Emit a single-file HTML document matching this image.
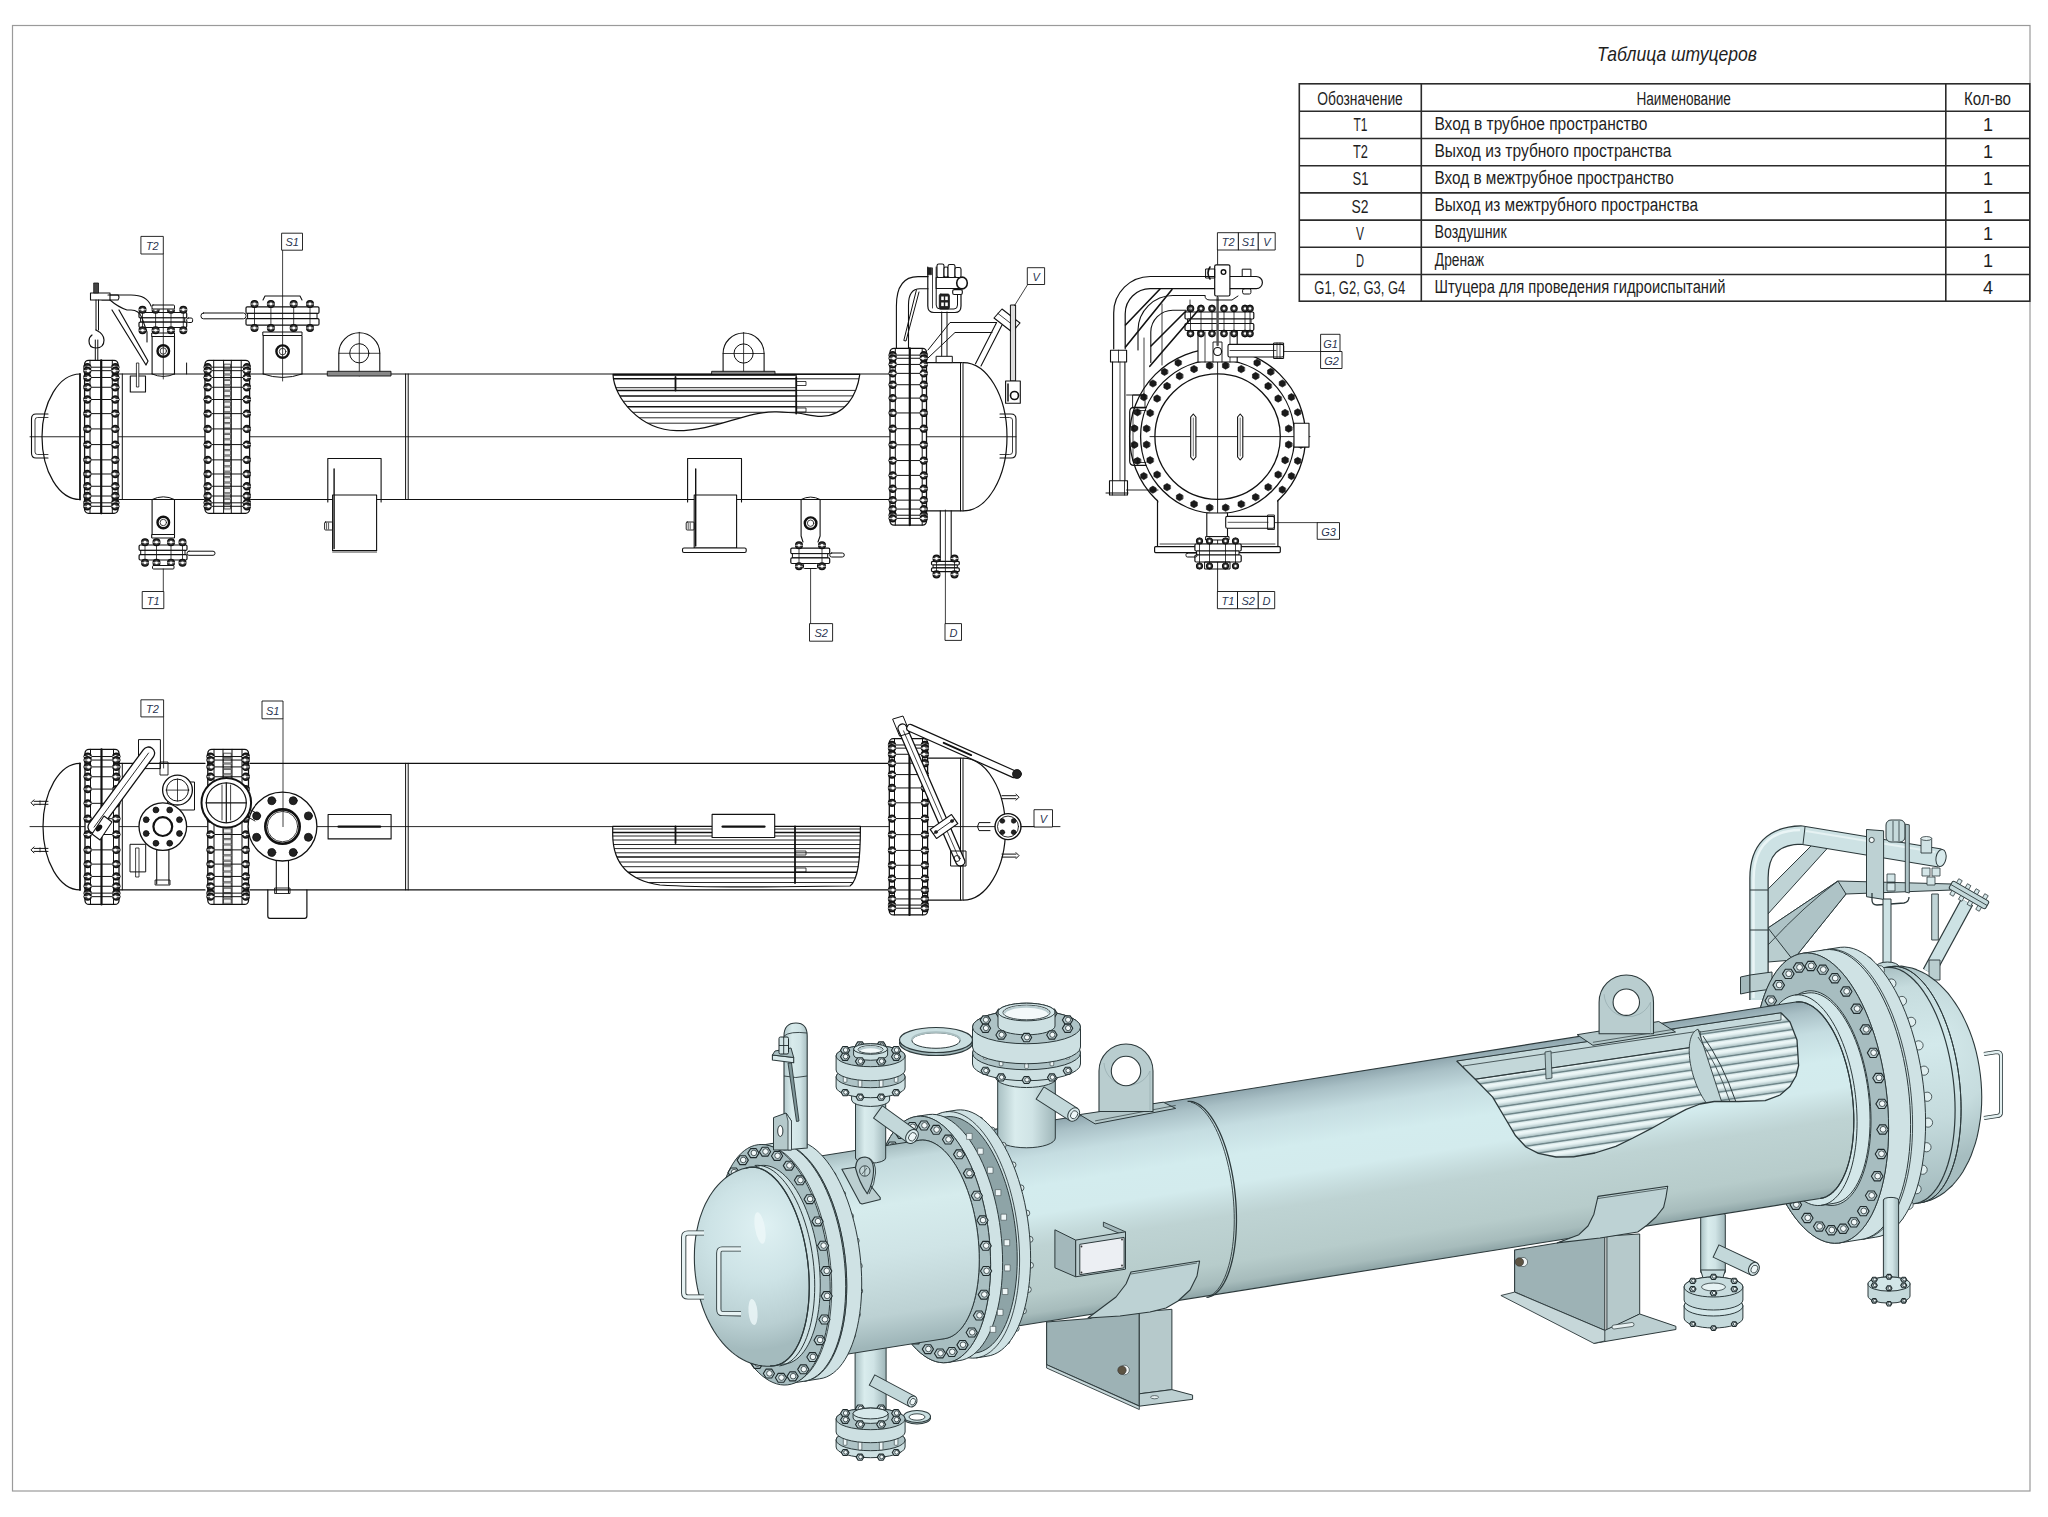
<!DOCTYPE html>
<html><head><meta charset="utf-8"><title>Heat exchanger</title>
<style>
html,body{margin:0;padding:0;background:#fff;width:2048px;height:1517px;overflow:hidden}
svg{display:block}
text{font-family:"Liberation Sans",sans-serif}
.tb text{font-size:18px;fill:#1e1e1e}
.ln{fill:none;stroke:#2a2a2a;stroke-width:1.3}
.th{fill:none;stroke:#2a2a2a;stroke-width:0.9}
.lt{font-size:11px;font-style:italic;fill:#2a3550;stroke:none;font-family:"Liberation Sans",sans-serif}
</style></head>
<body>
<svg width="2048" height="1517" viewBox="0 0 2048 1517">
<rect x="0" y="0" width="2048" height="1517" fill="#fff"/>
<!-- frame -->
<rect x="12.5" y="25.5" width="2017.5" height="1465.5" fill="none" stroke="#9a9a9a" stroke-width="1.2"/>

<!-- TABLE -->
<g id="table">
<text x="1677" y="61" font-size="21" font-style="italic" text-anchor="middle" fill="#1e1e1e" textLength="160" lengthAdjust="spacingAndGlyphs">Таблица штуцеров</text>
<g stroke="#2b2b2b" stroke-width="1.6" fill="none">
<rect x="1299.3" y="83.8" width="730.5" height="217.4"/>
<line x1="1421.3" y1="83.8" x2="1421.3" y2="301.2"/>
<line x1="1945.8" y1="83.8" x2="1945.8" y2="301.2"/>
<line x1="1299.3" y1="111.2" x2="2029.8" y2="111.2"/>
<line x1="1299.3" y1="138.5" x2="2029.8" y2="138.5"/>
<line x1="1299.3" y1="165.7" x2="2029.8" y2="165.7"/>
<line x1="1299.3" y1="192.9" x2="2029.8" y2="192.9"/>
<line x1="1299.3" y1="220.1" x2="2029.8" y2="220.1"/>
<line x1="1299.3" y1="247.3" x2="2029.8" y2="247.3"/>
<line x1="1299.3" y1="274.5" x2="2029.8" y2="274.5"/>
</g>
<g class="tb">
<text x="1317.3" y="104.5" textLength="85.5" lengthAdjust="spacingAndGlyphs">Обозначение</text>
<text x="1636.4" y="104.5" textLength="94.5" lengthAdjust="spacingAndGlyphs">Наименование</text>
<text x="1964" y="104.5" textLength="47" lengthAdjust="spacingAndGlyphs">Кол-во</text>

<text x="1360.5" y="131" text-anchor="middle" textLength="14" lengthAdjust="spacingAndGlyphs">T1</text>
<text x="1360.5" y="158" text-anchor="middle" textLength="15" lengthAdjust="spacingAndGlyphs">T2</text>
<text x="1360.5" y="185" text-anchor="middle" textLength="16" lengthAdjust="spacingAndGlyphs">S1</text>
<text x="1360" y="212.5" text-anchor="middle" textLength="17" lengthAdjust="spacingAndGlyphs">S2</text>
<text x="1360" y="239.5" text-anchor="middle" textLength="8" lengthAdjust="spacingAndGlyphs">V</text>
<text x="1360" y="267" text-anchor="middle" textLength="8" lengthAdjust="spacingAndGlyphs">D</text>
<text x="1314.3" y="294" textLength="91" lengthAdjust="spacingAndGlyphs">G1, G2, G3, G4</text>

<text x="1434.4" y="130" textLength="213" lengthAdjust="spacingAndGlyphs">Вход в трубное пространство</text>
<text x="1434.4" y="157" textLength="237" lengthAdjust="spacingAndGlyphs">Выход из трубного пространства</text>
<text x="1434.4" y="184" textLength="239.5" lengthAdjust="spacingAndGlyphs">Вход в межтрубное пространство</text>
<text x="1434.4" y="211" textLength="263.7" lengthAdjust="spacingAndGlyphs">Выход из межтрубного пространства</text>
<text x="1434.4" y="238.3" textLength="72.3" lengthAdjust="spacingAndGlyphs">Воздушник</text>
<text x="1434.8" y="265.5" textLength="49.2" lengthAdjust="spacingAndGlyphs">Дренаж</text>
<text x="1434.4" y="292.5" textLength="291" lengthAdjust="spacingAndGlyphs">Штуцера для проведения гидроиспытаний</text>

<text x="1988" y="131" text-anchor="middle">1</text>
<text x="1988" y="158" text-anchor="middle">1</text>
<text x="1988" y="185" text-anchor="middle">1</text>
<text x="1988" y="212.5" text-anchor="middle">1</text>
<text x="1988" y="239.5" text-anchor="middle">1</text>
<text x="1988" y="267" text-anchor="middle">1</text>
<text x="1988" y="294" text-anchor="middle">4</text>
</g>
</g>

<g id="viewA" fill="none" stroke="#111" stroke-width="1.25" stroke-linecap="round" stroke-linejoin="round">
<line x1="30" y1="436.75" x2="1016" y2="436.75" stroke-width="0.9"/>
<path d="M80,374 A38,62.75 0 0 0 80,499.5" stroke-width="1.2"/>
<line x1="80" y1="374" x2="80" y2="499.5" stroke-width="1.8"/>
<path d="M48,414 L36,414 Q31.5,414 31.5,419 L31.5,453 Q31.5,458 36,458 L48,458" stroke-width="1.1"/>
<path d="M48,417.5 L37.5,417.5 Q35,417.5 35,420 L35,452 Q35,454.5 37.5,454.5 L48,454.5" stroke-width="0.8"/>
<line x1="119" y1="374" x2="204" y2="374" stroke-width="1.2"/>
<line x1="119" y1="499.5" x2="204" y2="499.5" stroke-width="1.2"/>
<line x1="122.3" y1="374" x2="122.3" y2="499.5" stroke-width="1"/>
<line x1="250.6" y1="374" x2="889" y2="374" stroke-width="1.2"/>
<line x1="250.6" y1="499.5" x2="889" y2="499.5" stroke-width="1.2"/>
<line x1="405.6" y1="374" x2="405.6" y2="499.5" stroke-width="1"/>
<line x1="408.2" y1="374" x2="408.2" y2="499.5" stroke-width="1"/>
<rect x="84.6" y="360.3" width="33.4" height="153" rx="4" fill="#fff" stroke-width="1.3"/>
<line x1="90" y1="360.3" x2="90" y2="513.3" stroke-width="1"/>
<line x1="112.3" y1="360.3" x2="112.3" y2="513.3" stroke-width="1"/>
<line x1="101.2" y1="360.3" x2="101.2" y2="513.3" stroke-width="2.2"/>
<line x1="83.6" y1="367.19" x2="119" y2="367.19" stroke-width="1"/>
<circle cx="87.3" cy="367.19" r="3.4" fill="#3a3a3a" stroke-width="1.5"/>
<circle cx="88.2" cy="367.19" r="1.5" fill="#fff" stroke-width="0"/>
<line x1="83.9" y1="367.19" x2="90.7" y2="367.19" stroke-width="0.8" stroke="#fff"/>
<circle cx="115.3" cy="367.19" r="3.4" fill="#3a3a3a" stroke-width="1.5"/>
<circle cx="114.4" cy="367.19" r="1.5" fill="#fff" stroke-width="0"/>
<line x1="111.9" y1="367.19" x2="118.7" y2="367.19" stroke-width="0.8" stroke="#fff"/>
<line x1="83.6" y1="370.68" x2="119" y2="370.68" stroke-width="1"/>
<circle cx="87.3" cy="370.68" r="3.4" fill="#3a3a3a" stroke-width="1.5"/>
<circle cx="88.2" cy="370.68" r="1.5" fill="#fff" stroke-width="0"/>
<line x1="83.9" y1="370.68" x2="90.7" y2="370.68" stroke-width="0.8" stroke="#fff"/>
<circle cx="115.3" cy="370.68" r="3.4" fill="#3a3a3a" stroke-width="1.5"/>
<circle cx="114.4" cy="370.68" r="1.5" fill="#fff" stroke-width="0"/>
<line x1="111.9" y1="370.68" x2="118.7" y2="370.68" stroke-width="0.8" stroke="#fff"/>
<line x1="83.6" y1="377.48" x2="119" y2="377.48" stroke-width="1"/>
<circle cx="87.3" cy="377.48" r="3.4" fill="#3a3a3a" stroke-width="1.5"/>
<circle cx="88.2" cy="377.48" r="1.5" fill="#fff" stroke-width="0"/>
<line x1="83.9" y1="377.48" x2="90.7" y2="377.48" stroke-width="0.8" stroke="#fff"/>
<circle cx="115.3" cy="377.48" r="3.4" fill="#3a3a3a" stroke-width="1.5"/>
<circle cx="114.4" cy="377.48" r="1.5" fill="#fff" stroke-width="0"/>
<line x1="111.9" y1="377.48" x2="118.7" y2="377.48" stroke-width="0.8" stroke="#fff"/>
<line x1="83.6" y1="387.25" x2="119" y2="387.25" stroke-width="1"/>
<circle cx="87.3" cy="387.25" r="3.4" fill="#3a3a3a" stroke-width="1.5"/>
<circle cx="88.2" cy="387.25" r="1.5" fill="#fff" stroke-width="0"/>
<line x1="83.9" y1="387.25" x2="90.7" y2="387.25" stroke-width="0.8" stroke="#fff"/>
<circle cx="115.3" cy="387.25" r="3.4" fill="#3a3a3a" stroke-width="1.5"/>
<circle cx="114.4" cy="387.25" r="1.5" fill="#fff" stroke-width="0"/>
<line x1="111.9" y1="387.25" x2="118.7" y2="387.25" stroke-width="0.8" stroke="#fff"/>
<line x1="83.6" y1="399.51" x2="119" y2="399.51" stroke-width="1"/>
<circle cx="87.3" cy="399.51" r="3.4" fill="#3a3a3a" stroke-width="1.5"/>
<circle cx="88.2" cy="399.51" r="1.5" fill="#fff" stroke-width="0"/>
<line x1="83.9" y1="399.51" x2="90.7" y2="399.51" stroke-width="0.8" stroke="#fff"/>
<circle cx="115.3" cy="399.51" r="3.4" fill="#3a3a3a" stroke-width="1.5"/>
<circle cx="114.4" cy="399.51" r="1.5" fill="#fff" stroke-width="0"/>
<line x1="111.9" y1="399.51" x2="118.7" y2="399.51" stroke-width="0.8" stroke="#fff"/>
<line x1="83.6" y1="413.63" x2="119" y2="413.63" stroke-width="1"/>
<circle cx="87.3" cy="413.63" r="3.4" fill="#3a3a3a" stroke-width="1.5"/>
<circle cx="88.2" cy="413.63" r="1.5" fill="#fff" stroke-width="0"/>
<line x1="83.9" y1="413.63" x2="90.7" y2="413.63" stroke-width="0.8" stroke="#fff"/>
<circle cx="115.3" cy="413.63" r="3.4" fill="#3a3a3a" stroke-width="1.5"/>
<circle cx="114.4" cy="413.63" r="1.5" fill="#fff" stroke-width="0"/>
<line x1="111.9" y1="413.63" x2="118.7" y2="413.63" stroke-width="0.8" stroke="#fff"/>
<line x1="83.6" y1="428.91" x2="119" y2="428.91" stroke-width="1"/>
<circle cx="87.3" cy="428.91" r="3.4" fill="#3a3a3a" stroke-width="1.5"/>
<circle cx="88.2" cy="428.91" r="1.5" fill="#fff" stroke-width="0"/>
<line x1="83.9" y1="428.91" x2="90.7" y2="428.91" stroke-width="0.8" stroke="#fff"/>
<circle cx="115.3" cy="428.91" r="3.4" fill="#3a3a3a" stroke-width="1.5"/>
<circle cx="114.4" cy="428.91" r="1.5" fill="#fff" stroke-width="0"/>
<line x1="111.9" y1="428.91" x2="118.7" y2="428.91" stroke-width="0.8" stroke="#fff"/>
<line x1="83.6" y1="444.59" x2="119" y2="444.59" stroke-width="1"/>
<circle cx="87.3" cy="444.59" r="3.4" fill="#3a3a3a" stroke-width="1.5"/>
<circle cx="88.2" cy="444.59" r="1.5" fill="#fff" stroke-width="0"/>
<line x1="83.9" y1="444.59" x2="90.7" y2="444.59" stroke-width="0.8" stroke="#fff"/>
<circle cx="115.3" cy="444.59" r="3.4" fill="#3a3a3a" stroke-width="1.5"/>
<circle cx="114.4" cy="444.59" r="1.5" fill="#fff" stroke-width="0"/>
<line x1="111.9" y1="444.59" x2="118.7" y2="444.59" stroke-width="0.8" stroke="#fff"/>
<line x1="83.6" y1="459.87" x2="119" y2="459.87" stroke-width="1"/>
<circle cx="87.3" cy="459.87" r="3.4" fill="#3a3a3a" stroke-width="1.5"/>
<circle cx="88.2" cy="459.87" r="1.5" fill="#fff" stroke-width="0"/>
<line x1="83.9" y1="459.87" x2="90.7" y2="459.87" stroke-width="0.8" stroke="#fff"/>
<circle cx="115.3" cy="459.87" r="3.4" fill="#3a3a3a" stroke-width="1.5"/>
<circle cx="114.4" cy="459.87" r="1.5" fill="#fff" stroke-width="0"/>
<line x1="111.9" y1="459.87" x2="118.7" y2="459.87" stroke-width="0.8" stroke="#fff"/>
<line x1="83.6" y1="473.99" x2="119" y2="473.99" stroke-width="1"/>
<circle cx="87.3" cy="473.99" r="3.4" fill="#3a3a3a" stroke-width="1.5"/>
<circle cx="88.2" cy="473.99" r="1.5" fill="#fff" stroke-width="0"/>
<line x1="83.9" y1="473.99" x2="90.7" y2="473.99" stroke-width="0.8" stroke="#fff"/>
<circle cx="115.3" cy="473.99" r="3.4" fill="#3a3a3a" stroke-width="1.5"/>
<circle cx="114.4" cy="473.99" r="1.5" fill="#fff" stroke-width="0"/>
<line x1="111.9" y1="473.99" x2="118.7" y2="473.99" stroke-width="0.8" stroke="#fff"/>
<line x1="83.6" y1="486.25" x2="119" y2="486.25" stroke-width="1"/>
<circle cx="87.3" cy="486.25" r="3.4" fill="#3a3a3a" stroke-width="1.5"/>
<circle cx="88.2" cy="486.25" r="1.5" fill="#fff" stroke-width="0"/>
<line x1="83.9" y1="486.25" x2="90.7" y2="486.25" stroke-width="0.8" stroke="#fff"/>
<circle cx="115.3" cy="486.25" r="3.4" fill="#3a3a3a" stroke-width="1.5"/>
<circle cx="114.4" cy="486.25" r="1.5" fill="#fff" stroke-width="0"/>
<line x1="111.9" y1="486.25" x2="118.7" y2="486.25" stroke-width="0.8" stroke="#fff"/>
<line x1="83.6" y1="496.02" x2="119" y2="496.02" stroke-width="1"/>
<circle cx="87.3" cy="496.02" r="3.4" fill="#3a3a3a" stroke-width="1.5"/>
<circle cx="88.2" cy="496.02" r="1.5" fill="#fff" stroke-width="0"/>
<line x1="83.9" y1="496.02" x2="90.7" y2="496.02" stroke-width="0.8" stroke="#fff"/>
<circle cx="115.3" cy="496.02" r="3.4" fill="#3a3a3a" stroke-width="1.5"/>
<circle cx="114.4" cy="496.02" r="1.5" fill="#fff" stroke-width="0"/>
<line x1="111.9" y1="496.02" x2="118.7" y2="496.02" stroke-width="0.8" stroke="#fff"/>
<line x1="83.6" y1="502.82" x2="119" y2="502.82" stroke-width="1"/>
<circle cx="87.3" cy="502.82" r="3.4" fill="#3a3a3a" stroke-width="1.5"/>
<circle cx="88.2" cy="502.82" r="1.5" fill="#fff" stroke-width="0"/>
<line x1="83.9" y1="502.82" x2="90.7" y2="502.82" stroke-width="0.8" stroke="#fff"/>
<circle cx="115.3" cy="502.82" r="3.4" fill="#3a3a3a" stroke-width="1.5"/>
<circle cx="114.4" cy="502.82" r="1.5" fill="#fff" stroke-width="0"/>
<line x1="111.9" y1="502.82" x2="118.7" y2="502.82" stroke-width="0.8" stroke="#fff"/>
<line x1="83.6" y1="506.31" x2="119" y2="506.31" stroke-width="1"/>
<circle cx="87.3" cy="506.31" r="3.4" fill="#3a3a3a" stroke-width="1.5"/>
<circle cx="88.2" cy="506.31" r="1.5" fill="#fff" stroke-width="0"/>
<line x1="83.9" y1="506.31" x2="90.7" y2="506.31" stroke-width="0.8" stroke="#fff"/>
<circle cx="115.3" cy="506.31" r="3.4" fill="#3a3a3a" stroke-width="1.5"/>
<circle cx="114.4" cy="506.31" r="1.5" fill="#fff" stroke-width="0"/>
<line x1="111.9" y1="506.31" x2="118.7" y2="506.31" stroke-width="0.8" stroke="#fff"/>
<rect x="205" y="360.3" width="44.6" height="153" rx="4" fill="#fff" stroke-width="1.3"/>
<rect x="223.6" y="363.3" width="7.7" height="147" fill="#d9d9d9" stroke-width="0"/>
<rect x="224.4" y="364.3" width="6.1" height="4.2" fill="#f2f2f2" stroke-width="0.7" stroke="#333"/>
<rect x="224.4" y="369.7" width="6.1" height="4.2" fill="#f2f2f2" stroke-width="0.7" stroke="#333"/>
<rect x="224.4" y="375.1" width="6.1" height="4.2" fill="#f2f2f2" stroke-width="0.7" stroke="#333"/>
<rect x="224.4" y="380.5" width="6.1" height="4.2" fill="#f2f2f2" stroke-width="0.7" stroke="#333"/>
<rect x="224.4" y="385.9" width="6.1" height="4.2" fill="#f2f2f2" stroke-width="0.7" stroke="#333"/>
<rect x="224.4" y="391.3" width="6.1" height="4.2" fill="#f2f2f2" stroke-width="0.7" stroke="#333"/>
<rect x="224.4" y="396.7" width="6.1" height="4.2" fill="#f2f2f2" stroke-width="0.7" stroke="#333"/>
<rect x="224.4" y="402.1" width="6.1" height="4.2" fill="#f2f2f2" stroke-width="0.7" stroke="#333"/>
<rect x="224.4" y="407.5" width="6.1" height="4.2" fill="#f2f2f2" stroke-width="0.7" stroke="#333"/>
<rect x="224.4" y="412.9" width="6.1" height="4.2" fill="#f2f2f2" stroke-width="0.7" stroke="#333"/>
<rect x="224.4" y="418.3" width="6.1" height="4.2" fill="#f2f2f2" stroke-width="0.7" stroke="#333"/>
<rect x="224.4" y="423.7" width="6.1" height="4.2" fill="#f2f2f2" stroke-width="0.7" stroke="#333"/>
<rect x="224.4" y="429.1" width="6.1" height="4.2" fill="#f2f2f2" stroke-width="0.7" stroke="#333"/>
<rect x="224.4" y="434.5" width="6.1" height="4.2" fill="#f2f2f2" stroke-width="0.7" stroke="#333"/>
<rect x="224.4" y="439.9" width="6.1" height="4.2" fill="#f2f2f2" stroke-width="0.7" stroke="#333"/>
<rect x="224.4" y="445.3" width="6.1" height="4.2" fill="#f2f2f2" stroke-width="0.7" stroke="#333"/>
<rect x="224.4" y="450.7" width="6.1" height="4.2" fill="#f2f2f2" stroke-width="0.7" stroke="#333"/>
<rect x="224.4" y="456.1" width="6.1" height="4.2" fill="#f2f2f2" stroke-width="0.7" stroke="#333"/>
<rect x="224.4" y="461.5" width="6.1" height="4.2" fill="#f2f2f2" stroke-width="0.7" stroke="#333"/>
<rect x="224.4" y="466.9" width="6.1" height="4.2" fill="#f2f2f2" stroke-width="0.7" stroke="#333"/>
<rect x="224.4" y="472.3" width="6.1" height="4.2" fill="#f2f2f2" stroke-width="0.7" stroke="#333"/>
<rect x="224.4" y="477.7" width="6.1" height="4.2" fill="#f2f2f2" stroke-width="0.7" stroke="#333"/>
<rect x="224.4" y="483.1" width="6.1" height="4.2" fill="#f2f2f2" stroke-width="0.7" stroke="#333"/>
<rect x="224.4" y="488.5" width="6.1" height="4.2" fill="#f2f2f2" stroke-width="0.7" stroke="#333"/>
<rect x="224.4" y="493.9" width="6.1" height="4.2" fill="#f2f2f2" stroke-width="0.7" stroke="#333"/>
<rect x="224.4" y="499.3" width="6.1" height="4.2" fill="#f2f2f2" stroke-width="0.7" stroke="#333"/>
<rect x="224.4" y="504.7" width="6.1" height="4.2" fill="#f2f2f2" stroke-width="0.7" stroke="#333"/>
<line x1="213.7" y1="360.3" x2="213.7" y2="513.3" stroke-width="1"/>
<line x1="223.6" y1="360.3" x2="223.6" y2="513.3" stroke-width="1"/>
<line x1="231.3" y1="360.3" x2="231.3" y2="513.3" stroke-width="1"/>
<line x1="241.2" y1="360.3" x2="241.2" y2="513.3" stroke-width="1"/>
<line x1="204" y1="367.19" x2="250.6" y2="367.19" stroke-width="1"/>
<circle cx="207.7" cy="367.19" r="3.4" fill="#3a3a3a" stroke-width="1.5"/>
<circle cx="208.6" cy="367.19" r="1.5" fill="#fff" stroke-width="0"/>
<line x1="204.3" y1="367.19" x2="211.1" y2="367.19" stroke-width="0.8" stroke="#fff"/>
<circle cx="246.9" cy="367.19" r="3.4" fill="#3a3a3a" stroke-width="1.5"/>
<circle cx="246" cy="367.19" r="1.5" fill="#fff" stroke-width="0"/>
<line x1="243.5" y1="367.19" x2="250.3" y2="367.19" stroke-width="0.8" stroke="#fff"/>
<line x1="204" y1="370.68" x2="250.6" y2="370.68" stroke-width="1"/>
<circle cx="207.7" cy="370.68" r="3.4" fill="#3a3a3a" stroke-width="1.5"/>
<circle cx="208.6" cy="370.68" r="1.5" fill="#fff" stroke-width="0"/>
<line x1="204.3" y1="370.68" x2="211.1" y2="370.68" stroke-width="0.8" stroke="#fff"/>
<circle cx="246.9" cy="370.68" r="3.4" fill="#3a3a3a" stroke-width="1.5"/>
<circle cx="246" cy="370.68" r="1.5" fill="#fff" stroke-width="0"/>
<line x1="243.5" y1="370.68" x2="250.3" y2="370.68" stroke-width="0.8" stroke="#fff"/>
<line x1="204" y1="377.48" x2="250.6" y2="377.48" stroke-width="1"/>
<circle cx="207.7" cy="377.48" r="3.4" fill="#3a3a3a" stroke-width="1.5"/>
<circle cx="208.6" cy="377.48" r="1.5" fill="#fff" stroke-width="0"/>
<line x1="204.3" y1="377.48" x2="211.1" y2="377.48" stroke-width="0.8" stroke="#fff"/>
<circle cx="246.9" cy="377.48" r="3.4" fill="#3a3a3a" stroke-width="1.5"/>
<circle cx="246" cy="377.48" r="1.5" fill="#fff" stroke-width="0"/>
<line x1="243.5" y1="377.48" x2="250.3" y2="377.48" stroke-width="0.8" stroke="#fff"/>
<line x1="204" y1="387.25" x2="250.6" y2="387.25" stroke-width="1"/>
<circle cx="207.7" cy="387.25" r="3.4" fill="#3a3a3a" stroke-width="1.5"/>
<circle cx="208.6" cy="387.25" r="1.5" fill="#fff" stroke-width="0"/>
<line x1="204.3" y1="387.25" x2="211.1" y2="387.25" stroke-width="0.8" stroke="#fff"/>
<circle cx="246.9" cy="387.25" r="3.4" fill="#3a3a3a" stroke-width="1.5"/>
<circle cx="246" cy="387.25" r="1.5" fill="#fff" stroke-width="0"/>
<line x1="243.5" y1="387.25" x2="250.3" y2="387.25" stroke-width="0.8" stroke="#fff"/>
<line x1="204" y1="399.51" x2="250.6" y2="399.51" stroke-width="1"/>
<circle cx="207.7" cy="399.51" r="3.4" fill="#3a3a3a" stroke-width="1.5"/>
<circle cx="208.6" cy="399.51" r="1.5" fill="#fff" stroke-width="0"/>
<line x1="204.3" y1="399.51" x2="211.1" y2="399.51" stroke-width="0.8" stroke="#fff"/>
<circle cx="246.9" cy="399.51" r="3.4" fill="#3a3a3a" stroke-width="1.5"/>
<circle cx="246" cy="399.51" r="1.5" fill="#fff" stroke-width="0"/>
<line x1="243.5" y1="399.51" x2="250.3" y2="399.51" stroke-width="0.8" stroke="#fff"/>
<line x1="204" y1="413.63" x2="250.6" y2="413.63" stroke-width="1"/>
<circle cx="207.7" cy="413.63" r="3.4" fill="#3a3a3a" stroke-width="1.5"/>
<circle cx="208.6" cy="413.63" r="1.5" fill="#fff" stroke-width="0"/>
<line x1="204.3" y1="413.63" x2="211.1" y2="413.63" stroke-width="0.8" stroke="#fff"/>
<circle cx="246.9" cy="413.63" r="3.4" fill="#3a3a3a" stroke-width="1.5"/>
<circle cx="246" cy="413.63" r="1.5" fill="#fff" stroke-width="0"/>
<line x1="243.5" y1="413.63" x2="250.3" y2="413.63" stroke-width="0.8" stroke="#fff"/>
<line x1="204" y1="428.91" x2="250.6" y2="428.91" stroke-width="1"/>
<circle cx="207.7" cy="428.91" r="3.4" fill="#3a3a3a" stroke-width="1.5"/>
<circle cx="208.6" cy="428.91" r="1.5" fill="#fff" stroke-width="0"/>
<line x1="204.3" y1="428.91" x2="211.1" y2="428.91" stroke-width="0.8" stroke="#fff"/>
<circle cx="246.9" cy="428.91" r="3.4" fill="#3a3a3a" stroke-width="1.5"/>
<circle cx="246" cy="428.91" r="1.5" fill="#fff" stroke-width="0"/>
<line x1="243.5" y1="428.91" x2="250.3" y2="428.91" stroke-width="0.8" stroke="#fff"/>
<line x1="204" y1="444.59" x2="250.6" y2="444.59" stroke-width="1"/>
<circle cx="207.7" cy="444.59" r="3.4" fill="#3a3a3a" stroke-width="1.5"/>
<circle cx="208.6" cy="444.59" r="1.5" fill="#fff" stroke-width="0"/>
<line x1="204.3" y1="444.59" x2="211.1" y2="444.59" stroke-width="0.8" stroke="#fff"/>
<circle cx="246.9" cy="444.59" r="3.4" fill="#3a3a3a" stroke-width="1.5"/>
<circle cx="246" cy="444.59" r="1.5" fill="#fff" stroke-width="0"/>
<line x1="243.5" y1="444.59" x2="250.3" y2="444.59" stroke-width="0.8" stroke="#fff"/>
<line x1="204" y1="459.87" x2="250.6" y2="459.87" stroke-width="1"/>
<circle cx="207.7" cy="459.87" r="3.4" fill="#3a3a3a" stroke-width="1.5"/>
<circle cx="208.6" cy="459.87" r="1.5" fill="#fff" stroke-width="0"/>
<line x1="204.3" y1="459.87" x2="211.1" y2="459.87" stroke-width="0.8" stroke="#fff"/>
<circle cx="246.9" cy="459.87" r="3.4" fill="#3a3a3a" stroke-width="1.5"/>
<circle cx="246" cy="459.87" r="1.5" fill="#fff" stroke-width="0"/>
<line x1="243.5" y1="459.87" x2="250.3" y2="459.87" stroke-width="0.8" stroke="#fff"/>
<line x1="204" y1="473.99" x2="250.6" y2="473.99" stroke-width="1"/>
<circle cx="207.7" cy="473.99" r="3.4" fill="#3a3a3a" stroke-width="1.5"/>
<circle cx="208.6" cy="473.99" r="1.5" fill="#fff" stroke-width="0"/>
<line x1="204.3" y1="473.99" x2="211.1" y2="473.99" stroke-width="0.8" stroke="#fff"/>
<circle cx="246.9" cy="473.99" r="3.4" fill="#3a3a3a" stroke-width="1.5"/>
<circle cx="246" cy="473.99" r="1.5" fill="#fff" stroke-width="0"/>
<line x1="243.5" y1="473.99" x2="250.3" y2="473.99" stroke-width="0.8" stroke="#fff"/>
<line x1="204" y1="486.25" x2="250.6" y2="486.25" stroke-width="1"/>
<circle cx="207.7" cy="486.25" r="3.4" fill="#3a3a3a" stroke-width="1.5"/>
<circle cx="208.6" cy="486.25" r="1.5" fill="#fff" stroke-width="0"/>
<line x1="204.3" y1="486.25" x2="211.1" y2="486.25" stroke-width="0.8" stroke="#fff"/>
<circle cx="246.9" cy="486.25" r="3.4" fill="#3a3a3a" stroke-width="1.5"/>
<circle cx="246" cy="486.25" r="1.5" fill="#fff" stroke-width="0"/>
<line x1="243.5" y1="486.25" x2="250.3" y2="486.25" stroke-width="0.8" stroke="#fff"/>
<line x1="204" y1="496.02" x2="250.6" y2="496.02" stroke-width="1"/>
<circle cx="207.7" cy="496.02" r="3.4" fill="#3a3a3a" stroke-width="1.5"/>
<circle cx="208.6" cy="496.02" r="1.5" fill="#fff" stroke-width="0"/>
<line x1="204.3" y1="496.02" x2="211.1" y2="496.02" stroke-width="0.8" stroke="#fff"/>
<circle cx="246.9" cy="496.02" r="3.4" fill="#3a3a3a" stroke-width="1.5"/>
<circle cx="246" cy="496.02" r="1.5" fill="#fff" stroke-width="0"/>
<line x1="243.5" y1="496.02" x2="250.3" y2="496.02" stroke-width="0.8" stroke="#fff"/>
<line x1="204" y1="502.82" x2="250.6" y2="502.82" stroke-width="1"/>
<circle cx="207.7" cy="502.82" r="3.4" fill="#3a3a3a" stroke-width="1.5"/>
<circle cx="208.6" cy="502.82" r="1.5" fill="#fff" stroke-width="0"/>
<line x1="204.3" y1="502.82" x2="211.1" y2="502.82" stroke-width="0.8" stroke="#fff"/>
<circle cx="246.9" cy="502.82" r="3.4" fill="#3a3a3a" stroke-width="1.5"/>
<circle cx="246" cy="502.82" r="1.5" fill="#fff" stroke-width="0"/>
<line x1="243.5" y1="502.82" x2="250.3" y2="502.82" stroke-width="0.8" stroke="#fff"/>
<line x1="204" y1="506.31" x2="250.6" y2="506.31" stroke-width="1"/>
<circle cx="207.7" cy="506.31" r="3.4" fill="#3a3a3a" stroke-width="1.5"/>
<circle cx="208.6" cy="506.31" r="1.5" fill="#fff" stroke-width="0"/>
<line x1="204.3" y1="506.31" x2="211.1" y2="506.31" stroke-width="0.8" stroke="#fff"/>
<circle cx="246.9" cy="506.31" r="3.4" fill="#3a3a3a" stroke-width="1.5"/>
<circle cx="246" cy="506.31" r="1.5" fill="#fff" stroke-width="0"/>
<line x1="243.5" y1="506.31" x2="250.3" y2="506.31" stroke-width="0.8" stroke="#fff"/>
<rect x="890" y="348.4" width="36.5" height="176.7" rx="4" fill="#fff" stroke-width="1.3"/>
<line x1="895.3" y1="348.4" x2="895.3" y2="525.1" stroke-width="1"/>
<line x1="922.2" y1="348.4" x2="922.2" y2="525.1" stroke-width="1"/>
<line x1="909.8" y1="348.4" x2="909.8" y2="525.1" stroke-width="2.2"/>
<line x1="889" y1="355.14" x2="927.5" y2="355.14" stroke-width="1"/>
<circle cx="892.7" cy="355.14" r="3.4" fill="#3a3a3a" stroke-width="1.5"/>
<circle cx="893.6" cy="355.14" r="1.5" fill="#fff" stroke-width="0"/>
<line x1="889.3" y1="355.14" x2="896.1" y2="355.14" stroke-width="0.8" stroke="#fff"/>
<circle cx="923.8" cy="355.14" r="3.4" fill="#3a3a3a" stroke-width="1.5"/>
<circle cx="922.9" cy="355.14" r="1.5" fill="#fff" stroke-width="0"/>
<line x1="920.4" y1="355.14" x2="927.2" y2="355.14" stroke-width="0.8" stroke="#fff"/>
<line x1="889" y1="358.28" x2="927.5" y2="358.28" stroke-width="1"/>
<circle cx="892.7" cy="358.28" r="3.4" fill="#3a3a3a" stroke-width="1.5"/>
<circle cx="893.6" cy="358.28" r="1.5" fill="#fff" stroke-width="0"/>
<line x1="889.3" y1="358.28" x2="896.1" y2="358.28" stroke-width="0.8" stroke="#fff"/>
<circle cx="923.8" cy="358.28" r="3.4" fill="#3a3a3a" stroke-width="1.5"/>
<circle cx="922.9" cy="358.28" r="1.5" fill="#fff" stroke-width="0"/>
<line x1="920.4" y1="358.28" x2="927.2" y2="358.28" stroke-width="0.8" stroke="#fff"/>
<line x1="889" y1="364.43" x2="927.5" y2="364.43" stroke-width="1"/>
<circle cx="892.7" cy="364.43" r="3.4" fill="#3a3a3a" stroke-width="1.5"/>
<circle cx="893.6" cy="364.43" r="1.5" fill="#fff" stroke-width="0"/>
<line x1="889.3" y1="364.43" x2="896.1" y2="364.43" stroke-width="0.8" stroke="#fff"/>
<circle cx="923.8" cy="364.43" r="3.4" fill="#3a3a3a" stroke-width="1.5"/>
<circle cx="922.9" cy="364.43" r="1.5" fill="#fff" stroke-width="0"/>
<line x1="920.4" y1="364.43" x2="927.2" y2="364.43" stroke-width="0.8" stroke="#fff"/>
<line x1="889" y1="373.36" x2="927.5" y2="373.36" stroke-width="1"/>
<circle cx="892.7" cy="373.36" r="3.4" fill="#3a3a3a" stroke-width="1.5"/>
<circle cx="893.6" cy="373.36" r="1.5" fill="#fff" stroke-width="0"/>
<line x1="889.3" y1="373.36" x2="896.1" y2="373.36" stroke-width="0.8" stroke="#fff"/>
<circle cx="923.8" cy="373.36" r="3.4" fill="#3a3a3a" stroke-width="1.5"/>
<circle cx="922.9" cy="373.36" r="1.5" fill="#fff" stroke-width="0"/>
<line x1="920.4" y1="373.36" x2="927.2" y2="373.36" stroke-width="0.8" stroke="#fff"/>
<line x1="889" y1="384.73" x2="927.5" y2="384.73" stroke-width="1"/>
<circle cx="892.7" cy="384.73" r="3.4" fill="#3a3a3a" stroke-width="1.5"/>
<circle cx="893.6" cy="384.73" r="1.5" fill="#fff" stroke-width="0"/>
<line x1="889.3" y1="384.73" x2="896.1" y2="384.73" stroke-width="0.8" stroke="#fff"/>
<circle cx="923.8" cy="384.73" r="3.4" fill="#3a3a3a" stroke-width="1.5"/>
<circle cx="922.9" cy="384.73" r="1.5" fill="#fff" stroke-width="0"/>
<line x1="920.4" y1="384.73" x2="927.2" y2="384.73" stroke-width="0.8" stroke="#fff"/>
<line x1="889" y1="398.1" x2="927.5" y2="398.1" stroke-width="1"/>
<circle cx="892.7" cy="398.1" r="3.4" fill="#3a3a3a" stroke-width="1.5"/>
<circle cx="893.6" cy="398.1" r="1.5" fill="#fff" stroke-width="0"/>
<line x1="889.3" y1="398.1" x2="896.1" y2="398.1" stroke-width="0.8" stroke="#fff"/>
<circle cx="923.8" cy="398.1" r="3.4" fill="#3a3a3a" stroke-width="1.5"/>
<circle cx="922.9" cy="398.1" r="1.5" fill="#fff" stroke-width="0"/>
<line x1="920.4" y1="398.1" x2="927.2" y2="398.1" stroke-width="0.8" stroke="#fff"/>
<line x1="889" y1="412.95" x2="927.5" y2="412.95" stroke-width="1"/>
<circle cx="892.7" cy="412.95" r="3.4" fill="#3a3a3a" stroke-width="1.5"/>
<circle cx="893.6" cy="412.95" r="1.5" fill="#fff" stroke-width="0"/>
<line x1="889.3" y1="412.95" x2="896.1" y2="412.95" stroke-width="0.8" stroke="#fff"/>
<circle cx="923.8" cy="412.95" r="3.4" fill="#3a3a3a" stroke-width="1.5"/>
<circle cx="922.9" cy="412.95" r="1.5" fill="#fff" stroke-width="0"/>
<line x1="920.4" y1="412.95" x2="927.2" y2="412.95" stroke-width="0.8" stroke="#fff"/>
<line x1="889" y1="428.71" x2="927.5" y2="428.71" stroke-width="1"/>
<circle cx="892.7" cy="428.71" r="3.4" fill="#3a3a3a" stroke-width="1.5"/>
<circle cx="893.6" cy="428.71" r="1.5" fill="#fff" stroke-width="0"/>
<line x1="889.3" y1="428.71" x2="896.1" y2="428.71" stroke-width="0.8" stroke="#fff"/>
<circle cx="923.8" cy="428.71" r="3.4" fill="#3a3a3a" stroke-width="1.5"/>
<circle cx="922.9" cy="428.71" r="1.5" fill="#fff" stroke-width="0"/>
<line x1="920.4" y1="428.71" x2="927.2" y2="428.71" stroke-width="0.8" stroke="#fff"/>
<line x1="889" y1="444.79" x2="927.5" y2="444.79" stroke-width="1"/>
<circle cx="892.7" cy="444.79" r="3.4" fill="#3a3a3a" stroke-width="1.5"/>
<circle cx="893.6" cy="444.79" r="1.5" fill="#fff" stroke-width="0"/>
<line x1="889.3" y1="444.79" x2="896.1" y2="444.79" stroke-width="0.8" stroke="#fff"/>
<circle cx="923.8" cy="444.79" r="3.4" fill="#3a3a3a" stroke-width="1.5"/>
<circle cx="922.9" cy="444.79" r="1.5" fill="#fff" stroke-width="0"/>
<line x1="920.4" y1="444.79" x2="927.2" y2="444.79" stroke-width="0.8" stroke="#fff"/>
<line x1="889" y1="460.55" x2="927.5" y2="460.55" stroke-width="1"/>
<circle cx="892.7" cy="460.55" r="3.4" fill="#3a3a3a" stroke-width="1.5"/>
<circle cx="893.6" cy="460.55" r="1.5" fill="#fff" stroke-width="0"/>
<line x1="889.3" y1="460.55" x2="896.1" y2="460.55" stroke-width="0.8" stroke="#fff"/>
<circle cx="923.8" cy="460.55" r="3.4" fill="#3a3a3a" stroke-width="1.5"/>
<circle cx="922.9" cy="460.55" r="1.5" fill="#fff" stroke-width="0"/>
<line x1="920.4" y1="460.55" x2="927.2" y2="460.55" stroke-width="0.8" stroke="#fff"/>
<line x1="889" y1="475.4" x2="927.5" y2="475.4" stroke-width="1"/>
<circle cx="892.7" cy="475.4" r="3.4" fill="#3a3a3a" stroke-width="1.5"/>
<circle cx="893.6" cy="475.4" r="1.5" fill="#fff" stroke-width="0"/>
<line x1="889.3" y1="475.4" x2="896.1" y2="475.4" stroke-width="0.8" stroke="#fff"/>
<circle cx="923.8" cy="475.4" r="3.4" fill="#3a3a3a" stroke-width="1.5"/>
<circle cx="922.9" cy="475.4" r="1.5" fill="#fff" stroke-width="0"/>
<line x1="920.4" y1="475.4" x2="927.2" y2="475.4" stroke-width="0.8" stroke="#fff"/>
<line x1="889" y1="488.77" x2="927.5" y2="488.77" stroke-width="1"/>
<circle cx="892.7" cy="488.77" r="3.4" fill="#3a3a3a" stroke-width="1.5"/>
<circle cx="893.6" cy="488.77" r="1.5" fill="#fff" stroke-width="0"/>
<line x1="889.3" y1="488.77" x2="896.1" y2="488.77" stroke-width="0.8" stroke="#fff"/>
<circle cx="923.8" cy="488.77" r="3.4" fill="#3a3a3a" stroke-width="1.5"/>
<circle cx="922.9" cy="488.77" r="1.5" fill="#fff" stroke-width="0"/>
<line x1="920.4" y1="488.77" x2="927.2" y2="488.77" stroke-width="0.8" stroke="#fff"/>
<line x1="889" y1="500.14" x2="927.5" y2="500.14" stroke-width="1"/>
<circle cx="892.7" cy="500.14" r="3.4" fill="#3a3a3a" stroke-width="1.5"/>
<circle cx="893.6" cy="500.14" r="1.5" fill="#fff" stroke-width="0"/>
<line x1="889.3" y1="500.14" x2="896.1" y2="500.14" stroke-width="0.8" stroke="#fff"/>
<circle cx="923.8" cy="500.14" r="3.4" fill="#3a3a3a" stroke-width="1.5"/>
<circle cx="922.9" cy="500.14" r="1.5" fill="#fff" stroke-width="0"/>
<line x1="920.4" y1="500.14" x2="927.2" y2="500.14" stroke-width="0.8" stroke="#fff"/>
<line x1="889" y1="509.07" x2="927.5" y2="509.07" stroke-width="1"/>
<circle cx="892.7" cy="509.07" r="3.4" fill="#3a3a3a" stroke-width="1.5"/>
<circle cx="893.6" cy="509.07" r="1.5" fill="#fff" stroke-width="0"/>
<line x1="889.3" y1="509.07" x2="896.1" y2="509.07" stroke-width="0.8" stroke="#fff"/>
<circle cx="923.8" cy="509.07" r="3.4" fill="#3a3a3a" stroke-width="1.5"/>
<circle cx="922.9" cy="509.07" r="1.5" fill="#fff" stroke-width="0"/>
<line x1="920.4" y1="509.07" x2="927.2" y2="509.07" stroke-width="0.8" stroke="#fff"/>
<line x1="889" y1="515.22" x2="927.5" y2="515.22" stroke-width="1"/>
<circle cx="892.7" cy="515.22" r="3.4" fill="#3a3a3a" stroke-width="1.5"/>
<circle cx="893.6" cy="515.22" r="1.5" fill="#fff" stroke-width="0"/>
<line x1="889.3" y1="515.22" x2="896.1" y2="515.22" stroke-width="0.8" stroke="#fff"/>
<circle cx="923.8" cy="515.22" r="3.4" fill="#3a3a3a" stroke-width="1.5"/>
<circle cx="922.9" cy="515.22" r="1.5" fill="#fff" stroke-width="0"/>
<line x1="920.4" y1="515.22" x2="927.2" y2="515.22" stroke-width="0.8" stroke="#fff"/>
<line x1="889" y1="518.36" x2="927.5" y2="518.36" stroke-width="1"/>
<circle cx="892.7" cy="518.36" r="3.4" fill="#3a3a3a" stroke-width="1.5"/>
<circle cx="893.6" cy="518.36" r="1.5" fill="#fff" stroke-width="0"/>
<line x1="889.3" y1="518.36" x2="896.1" y2="518.36" stroke-width="0.8" stroke="#fff"/>
<circle cx="923.8" cy="518.36" r="3.4" fill="#3a3a3a" stroke-width="1.5"/>
<circle cx="922.9" cy="518.36" r="1.5" fill="#fff" stroke-width="0"/>
<line x1="920.4" y1="518.36" x2="927.2" y2="518.36" stroke-width="0.8" stroke="#fff"/>
<line x1="927.5" y1="362.6" x2="962" y2="362.6" stroke-width="1.2"/>
<line x1="927.5" y1="510.9" x2="962" y2="510.9" stroke-width="1.2"/>
<line x1="960.5" y1="362.6" x2="960.5" y2="510.9" stroke-width="1"/>
<line x1="963" y1="362.6" x2="963" y2="510.9" stroke-width="1"/>
<path d="M963,362.6 A44,74.15 0 0 1 963,510.9" stroke-width="1.2"/>
<path d="M1000,414 L1011,414 Q1016,414 1016,419 L1016,453 Q1016,458 1011,458 L1000,458" stroke-width="1.1"/>
<path d="M1000,417.5 L1009.5,417.5 Q1012.5,417.5 1012.5,420 L1012.5,452 Q1012.5,454.5 1009.5,454.5 L1000,454.5" stroke-width="0.8"/>
<path d="M152.1,374 L152.1,336 M174.5,374 L174.5,336" stroke-width="1.1"/>
<path d="M152.1,374 Q163.3,379 174.5,374" stroke-width="1"/>
<rect x="152.1" y="333" width="22.4" height="3.5" fill="#fff" stroke-width="1"/>
<circle cx="163.3" cy="351" r="5.8" fill="#fff" stroke-width="2.4"/>
<circle cx="163.3" cy="351" r="3.2" stroke-width="0.8"/>
<rect x="139" y="312.5" width="47.7" height="5.4" rx="1.2" fill="#fff" stroke-width="1.2"/>
<rect x="141" y="317.9" width="43.7" height="4.2" fill="#fff" stroke-width="1"/>
<rect x="139" y="322.1" width="47.7" height="5.4" rx="1.2" fill="#fff" stroke-width="1.2"/>
<line x1="142.5" y1="307.5" x2="142.5" y2="332.5" stroke-width="0.8"/>
<circle cx="142.5" cy="309.7" r="3.4" fill="#3a3a3a" stroke-width="1.3"/>
<circle cx="142.5" cy="309.7" r="1.4" fill="#fff" stroke-width="0"/>
<line x1="139.1" y1="309.7" x2="145.9" y2="309.7" stroke-width="0.7" stroke="#fff"/>
<circle cx="142.5" cy="330.3" r="3.4" fill="#3a3a3a" stroke-width="1.3"/>
<circle cx="142.5" cy="330.3" r="1.4" fill="#fff" stroke-width="0"/>
<line x1="139.1" y1="330.3" x2="145.9" y2="330.3" stroke-width="0.7" stroke="#fff"/>
<line x1="155.6" y1="307.5" x2="155.6" y2="332.5" stroke-width="0.8"/>
<circle cx="155.6" cy="309.7" r="3.4" fill="#3a3a3a" stroke-width="1.3"/>
<circle cx="155.6" cy="309.7" r="1.4" fill="#fff" stroke-width="0"/>
<line x1="152.2" y1="309.7" x2="159" y2="309.7" stroke-width="0.7" stroke="#fff"/>
<circle cx="155.6" cy="330.3" r="3.4" fill="#3a3a3a" stroke-width="1.3"/>
<circle cx="155.6" cy="330.3" r="1.4" fill="#fff" stroke-width="0"/>
<line x1="152.2" y1="330.3" x2="159" y2="330.3" stroke-width="0.7" stroke="#fff"/>
<line x1="171" y1="307.5" x2="171" y2="332.5" stroke-width="0.8"/>
<circle cx="171" cy="309.7" r="3.4" fill="#3a3a3a" stroke-width="1.3"/>
<circle cx="171" cy="309.7" r="1.4" fill="#fff" stroke-width="0"/>
<line x1="167.6" y1="309.7" x2="174.4" y2="309.7" stroke-width="0.7" stroke="#fff"/>
<circle cx="171" cy="330.3" r="3.4" fill="#3a3a3a" stroke-width="1.3"/>
<circle cx="171" cy="330.3" r="1.4" fill="#fff" stroke-width="0"/>
<line x1="167.6" y1="330.3" x2="174.4" y2="330.3" stroke-width="0.7" stroke="#fff"/>
<line x1="183.3" y1="307.5" x2="183.3" y2="332.5" stroke-width="0.8"/>
<circle cx="183.3" cy="309.7" r="3.4" fill="#3a3a3a" stroke-width="1.3"/>
<circle cx="183.3" cy="309.7" r="1.4" fill="#fff" stroke-width="0"/>
<line x1="179.9" y1="309.7" x2="186.7" y2="309.7" stroke-width="0.7" stroke="#fff"/>
<circle cx="183.3" cy="330.3" r="3.4" fill="#3a3a3a" stroke-width="1.3"/>
<circle cx="183.3" cy="330.3" r="1.4" fill="#fff" stroke-width="0"/>
<line x1="179.9" y1="330.3" x2="186.7" y2="330.3" stroke-width="0.7" stroke="#fff"/>
<rect x="152" y="305" width="22.5" height="4" rx="1" fill="#fff" stroke-width="1"/>
<rect x="186.7" y="318" width="5.9" height="4.5" rx="1.5" fill="#fff" stroke-width="1"/>
<path d="M263.2,374 L263.2,336 M302,374 L302,336" stroke-width="1.1"/>
<path d="M263.2,374 Q282.6,381 302,374" stroke-width="1"/>
<rect x="263.2" y="332" width="38.8" height="3.5" fill="#fff" stroke-width="1"/>
<circle cx="282.6" cy="351.6" r="6.2" fill="#fff" stroke-width="2.4"/>
<circle cx="282.6" cy="351.6" r="3.3" stroke-width="0.8"/>
<rect x="246" y="306.8" width="73" height="6.62" rx="1.2" fill="#fff" stroke-width="1.2"/>
<rect x="248" y="313.42" width="69" height="5.15" fill="#fff" stroke-width="1"/>
<rect x="246" y="318.58" width="73" height="6.62" rx="1.2" fill="#fff" stroke-width="1.2"/>
<line x1="254.5" y1="301.8" x2="254.5" y2="330.2" stroke-width="0.8"/>
<circle cx="254.5" cy="304" r="3.4" fill="#3a3a3a" stroke-width="1.3"/>
<circle cx="254.5" cy="304" r="1.4" fill="#fff" stroke-width="0"/>
<line x1="251.1" y1="304" x2="257.9" y2="304" stroke-width="0.7" stroke="#fff"/>
<circle cx="254.5" cy="328" r="3.4" fill="#3a3a3a" stroke-width="1.3"/>
<circle cx="254.5" cy="328" r="1.4" fill="#fff" stroke-width="0"/>
<line x1="251.1" y1="328" x2="257.9" y2="328" stroke-width="0.7" stroke="#fff"/>
<line x1="270.9" y1="301.8" x2="270.9" y2="330.2" stroke-width="0.8"/>
<circle cx="270.9" cy="304" r="3.4" fill="#3a3a3a" stroke-width="1.3"/>
<circle cx="270.9" cy="304" r="1.4" fill="#fff" stroke-width="0"/>
<line x1="267.5" y1="304" x2="274.3" y2="304" stroke-width="0.7" stroke="#fff"/>
<circle cx="270.9" cy="328" r="3.4" fill="#3a3a3a" stroke-width="1.3"/>
<circle cx="270.9" cy="328" r="1.4" fill="#fff" stroke-width="0"/>
<line x1="267.5" y1="328" x2="274.3" y2="328" stroke-width="0.7" stroke="#fff"/>
<line x1="293.7" y1="301.8" x2="293.7" y2="330.2" stroke-width="0.8"/>
<circle cx="293.7" cy="304" r="3.4" fill="#3a3a3a" stroke-width="1.3"/>
<circle cx="293.7" cy="304" r="1.4" fill="#fff" stroke-width="0"/>
<line x1="290.3" y1="304" x2="297.1" y2="304" stroke-width="0.7" stroke="#fff"/>
<circle cx="293.7" cy="328" r="3.4" fill="#3a3a3a" stroke-width="1.3"/>
<circle cx="293.7" cy="328" r="1.4" fill="#fff" stroke-width="0"/>
<line x1="290.3" y1="328" x2="297.1" y2="328" stroke-width="0.7" stroke="#fff"/>
<line x1="310" y1="301.8" x2="310" y2="330.2" stroke-width="0.8"/>
<circle cx="310" cy="304" r="3.4" fill="#3a3a3a" stroke-width="1.3"/>
<circle cx="310" cy="304" r="1.4" fill="#fff" stroke-width="0"/>
<line x1="306.6" y1="304" x2="313.4" y2="304" stroke-width="0.7" stroke="#fff"/>
<circle cx="310" cy="328" r="3.4" fill="#3a3a3a" stroke-width="1.3"/>
<circle cx="310" cy="328" r="1.4" fill="#fff" stroke-width="0"/>
<line x1="306.6" y1="328" x2="313.4" y2="328" stroke-width="0.7" stroke="#fff"/>
<path d="M263,300 L265,296 L300,296 L302,300" stroke-width="1.1"/>
<rect x="201" y="313" width="45" height="5.8" rx="2.5" fill="#fff" stroke-width="1"/>
<path d="M338.8,372 L338.8,353.3 A20.5,20.5 0 0 1 379.8,353.3 L379.8,372" stroke-width="1.1"/>
<circle cx="359.3" cy="353.3" r="9.6" stroke-width="1"/>
<line x1="338.8" y1="353.3" x2="379.8" y2="353.3" stroke-width="0.8"/>
<line x1="359.3" y1="332.3" x2="359.3" y2="376" stroke-width="0.8"/>
<rect x="327.7" y="371.3" width="63.3" height="4.7" fill="#888" stroke-width="0.9"/>
<path d="M723.1,372 L723.1,353.5 A20.5,20.5 0 0 1 764.1,353.5 L764.1,372" stroke-width="1.1"/>
<circle cx="743.6" cy="353.5" r="9.6" stroke-width="1"/>
<line x1="723.1" y1="353.5" x2="764.1" y2="353.5" stroke-width="0.8"/>
<line x1="743.6" y1="332.5" x2="743.6" y2="376" stroke-width="0.8"/>
<rect x="712" y="371.3" width="63" height="4.7" fill="#888" stroke-width="0.9"/>
<path d="M327.8,502 L327.8,458.5 L381.1,458.5 L381.1,502" stroke-width="1.1"/>
<path d="M332.6,550.5 L332.6,495 L376.6,495 L376.6,550.5" fill="#fff" stroke-width="1.1"/>
<line x1="332.6" y1="550.5" x2="376.6" y2="550.5" stroke-width="1.2"/>
<line x1="334.1" y1="469" x2="334.1" y2="548.5" stroke-width="1.4"/>
<rect x="324.6" y="522" width="8" height="8" rx="1" stroke-width="0.9"/>
<line x1="326.6" y1="523" x2="326.6" y2="529" stroke-width="0.7"/>
<line x1="328.6" y1="523" x2="328.6" y2="529" stroke-width="0.7"/>
<line x1="332.6" y1="552" x2="376.6" y2="552" stroke-width="0.8"/>
<path d="M687.6,502 L687.6,458.5 L741.5,458.5 L741.5,502" stroke-width="1.1"/>
<path d="M694.2,548 L694.2,495 L736.6,495 L736.6,548" fill="#fff" stroke-width="1.1"/>
<line x1="694.2" y1="548" x2="736.6" y2="548" stroke-width="1.2"/>
<line x1="695.7" y1="469" x2="695.7" y2="546" stroke-width="1.4"/>
<rect x="686.2" y="522" width="8" height="8" rx="1" stroke-width="0.9"/>
<line x1="688.2" y1="523" x2="688.2" y2="529" stroke-width="0.7"/>
<line x1="690.2" y1="523" x2="690.2" y2="529" stroke-width="0.7"/>
<rect x="682.5" y="548" width="63.7" height="4.5" rx="1.5" fill="#fff" stroke-width="1.1"/>
<path d="M152.1,499.5 L152.1,537 M174.5,499.5 L174.5,537" stroke-width="1.1"/>
<path d="M152.1,499.5 Q163.3,494 174.5,499.5" stroke-width="1"/>
<rect x="152.1" y="534.5" width="22.4" height="3.5" fill="#fff" stroke-width="1"/>
<circle cx="163.3" cy="522.5" r="5.8" fill="#fff" stroke-width="2.4"/>
<circle cx="163.3" cy="522.5" r="3.2" stroke-width="0.8"/>
<rect x="139.1" y="545" width="47.9" height="5.4" rx="1.2" fill="#fff" stroke-width="1.2"/>
<rect x="141.1" y="550.4" width="43.9" height="4.2" fill="#fff" stroke-width="1"/>
<rect x="139.1" y="554.6" width="47.9" height="5.4" rx="1.2" fill="#fff" stroke-width="1.2"/>
<line x1="145" y1="540" x2="145" y2="565" stroke-width="0.8"/>
<circle cx="145" cy="542.2" r="3.4" fill="#3a3a3a" stroke-width="1.3"/>
<circle cx="145" cy="542.2" r="1.4" fill="#fff" stroke-width="0"/>
<line x1="141.6" y1="542.2" x2="148.4" y2="542.2" stroke-width="0.7" stroke="#fff"/>
<circle cx="145" cy="562.8" r="3.4" fill="#3a3a3a" stroke-width="1.3"/>
<circle cx="145" cy="562.8" r="1.4" fill="#fff" stroke-width="0"/>
<line x1="141.6" y1="562.8" x2="148.4" y2="562.8" stroke-width="0.7" stroke="#fff"/>
<line x1="156.5" y1="540" x2="156.5" y2="565" stroke-width="0.8"/>
<circle cx="156.5" cy="542.2" r="3.4" fill="#3a3a3a" stroke-width="1.3"/>
<circle cx="156.5" cy="542.2" r="1.4" fill="#fff" stroke-width="0"/>
<line x1="153.1" y1="542.2" x2="159.9" y2="542.2" stroke-width="0.7" stroke="#fff"/>
<circle cx="156.5" cy="562.8" r="3.4" fill="#3a3a3a" stroke-width="1.3"/>
<circle cx="156.5" cy="562.8" r="1.4" fill="#fff" stroke-width="0"/>
<line x1="153.1" y1="562.8" x2="159.9" y2="562.8" stroke-width="0.7" stroke="#fff"/>
<line x1="171" y1="540" x2="171" y2="565" stroke-width="0.8"/>
<circle cx="171" cy="542.2" r="3.4" fill="#3a3a3a" stroke-width="1.3"/>
<circle cx="171" cy="542.2" r="1.4" fill="#fff" stroke-width="0"/>
<line x1="167.6" y1="542.2" x2="174.4" y2="542.2" stroke-width="0.7" stroke="#fff"/>
<circle cx="171" cy="562.8" r="3.4" fill="#3a3a3a" stroke-width="1.3"/>
<circle cx="171" cy="562.8" r="1.4" fill="#fff" stroke-width="0"/>
<line x1="167.6" y1="562.8" x2="174.4" y2="562.8" stroke-width="0.7" stroke="#fff"/>
<line x1="182.5" y1="540" x2="182.5" y2="565" stroke-width="0.8"/>
<circle cx="182.5" cy="542.2" r="3.4" fill="#3a3a3a" stroke-width="1.3"/>
<circle cx="182.5" cy="542.2" r="1.4" fill="#fff" stroke-width="0"/>
<line x1="179.1" y1="542.2" x2="185.9" y2="542.2" stroke-width="0.7" stroke="#fff"/>
<circle cx="182.5" cy="562.8" r="3.4" fill="#3a3a3a" stroke-width="1.3"/>
<circle cx="182.5" cy="562.8" r="1.4" fill="#fff" stroke-width="0"/>
<line x1="179.1" y1="562.8" x2="185.9" y2="562.8" stroke-width="0.7" stroke="#fff"/>
<rect x="152.5" y="565.5" width="21.5" height="3.5" rx="1" fill="#fff" stroke-width="1"/>
<rect x="187" y="551.2" width="28" height="4.1" rx="2" fill="#fff" stroke-width="1"/>
<path d="M801.1,499.5 L801.1,536 L803,542 M820.1,499.5 L820.1,536 L818,542" stroke-width="1.1"/>
<path d="M801.1,499.5 Q810.6,494.5 820.1,499.5" stroke-width="1"/>
<circle cx="810.6" cy="523.2" r="5.8" fill="#fff" stroke-width="2.4"/>
<circle cx="810.6" cy="523.2" r="3.2" stroke-width="0.8"/>
<rect x="790.8" y="548.1" width="38.9" height="5.54" rx="1.2" fill="#fff" stroke-width="1.2"/>
<rect x="792.8" y="553.64" width="34.9" height="4.31" fill="#fff" stroke-width="1"/>
<rect x="790.8" y="557.96" width="38.9" height="5.54" rx="1.2" fill="#fff" stroke-width="1.2"/>
<line x1="799" y1="543.1" x2="799" y2="568.5" stroke-width="0.8"/>
<circle cx="799" cy="545.3" r="3.4" fill="#3a3a3a" stroke-width="1.3"/>
<circle cx="799" cy="545.3" r="1.4" fill="#fff" stroke-width="0"/>
<line x1="795.6" y1="545.3" x2="802.4" y2="545.3" stroke-width="0.7" stroke="#fff"/>
<circle cx="799" cy="566.3" r="3.4" fill="#3a3a3a" stroke-width="1.3"/>
<circle cx="799" cy="566.3" r="1.4" fill="#fff" stroke-width="0"/>
<line x1="795.6" y1="566.3" x2="802.4" y2="566.3" stroke-width="0.7" stroke="#fff"/>
<line x1="822" y1="543.1" x2="822" y2="568.5" stroke-width="0.8"/>
<circle cx="822" cy="545.3" r="3.4" fill="#3a3a3a" stroke-width="1.3"/>
<circle cx="822" cy="545.3" r="1.4" fill="#fff" stroke-width="0"/>
<line x1="818.6" y1="545.3" x2="825.4" y2="545.3" stroke-width="0.7" stroke="#fff"/>
<circle cx="822" cy="566.3" r="3.4" fill="#3a3a3a" stroke-width="1.3"/>
<circle cx="822" cy="566.3" r="1.4" fill="#fff" stroke-width="0"/>
<line x1="818.6" y1="566.3" x2="825.4" y2="566.3" stroke-width="0.7" stroke="#fff"/>
<rect x="803.5" y="563.5" width="14" height="5" rx="1" fill="#fff" stroke-width="1"/>
<rect x="829.7" y="553" width="14.6" height="4" rx="2" fill="#fff" stroke-width="1"/>
<line x1="940.3" y1="510.9" x2="940.3" y2="561.3" stroke-width="1.1"/>
<line x1="951.2" y1="510.9" x2="951.2" y2="561.3" stroke-width="1.1"/>
<rect x="931.5" y="561.3" width="27.8" height="3.71" rx="1.2" fill="#fff" stroke-width="1.2"/>
<rect x="933.5" y="565.01" width="23.8" height="2.88" fill="#fff" stroke-width="1"/>
<rect x="931.5" y="567.89" width="27.8" height="3.71" rx="1.2" fill="#fff" stroke-width="1.2"/>
<line x1="936.5" y1="556.3" x2="936.5" y2="576.6" stroke-width="0.8"/>
<circle cx="936.5" cy="558.5" r="3.4" fill="#3a3a3a" stroke-width="1.3"/>
<circle cx="936.5" cy="558.5" r="1.4" fill="#fff" stroke-width="0"/>
<line x1="933.1" y1="558.5" x2="939.9" y2="558.5" stroke-width="0.7" stroke="#fff"/>
<circle cx="936.5" cy="574.4" r="3.4" fill="#3a3a3a" stroke-width="1.3"/>
<circle cx="936.5" cy="574.4" r="1.4" fill="#fff" stroke-width="0"/>
<line x1="933.1" y1="574.4" x2="939.9" y2="574.4" stroke-width="0.7" stroke="#fff"/>
<line x1="954.5" y1="556.3" x2="954.5" y2="576.6" stroke-width="0.8"/>
<circle cx="954.5" cy="558.5" r="3.4" fill="#3a3a3a" stroke-width="1.3"/>
<circle cx="954.5" cy="558.5" r="1.4" fill="#fff" stroke-width="0"/>
<line x1="951.1" y1="558.5" x2="957.9" y2="558.5" stroke-width="0.7" stroke="#fff"/>
<circle cx="954.5" cy="574.4" r="3.4" fill="#3a3a3a" stroke-width="1.3"/>
<circle cx="954.5" cy="574.4" r="1.4" fill="#fff" stroke-width="0"/>
<line x1="951.1" y1="574.4" x2="957.9" y2="574.4" stroke-width="0.7" stroke="#fff"/>
<path d="M613,374.4 C614,398 640,430 676.6,430.7 C715,431 745,411 776.4,411.9 C786,412 790,413 796.9,413 C806,414 812,416.5 821.5,416.4 C845,416 857,395 859.8,374.4 Z" fill="#fff" stroke-width="1.2"/>
<clipPath id="cutA"><path d="M613,374.4 C614,398 640,430 676.6,430.7 C715,431 745,411 776.4,411.9 C786,412 790,413 796.9,413 C806,414 812,416.5 821.5,416.4 C845,416 857,395 859.8,374.4 Z"/></clipPath>
<g clip-path="url(#cutA)">
<line x1="600" y1="375.4" x2="796.5" y2="375.4" stroke-width="0.9"/>
<line x1="600" y1="378.8" x2="796.5" y2="378.8" stroke-width="1.5"/>
<line x1="600" y1="387.7" x2="796.5" y2="387.7" stroke-width="0.9"/>
<line x1="600" y1="390.4" x2="796.5" y2="390.4" stroke-width="1.5"/>
<line x1="600" y1="395.9" x2="796.5" y2="395.9" stroke-width="1.5"/>
<line x1="600" y1="401.3" x2="796.5" y2="401.3" stroke-width="0.9"/>
<line x1="600" y1="406.8" x2="796.5" y2="406.8" stroke-width="1.5"/>
<line x1="600" y1="412.3" x2="796.5" y2="412.3" stroke-width="0.9"/>
<line x1="600" y1="417.8" x2="796.5" y2="417.8" stroke-width="0.9"/>
<line x1="600" y1="423.2" x2="796.5" y2="423.2" stroke-width="0.9"/>
<line x1="796.5" y1="378.8" x2="870" y2="378.8" stroke-width="0.9"/>
<line x1="796.5" y1="390.4" x2="870" y2="390.4" stroke-width="0.9"/>
<line x1="796.5" y1="395.9" x2="870" y2="395.9" stroke-width="0.9"/>
<line x1="796.5" y1="401.3" x2="870" y2="401.3" stroke-width="0.9"/>
<line x1="796.5" y1="406.8" x2="870" y2="406.8" stroke-width="0.9"/>
<line x1="796.5" y1="412.3" x2="870" y2="412.3" stroke-width="0.9"/>
</g>
<line x1="796.2" y1="377" x2="796.2" y2="413.5" stroke-width="1.8"/>
<line x1="675.5" y1="377" x2="675.5" y2="390.5" stroke-width="1.8"/>
<rect x="797" y="381.5" width="9" height="4" stroke-width="0.8"/>
<rect x="797" y="408" width="9" height="4" stroke-width="0.8"/>
<path d="M896.4,348.4 L896.4,306 Q896.4,276.6 918,276.6 L928,276.6" stroke-width="1.1"/>
<path d="M908.5,348.4 L908.5,305 Q908.5,288.8 920,288.8 L928,288.8" stroke-width="1.1"/>
<path d="M916.4,290 L903.8,340.5 L906,341 L919,292" stroke-width="1"/>
<path d="M927.8,267 L927.8,306 Q927.8,312.5 934,312.5 L955,312.5 Q961,312.5 961,306 L961,294" stroke-width="1.2"/>
<path d="M936.2,267 L936.2,305 Q936.2,309 940,309 L954,309 Q957.5,309 957.5,305 L957.5,294" stroke-width="1"/>
<line x1="932.5" y1="268" x2="932.5" y2="308" stroke-width="0.8"/>
<rect x="936.2" y="277.5" width="25.8" height="11" fill="#fff" stroke-width="1.2"/>
<ellipse cx="962" cy="283" rx="5.3" ry="5.9" fill="#fff" stroke-width="1.6"/>
<rect x="937" y="264" width="7" height="13.5" rx="1.8" fill="#fff" stroke-width="1.1"/>
<rect x="944" y="267" width="4" height="10" rx="1.8" fill="#fff" stroke-width="1.1"/>
<rect x="948" y="264.5" width="7" height="13" rx="1.8" fill="#fff" stroke-width="1.1"/>
<rect x="955" y="267.5" width="6" height="10" rx="1.8" fill="#fff" stroke-width="1.1"/>
<rect x="928" y="267.7" width="3.6" height="7" fill="#222" stroke-width="0.6"/>
<rect x="939.3" y="294" width="10.1" height="15" rx="1.5" fill="#222" stroke-width="0.8"/>
<rect x="941.2" y="296.5" width="2.6" height="3.6" fill="#fff" stroke-width="0"/>
<rect x="945.2" y="296.5" width="2.6" height="3.6" fill="#fff" stroke-width="0"/>
<rect x="941.2" y="302.5" width="2.6" height="3.6" fill="#fff" stroke-width="0"/>
<rect x="945.2" y="302.5" width="2.6" height="3.6" fill="#fff" stroke-width="0"/>
<rect x="952.7" y="289.6" width="9.6" height="4.9" rx="1.5" fill="#fff" stroke-width="1.1"/>
<line x1="941.7" y1="312" x2="941.7" y2="356.3" stroke-width="1"/>
<line x1="947" y1="312" x2="947" y2="356.3" stroke-width="1"/>
<rect x="936.5" y="356.3" width="15.8" height="6.3" fill="#fff" stroke-width="1"/>
<path d="M928,350 L950,322.5 L996.6,322.5 M928,358 L955,332.5 L992,332.5" stroke-width="1"/>
<path d="M975.5,363.7 L996.6,322.5 M981,366 L1002,325" stroke-width="1.1"/>
<path d="M994,318 L1002,309 L1020,323 L1012,332 Z" fill="#fff" stroke-width="1.1"/>
<line x1="998" y1="313.5" x2="1016" y2="327.5" stroke-width="0.8"/>
<rect x="1010.8" y="305" width="4.8" height="76" fill="#ddd" stroke-width="1"/>
<rect x="1005.6" y="381" width="14.7" height="22.2" fill="#fff" stroke-width="1.1"/>
<circle cx="1014.5" cy="395.5" r="4" fill="#fff" stroke-width="1.6"/>
<line x1="1008" y1="384" x2="1008" y2="401" stroke-width="1.5"/>
<line x1="163.3" y1="254" x2="163.3" y2="379" stroke-width="0.8"/>
<line x1="282.6" y1="250.2" x2="282.6" y2="381" stroke-width="0.8"/>
<line x1="163.3" y1="569" x2="163.3" y2="591.5" stroke-width="0.8"/>
<line x1="810.6" y1="569" x2="810.6" y2="623.6" stroke-width="0.8"/>
<line x1="945.4" y1="510" x2="945.4" y2="623.6" stroke-width="0.8"/>
<line x1="1027.7" y1="284.5" x2="1014.5" y2="305.6" stroke-width="0.8"/>
<rect x="141.3" y="236.4" width="22" height="17.6" fill="#fff" stroke-width="0.9"/><text x="152.3" y="250.13" class="lt" text-anchor="middle">T2</text>
<rect x="282" y="233.2" width="20.5" height="17" fill="#fff" stroke-width="0.9"/><text x="292.25" y="246.46" class="lt" text-anchor="middle">S1</text>
<rect x="142.6" y="591.5" width="21.2" height="17.1" fill="#fff" stroke-width="0.9"/><text x="153.2" y="604.84" class="lt" text-anchor="middle">T1</text>
<rect x="809.9" y="623.6" width="22.7" height="17.6" fill="#fff" stroke-width="0.9"/><text x="821.25" y="637.33" class="lt" text-anchor="middle">S2</text>
<rect x="945.4" y="623.6" width="16.1" height="16.8" fill="#fff" stroke-width="0.9"/><text x="953.45" y="636.7" class="lt" text-anchor="middle">D</text>
<rect x="1027.7" y="267.7" width="16.9" height="16.8" fill="#fff" stroke-width="0.9"/><text x="1036.15" y="280.8" class="lt" text-anchor="middle">V</text>
<path d="M100,295 L118,295 Q120,297 118,300 L102,300" stroke-width="1.1"/>
<path d="M90.5,293 L110,293 L110,300 L90.5,300 Z" fill="#fff" stroke-width="1.1"/>
<rect x="94" y="283" width="4.5" height="10" fill="#444" stroke-width="0.8"/>
<path d="M108,295 L131,295 Q147,295 151,306" stroke-width="1.1"/>
<path d="M110,300 Q118,307 127,310 L131,310 Q139,310 142,318 L147,332 L147,342" stroke-width="1.1"/>
<path d="M112,310 L146,365 L148,361 L119,310" stroke-width="1.2"/>
<line x1="96" y1="300" x2="96" y2="330" stroke-width="1"/>
<line x1="98.5" y1="300" x2="98.5" y2="330" stroke-width="1"/>
<path d="M96,330 Q104,334 104,340 Q104,348 96,348 Q89,348 89,341 Q89,337 92,335" stroke-width="1.2"/>
<line x1="95.3" y1="340" x2="95.3" y2="360" stroke-width="1"/>
<line x1="97.8" y1="340" x2="97.8" y2="360" stroke-width="1"/>
<rect x="130.3" y="376" width="15.2" height="16" stroke-width="1.1"/>
<rect x="136.8" y="363" width="2" height="24" fill="#fff" stroke-width="0.8"/>
<line x1="186.6" y1="363" x2="186.6" y2="374" stroke-width="1"/>
</g>
<g id="viewB" fill="none" stroke="#111" stroke-width="1.25" stroke-linecap="round" stroke-linejoin="round">
<line x1="30" y1="826.6" x2="1060" y2="826.6" stroke-width="0.9"/>
<path d="M80,763.3 A37,63.3 0 0 0 80,889.9" stroke-width="1.2"/>
<line x1="80" y1="763.3" x2="80" y2="889.9" stroke-width="1.8"/>
<path d="M48,801.3 L34,801.3 M34,799.8 L31,802.8 L34,805.8" stroke-width="1"/>
<line x1="48" y1="804.3" x2="34" y2="804.3" stroke-width="1"/>
<line x1="40" y1="800.8" x2="40" y2="804.8" stroke-width="0.8"/>
<path d="M48,848.4 L34,848.4 M34,846.9 L31,849.9 L34,852.9" stroke-width="1"/>
<line x1="48" y1="851.4" x2="34" y2="851.4" stroke-width="1"/>
<line x1="40" y1="847.9" x2="40" y2="851.9" stroke-width="0.8"/>
<line x1="119" y1="763.3" x2="205" y2="763.3" stroke-width="1.2"/>
<line x1="119" y1="889.9" x2="205" y2="889.9" stroke-width="1.2"/>
<line x1="122.3" y1="763.3" x2="122.3" y2="889.9" stroke-width="1"/>
<line x1="250" y1="763.3" x2="889" y2="763.3" stroke-width="1.2"/>
<line x1="250" y1="889.9" x2="889" y2="889.9" stroke-width="1.2"/>
<line x1="405.6" y1="763.3" x2="405.6" y2="889.9" stroke-width="1"/>
<line x1="408.2" y1="763.3" x2="408.2" y2="889.9" stroke-width="1"/>
<rect x="85" y="749.3" width="34" height="155.1" rx="4" fill="#fff" stroke-width="1.3"/>
<line x1="90.5" y1="749.3" x2="90.5" y2="904.4" stroke-width="1"/>
<line x1="113.5" y1="749.3" x2="113.5" y2="904.4" stroke-width="1"/>
<line x1="101.5" y1="749.3" x2="101.5" y2="904.4" stroke-width="2.2"/>
<line x1="84" y1="756.54" x2="120" y2="756.54" stroke-width="1"/>
<circle cx="87.7" cy="756.54" r="3.4" fill="#3a3a3a" stroke-width="1.5"/>
<circle cx="88.6" cy="756.54" r="1.5" fill="#fff" stroke-width="0"/>
<line x1="84.3" y1="756.54" x2="91.1" y2="756.54" stroke-width="0.8" stroke="#fff"/>
<circle cx="116.3" cy="756.54" r="3.4" fill="#3a3a3a" stroke-width="1.5"/>
<circle cx="115.4" cy="756.54" r="1.5" fill="#fff" stroke-width="0"/>
<line x1="112.9" y1="756.54" x2="119.7" y2="756.54" stroke-width="0.8" stroke="#fff"/>
<line x1="84" y1="760.06" x2="120" y2="760.06" stroke-width="1"/>
<circle cx="87.7" cy="760.06" r="3.4" fill="#3a3a3a" stroke-width="1.5"/>
<circle cx="88.6" cy="760.06" r="1.5" fill="#fff" stroke-width="0"/>
<line x1="84.3" y1="760.06" x2="91.1" y2="760.06" stroke-width="0.8" stroke="#fff"/>
<circle cx="116.3" cy="760.06" r="3.4" fill="#3a3a3a" stroke-width="1.5"/>
<circle cx="115.4" cy="760.06" r="1.5" fill="#fff" stroke-width="0"/>
<line x1="112.9" y1="760.06" x2="119.7" y2="760.06" stroke-width="0.8" stroke="#fff"/>
<line x1="84" y1="766.91" x2="120" y2="766.91" stroke-width="1"/>
<circle cx="87.7" cy="766.91" r="3.4" fill="#3a3a3a" stroke-width="1.5"/>
<circle cx="88.6" cy="766.91" r="1.5" fill="#fff" stroke-width="0"/>
<line x1="84.3" y1="766.91" x2="91.1" y2="766.91" stroke-width="0.8" stroke="#fff"/>
<circle cx="116.3" cy="766.91" r="3.4" fill="#3a3a3a" stroke-width="1.5"/>
<circle cx="115.4" cy="766.91" r="1.5" fill="#fff" stroke-width="0"/>
<line x1="112.9" y1="766.91" x2="119.7" y2="766.91" stroke-width="0.8" stroke="#fff"/>
<line x1="84" y1="776.75" x2="120" y2="776.75" stroke-width="1"/>
<circle cx="87.7" cy="776.75" r="3.4" fill="#3a3a3a" stroke-width="1.5"/>
<circle cx="88.6" cy="776.75" r="1.5" fill="#fff" stroke-width="0"/>
<line x1="84.3" y1="776.75" x2="91.1" y2="776.75" stroke-width="0.8" stroke="#fff"/>
<circle cx="116.3" cy="776.75" r="3.4" fill="#3a3a3a" stroke-width="1.5"/>
<circle cx="115.4" cy="776.75" r="1.5" fill="#fff" stroke-width="0"/>
<line x1="112.9" y1="776.75" x2="119.7" y2="776.75" stroke-width="0.8" stroke="#fff"/>
<line x1="84" y1="789.09" x2="120" y2="789.09" stroke-width="1"/>
<circle cx="87.7" cy="789.09" r="3.4" fill="#3a3a3a" stroke-width="1.5"/>
<circle cx="88.6" cy="789.09" r="1.5" fill="#fff" stroke-width="0"/>
<line x1="84.3" y1="789.09" x2="91.1" y2="789.09" stroke-width="0.8" stroke="#fff"/>
<circle cx="116.3" cy="789.09" r="3.4" fill="#3a3a3a" stroke-width="1.5"/>
<circle cx="115.4" cy="789.09" r="1.5" fill="#fff" stroke-width="0"/>
<line x1="112.9" y1="789.09" x2="119.7" y2="789.09" stroke-width="0.8" stroke="#fff"/>
<line x1="84" y1="803.32" x2="120" y2="803.32" stroke-width="1"/>
<circle cx="87.7" cy="803.32" r="3.4" fill="#3a3a3a" stroke-width="1.5"/>
<circle cx="88.6" cy="803.32" r="1.5" fill="#fff" stroke-width="0"/>
<line x1="84.3" y1="803.32" x2="91.1" y2="803.32" stroke-width="0.8" stroke="#fff"/>
<circle cx="116.3" cy="803.32" r="3.4" fill="#3a3a3a" stroke-width="1.5"/>
<circle cx="115.4" cy="803.32" r="1.5" fill="#fff" stroke-width="0"/>
<line x1="112.9" y1="803.32" x2="119.7" y2="803.32" stroke-width="0.8" stroke="#fff"/>
<line x1="84" y1="818.71" x2="120" y2="818.71" stroke-width="1"/>
<circle cx="87.7" cy="818.71" r="3.4" fill="#3a3a3a" stroke-width="1.5"/>
<circle cx="88.6" cy="818.71" r="1.5" fill="#fff" stroke-width="0"/>
<line x1="84.3" y1="818.71" x2="91.1" y2="818.71" stroke-width="0.8" stroke="#fff"/>
<circle cx="116.3" cy="818.71" r="3.4" fill="#3a3a3a" stroke-width="1.5"/>
<circle cx="115.4" cy="818.71" r="1.5" fill="#fff" stroke-width="0"/>
<line x1="112.9" y1="818.71" x2="119.7" y2="818.71" stroke-width="0.8" stroke="#fff"/>
<line x1="84" y1="834.5" x2="120" y2="834.5" stroke-width="1"/>
<circle cx="87.7" cy="834.5" r="3.4" fill="#3a3a3a" stroke-width="1.5"/>
<circle cx="88.6" cy="834.5" r="1.5" fill="#fff" stroke-width="0"/>
<line x1="84.3" y1="834.5" x2="91.1" y2="834.5" stroke-width="0.8" stroke="#fff"/>
<circle cx="116.3" cy="834.5" r="3.4" fill="#3a3a3a" stroke-width="1.5"/>
<circle cx="115.4" cy="834.5" r="1.5" fill="#fff" stroke-width="0"/>
<line x1="112.9" y1="834.5" x2="119.7" y2="834.5" stroke-width="0.8" stroke="#fff"/>
<line x1="84" y1="849.89" x2="120" y2="849.89" stroke-width="1"/>
<circle cx="87.7" cy="849.89" r="3.4" fill="#3a3a3a" stroke-width="1.5"/>
<circle cx="88.6" cy="849.89" r="1.5" fill="#fff" stroke-width="0"/>
<line x1="84.3" y1="849.89" x2="91.1" y2="849.89" stroke-width="0.8" stroke="#fff"/>
<circle cx="116.3" cy="849.89" r="3.4" fill="#3a3a3a" stroke-width="1.5"/>
<circle cx="115.4" cy="849.89" r="1.5" fill="#fff" stroke-width="0"/>
<line x1="112.9" y1="849.89" x2="119.7" y2="849.89" stroke-width="0.8" stroke="#fff"/>
<line x1="84" y1="864.11" x2="120" y2="864.11" stroke-width="1"/>
<circle cx="87.7" cy="864.11" r="3.4" fill="#3a3a3a" stroke-width="1.5"/>
<circle cx="88.6" cy="864.11" r="1.5" fill="#fff" stroke-width="0"/>
<line x1="84.3" y1="864.11" x2="91.1" y2="864.11" stroke-width="0.8" stroke="#fff"/>
<circle cx="116.3" cy="864.11" r="3.4" fill="#3a3a3a" stroke-width="1.5"/>
<circle cx="115.4" cy="864.11" r="1.5" fill="#fff" stroke-width="0"/>
<line x1="112.9" y1="864.11" x2="119.7" y2="864.11" stroke-width="0.8" stroke="#fff"/>
<line x1="84" y1="876.45" x2="120" y2="876.45" stroke-width="1"/>
<circle cx="87.7" cy="876.45" r="3.4" fill="#3a3a3a" stroke-width="1.5"/>
<circle cx="88.6" cy="876.45" r="1.5" fill="#fff" stroke-width="0"/>
<line x1="84.3" y1="876.45" x2="91.1" y2="876.45" stroke-width="0.8" stroke="#fff"/>
<circle cx="116.3" cy="876.45" r="3.4" fill="#3a3a3a" stroke-width="1.5"/>
<circle cx="115.4" cy="876.45" r="1.5" fill="#fff" stroke-width="0"/>
<line x1="112.9" y1="876.45" x2="119.7" y2="876.45" stroke-width="0.8" stroke="#fff"/>
<line x1="84" y1="886.29" x2="120" y2="886.29" stroke-width="1"/>
<circle cx="87.7" cy="886.29" r="3.4" fill="#3a3a3a" stroke-width="1.5"/>
<circle cx="88.6" cy="886.29" r="1.5" fill="#fff" stroke-width="0"/>
<line x1="84.3" y1="886.29" x2="91.1" y2="886.29" stroke-width="0.8" stroke="#fff"/>
<circle cx="116.3" cy="886.29" r="3.4" fill="#3a3a3a" stroke-width="1.5"/>
<circle cx="115.4" cy="886.29" r="1.5" fill="#fff" stroke-width="0"/>
<line x1="112.9" y1="886.29" x2="119.7" y2="886.29" stroke-width="0.8" stroke="#fff"/>
<line x1="84" y1="893.14" x2="120" y2="893.14" stroke-width="1"/>
<circle cx="87.7" cy="893.14" r="3.4" fill="#3a3a3a" stroke-width="1.5"/>
<circle cx="88.6" cy="893.14" r="1.5" fill="#fff" stroke-width="0"/>
<line x1="84.3" y1="893.14" x2="91.1" y2="893.14" stroke-width="0.8" stroke="#fff"/>
<circle cx="116.3" cy="893.14" r="3.4" fill="#3a3a3a" stroke-width="1.5"/>
<circle cx="115.4" cy="893.14" r="1.5" fill="#fff" stroke-width="0"/>
<line x1="112.9" y1="893.14" x2="119.7" y2="893.14" stroke-width="0.8" stroke="#fff"/>
<line x1="84" y1="896.66" x2="120" y2="896.66" stroke-width="1"/>
<circle cx="87.7" cy="896.66" r="3.4" fill="#3a3a3a" stroke-width="1.5"/>
<circle cx="88.6" cy="896.66" r="1.5" fill="#fff" stroke-width="0"/>
<line x1="84.3" y1="896.66" x2="91.1" y2="896.66" stroke-width="0.8" stroke="#fff"/>
<circle cx="116.3" cy="896.66" r="3.4" fill="#3a3a3a" stroke-width="1.5"/>
<circle cx="115.4" cy="896.66" r="1.5" fill="#fff" stroke-width="0"/>
<line x1="112.9" y1="896.66" x2="119.7" y2="896.66" stroke-width="0.8" stroke="#fff"/>
<rect x="207.8" y="749.3" width="40.7" height="155.1" rx="4" fill="#fff" stroke-width="1.3"/>
<rect x="223" y="752.3" width="9" height="149.1" fill="#d9d9d9" stroke-width="0"/>
<rect x="223.8" y="753.3" width="7.4" height="4.2" fill="#f2f2f2" stroke-width="0.7" stroke="#333"/>
<rect x="223.8" y="758.7" width="7.4" height="4.2" fill="#f2f2f2" stroke-width="0.7" stroke="#333"/>
<rect x="223.8" y="764.1" width="7.4" height="4.2" fill="#f2f2f2" stroke-width="0.7" stroke="#333"/>
<rect x="223.8" y="769.5" width="7.4" height="4.2" fill="#f2f2f2" stroke-width="0.7" stroke="#333"/>
<rect x="223.8" y="774.9" width="7.4" height="4.2" fill="#f2f2f2" stroke-width="0.7" stroke="#333"/>
<rect x="223.8" y="780.3" width="7.4" height="4.2" fill="#f2f2f2" stroke-width="0.7" stroke="#333"/>
<rect x="223.8" y="785.7" width="7.4" height="4.2" fill="#f2f2f2" stroke-width="0.7" stroke="#333"/>
<rect x="223.8" y="791.1" width="7.4" height="4.2" fill="#f2f2f2" stroke-width="0.7" stroke="#333"/>
<rect x="223.8" y="796.5" width="7.4" height="4.2" fill="#f2f2f2" stroke-width="0.7" stroke="#333"/>
<rect x="223.8" y="801.9" width="7.4" height="4.2" fill="#f2f2f2" stroke-width="0.7" stroke="#333"/>
<rect x="223.8" y="807.3" width="7.4" height="4.2" fill="#f2f2f2" stroke-width="0.7" stroke="#333"/>
<rect x="223.8" y="812.7" width="7.4" height="4.2" fill="#f2f2f2" stroke-width="0.7" stroke="#333"/>
<rect x="223.8" y="818.1" width="7.4" height="4.2" fill="#f2f2f2" stroke-width="0.7" stroke="#333"/>
<rect x="223.8" y="823.5" width="7.4" height="4.2" fill="#f2f2f2" stroke-width="0.7" stroke="#333"/>
<rect x="223.8" y="828.9" width="7.4" height="4.2" fill="#f2f2f2" stroke-width="0.7" stroke="#333"/>
<rect x="223.8" y="834.3" width="7.4" height="4.2" fill="#f2f2f2" stroke-width="0.7" stroke="#333"/>
<rect x="223.8" y="839.7" width="7.4" height="4.2" fill="#f2f2f2" stroke-width="0.7" stroke="#333"/>
<rect x="223.8" y="845.1" width="7.4" height="4.2" fill="#f2f2f2" stroke-width="0.7" stroke="#333"/>
<rect x="223.8" y="850.5" width="7.4" height="4.2" fill="#f2f2f2" stroke-width="0.7" stroke="#333"/>
<rect x="223.8" y="855.9" width="7.4" height="4.2" fill="#f2f2f2" stroke-width="0.7" stroke="#333"/>
<rect x="223.8" y="861.3" width="7.4" height="4.2" fill="#f2f2f2" stroke-width="0.7" stroke="#333"/>
<rect x="223.8" y="866.7" width="7.4" height="4.2" fill="#f2f2f2" stroke-width="0.7" stroke="#333"/>
<rect x="223.8" y="872.1" width="7.4" height="4.2" fill="#f2f2f2" stroke-width="0.7" stroke="#333"/>
<rect x="223.8" y="877.5" width="7.4" height="4.2" fill="#f2f2f2" stroke-width="0.7" stroke="#333"/>
<rect x="223.8" y="882.9" width="7.4" height="4.2" fill="#f2f2f2" stroke-width="0.7" stroke="#333"/>
<rect x="223.8" y="888.3" width="7.4" height="4.2" fill="#f2f2f2" stroke-width="0.7" stroke="#333"/>
<rect x="223.8" y="893.7" width="7.4" height="4.2" fill="#f2f2f2" stroke-width="0.7" stroke="#333"/>
<rect x="223.8" y="899.1" width="7.4" height="4.2" fill="#f2f2f2" stroke-width="0.7" stroke="#333"/>
<line x1="214" y1="749.3" x2="214" y2="904.4" stroke-width="1"/>
<line x1="223" y1="749.3" x2="223" y2="904.4" stroke-width="1"/>
<line x1="232" y1="749.3" x2="232" y2="904.4" stroke-width="1"/>
<line x1="242" y1="749.3" x2="242" y2="904.4" stroke-width="1"/>
<line x1="206.8" y1="756.54" x2="249.5" y2="756.54" stroke-width="1"/>
<circle cx="210.5" cy="756.54" r="3.4" fill="#3a3a3a" stroke-width="1.5"/>
<circle cx="211.4" cy="756.54" r="1.5" fill="#fff" stroke-width="0"/>
<line x1="207.1" y1="756.54" x2="213.9" y2="756.54" stroke-width="0.8" stroke="#fff"/>
<circle cx="245.8" cy="756.54" r="3.4" fill="#3a3a3a" stroke-width="1.5"/>
<circle cx="244.9" cy="756.54" r="1.5" fill="#fff" stroke-width="0"/>
<line x1="242.4" y1="756.54" x2="249.2" y2="756.54" stroke-width="0.8" stroke="#fff"/>
<line x1="206.8" y1="760.06" x2="249.5" y2="760.06" stroke-width="1"/>
<circle cx="210.5" cy="760.06" r="3.4" fill="#3a3a3a" stroke-width="1.5"/>
<circle cx="211.4" cy="760.06" r="1.5" fill="#fff" stroke-width="0"/>
<line x1="207.1" y1="760.06" x2="213.9" y2="760.06" stroke-width="0.8" stroke="#fff"/>
<circle cx="245.8" cy="760.06" r="3.4" fill="#3a3a3a" stroke-width="1.5"/>
<circle cx="244.9" cy="760.06" r="1.5" fill="#fff" stroke-width="0"/>
<line x1="242.4" y1="760.06" x2="249.2" y2="760.06" stroke-width="0.8" stroke="#fff"/>
<line x1="206.8" y1="766.91" x2="249.5" y2="766.91" stroke-width="1"/>
<circle cx="210.5" cy="766.91" r="3.4" fill="#3a3a3a" stroke-width="1.5"/>
<circle cx="211.4" cy="766.91" r="1.5" fill="#fff" stroke-width="0"/>
<line x1="207.1" y1="766.91" x2="213.9" y2="766.91" stroke-width="0.8" stroke="#fff"/>
<circle cx="245.8" cy="766.91" r="3.4" fill="#3a3a3a" stroke-width="1.5"/>
<circle cx="244.9" cy="766.91" r="1.5" fill="#fff" stroke-width="0"/>
<line x1="242.4" y1="766.91" x2="249.2" y2="766.91" stroke-width="0.8" stroke="#fff"/>
<line x1="206.8" y1="776.75" x2="249.5" y2="776.75" stroke-width="1"/>
<circle cx="210.5" cy="776.75" r="3.4" fill="#3a3a3a" stroke-width="1.5"/>
<circle cx="211.4" cy="776.75" r="1.5" fill="#fff" stroke-width="0"/>
<line x1="207.1" y1="776.75" x2="213.9" y2="776.75" stroke-width="0.8" stroke="#fff"/>
<circle cx="245.8" cy="776.75" r="3.4" fill="#3a3a3a" stroke-width="1.5"/>
<circle cx="244.9" cy="776.75" r="1.5" fill="#fff" stroke-width="0"/>
<line x1="242.4" y1="776.75" x2="249.2" y2="776.75" stroke-width="0.8" stroke="#fff"/>
<line x1="206.8" y1="789.09" x2="249.5" y2="789.09" stroke-width="1"/>
<circle cx="210.5" cy="789.09" r="3.4" fill="#3a3a3a" stroke-width="1.5"/>
<circle cx="211.4" cy="789.09" r="1.5" fill="#fff" stroke-width="0"/>
<line x1="207.1" y1="789.09" x2="213.9" y2="789.09" stroke-width="0.8" stroke="#fff"/>
<circle cx="245.8" cy="789.09" r="3.4" fill="#3a3a3a" stroke-width="1.5"/>
<circle cx="244.9" cy="789.09" r="1.5" fill="#fff" stroke-width="0"/>
<line x1="242.4" y1="789.09" x2="249.2" y2="789.09" stroke-width="0.8" stroke="#fff"/>
<line x1="206.8" y1="803.32" x2="249.5" y2="803.32" stroke-width="1"/>
<circle cx="210.5" cy="803.32" r="3.4" fill="#3a3a3a" stroke-width="1.5"/>
<circle cx="211.4" cy="803.32" r="1.5" fill="#fff" stroke-width="0"/>
<line x1="207.1" y1="803.32" x2="213.9" y2="803.32" stroke-width="0.8" stroke="#fff"/>
<circle cx="245.8" cy="803.32" r="3.4" fill="#3a3a3a" stroke-width="1.5"/>
<circle cx="244.9" cy="803.32" r="1.5" fill="#fff" stroke-width="0"/>
<line x1="242.4" y1="803.32" x2="249.2" y2="803.32" stroke-width="0.8" stroke="#fff"/>
<line x1="206.8" y1="818.71" x2="249.5" y2="818.71" stroke-width="1"/>
<circle cx="210.5" cy="818.71" r="3.4" fill="#3a3a3a" stroke-width="1.5"/>
<circle cx="211.4" cy="818.71" r="1.5" fill="#fff" stroke-width="0"/>
<line x1="207.1" y1="818.71" x2="213.9" y2="818.71" stroke-width="0.8" stroke="#fff"/>
<circle cx="245.8" cy="818.71" r="3.4" fill="#3a3a3a" stroke-width="1.5"/>
<circle cx="244.9" cy="818.71" r="1.5" fill="#fff" stroke-width="0"/>
<line x1="242.4" y1="818.71" x2="249.2" y2="818.71" stroke-width="0.8" stroke="#fff"/>
<line x1="206.8" y1="834.5" x2="249.5" y2="834.5" stroke-width="1"/>
<circle cx="210.5" cy="834.5" r="3.4" fill="#3a3a3a" stroke-width="1.5"/>
<circle cx="211.4" cy="834.5" r="1.5" fill="#fff" stroke-width="0"/>
<line x1="207.1" y1="834.5" x2="213.9" y2="834.5" stroke-width="0.8" stroke="#fff"/>
<circle cx="245.8" cy="834.5" r="3.4" fill="#3a3a3a" stroke-width="1.5"/>
<circle cx="244.9" cy="834.5" r="1.5" fill="#fff" stroke-width="0"/>
<line x1="242.4" y1="834.5" x2="249.2" y2="834.5" stroke-width="0.8" stroke="#fff"/>
<line x1="206.8" y1="849.89" x2="249.5" y2="849.89" stroke-width="1"/>
<circle cx="210.5" cy="849.89" r="3.4" fill="#3a3a3a" stroke-width="1.5"/>
<circle cx="211.4" cy="849.89" r="1.5" fill="#fff" stroke-width="0"/>
<line x1="207.1" y1="849.89" x2="213.9" y2="849.89" stroke-width="0.8" stroke="#fff"/>
<circle cx="245.8" cy="849.89" r="3.4" fill="#3a3a3a" stroke-width="1.5"/>
<circle cx="244.9" cy="849.89" r="1.5" fill="#fff" stroke-width="0"/>
<line x1="242.4" y1="849.89" x2="249.2" y2="849.89" stroke-width="0.8" stroke="#fff"/>
<line x1="206.8" y1="864.11" x2="249.5" y2="864.11" stroke-width="1"/>
<circle cx="210.5" cy="864.11" r="3.4" fill="#3a3a3a" stroke-width="1.5"/>
<circle cx="211.4" cy="864.11" r="1.5" fill="#fff" stroke-width="0"/>
<line x1="207.1" y1="864.11" x2="213.9" y2="864.11" stroke-width="0.8" stroke="#fff"/>
<circle cx="245.8" cy="864.11" r="3.4" fill="#3a3a3a" stroke-width="1.5"/>
<circle cx="244.9" cy="864.11" r="1.5" fill="#fff" stroke-width="0"/>
<line x1="242.4" y1="864.11" x2="249.2" y2="864.11" stroke-width="0.8" stroke="#fff"/>
<line x1="206.8" y1="876.45" x2="249.5" y2="876.45" stroke-width="1"/>
<circle cx="210.5" cy="876.45" r="3.4" fill="#3a3a3a" stroke-width="1.5"/>
<circle cx="211.4" cy="876.45" r="1.5" fill="#fff" stroke-width="0"/>
<line x1="207.1" y1="876.45" x2="213.9" y2="876.45" stroke-width="0.8" stroke="#fff"/>
<circle cx="245.8" cy="876.45" r="3.4" fill="#3a3a3a" stroke-width="1.5"/>
<circle cx="244.9" cy="876.45" r="1.5" fill="#fff" stroke-width="0"/>
<line x1="242.4" y1="876.45" x2="249.2" y2="876.45" stroke-width="0.8" stroke="#fff"/>
<line x1="206.8" y1="886.29" x2="249.5" y2="886.29" stroke-width="1"/>
<circle cx="210.5" cy="886.29" r="3.4" fill="#3a3a3a" stroke-width="1.5"/>
<circle cx="211.4" cy="886.29" r="1.5" fill="#fff" stroke-width="0"/>
<line x1="207.1" y1="886.29" x2="213.9" y2="886.29" stroke-width="0.8" stroke="#fff"/>
<circle cx="245.8" cy="886.29" r="3.4" fill="#3a3a3a" stroke-width="1.5"/>
<circle cx="244.9" cy="886.29" r="1.5" fill="#fff" stroke-width="0"/>
<line x1="242.4" y1="886.29" x2="249.2" y2="886.29" stroke-width="0.8" stroke="#fff"/>
<line x1="206.8" y1="893.14" x2="249.5" y2="893.14" stroke-width="1"/>
<circle cx="210.5" cy="893.14" r="3.4" fill="#3a3a3a" stroke-width="1.5"/>
<circle cx="211.4" cy="893.14" r="1.5" fill="#fff" stroke-width="0"/>
<line x1="207.1" y1="893.14" x2="213.9" y2="893.14" stroke-width="0.8" stroke="#fff"/>
<circle cx="245.8" cy="893.14" r="3.4" fill="#3a3a3a" stroke-width="1.5"/>
<circle cx="244.9" cy="893.14" r="1.5" fill="#fff" stroke-width="0"/>
<line x1="242.4" y1="893.14" x2="249.2" y2="893.14" stroke-width="0.8" stroke="#fff"/>
<line x1="206.8" y1="896.66" x2="249.5" y2="896.66" stroke-width="1"/>
<circle cx="210.5" cy="896.66" r="3.4" fill="#3a3a3a" stroke-width="1.5"/>
<circle cx="211.4" cy="896.66" r="1.5" fill="#fff" stroke-width="0"/>
<line x1="207.1" y1="896.66" x2="213.9" y2="896.66" stroke-width="0.8" stroke="#fff"/>
<circle cx="245.8" cy="896.66" r="3.4" fill="#3a3a3a" stroke-width="1.5"/>
<circle cx="244.9" cy="896.66" r="1.5" fill="#fff" stroke-width="0"/>
<line x1="242.4" y1="896.66" x2="249.2" y2="896.66" stroke-width="0.8" stroke="#fff"/>
<rect x="889.3" y="738.7" width="38.3" height="176.2" rx="4" fill="#fff" stroke-width="1.3"/>
<line x1="894.5" y1="738.7" x2="894.5" y2="914.9" stroke-width="1"/>
<line x1="922.5" y1="738.7" x2="922.5" y2="914.9" stroke-width="1"/>
<line x1="909.5" y1="738.7" x2="909.5" y2="914.9" stroke-width="2.2"/>
<line x1="888.3" y1="744.99" x2="928.6" y2="744.99" stroke-width="1"/>
<circle cx="892" cy="744.99" r="3.4" fill="#3a3a3a" stroke-width="1.5"/>
<circle cx="892.9" cy="744.99" r="1.5" fill="#fff" stroke-width="0"/>
<line x1="888.6" y1="744.99" x2="895.4" y2="744.99" stroke-width="0.8" stroke="#fff"/>
<circle cx="924.9" cy="744.99" r="3.4" fill="#3a3a3a" stroke-width="1.5"/>
<circle cx="924" cy="744.99" r="1.5" fill="#fff" stroke-width="0"/>
<line x1="921.5" y1="744.99" x2="928.3" y2="744.99" stroke-width="0.8" stroke="#fff"/>
<line x1="888.3" y1="748.13" x2="928.6" y2="748.13" stroke-width="1"/>
<circle cx="892" cy="748.13" r="3.4" fill="#3a3a3a" stroke-width="1.5"/>
<circle cx="892.9" cy="748.13" r="1.5" fill="#fff" stroke-width="0"/>
<line x1="888.6" y1="748.13" x2="895.4" y2="748.13" stroke-width="0.8" stroke="#fff"/>
<circle cx="924.9" cy="748.13" r="3.4" fill="#3a3a3a" stroke-width="1.5"/>
<circle cx="924" cy="748.13" r="1.5" fill="#fff" stroke-width="0"/>
<line x1="921.5" y1="748.13" x2="928.3" y2="748.13" stroke-width="0.8" stroke="#fff"/>
<line x1="888.3" y1="754.28" x2="928.6" y2="754.28" stroke-width="1"/>
<circle cx="892" cy="754.28" r="3.4" fill="#3a3a3a" stroke-width="1.5"/>
<circle cx="892.9" cy="754.28" r="1.5" fill="#fff" stroke-width="0"/>
<line x1="888.6" y1="754.28" x2="895.4" y2="754.28" stroke-width="0.8" stroke="#fff"/>
<circle cx="924.9" cy="754.28" r="3.4" fill="#3a3a3a" stroke-width="1.5"/>
<circle cx="924" cy="754.28" r="1.5" fill="#fff" stroke-width="0"/>
<line x1="921.5" y1="754.28" x2="928.3" y2="754.28" stroke-width="0.8" stroke="#fff"/>
<line x1="888.3" y1="763.21" x2="928.6" y2="763.21" stroke-width="1"/>
<circle cx="892" cy="763.21" r="3.4" fill="#3a3a3a" stroke-width="1.5"/>
<circle cx="892.9" cy="763.21" r="1.5" fill="#fff" stroke-width="0"/>
<line x1="888.6" y1="763.21" x2="895.4" y2="763.21" stroke-width="0.8" stroke="#fff"/>
<circle cx="924.9" cy="763.21" r="3.4" fill="#3a3a3a" stroke-width="1.5"/>
<circle cx="924" cy="763.21" r="1.5" fill="#fff" stroke-width="0"/>
<line x1="921.5" y1="763.21" x2="928.3" y2="763.21" stroke-width="0.8" stroke="#fff"/>
<line x1="888.3" y1="774.58" x2="928.6" y2="774.58" stroke-width="1"/>
<circle cx="892" cy="774.58" r="3.4" fill="#3a3a3a" stroke-width="1.5"/>
<circle cx="892.9" cy="774.58" r="1.5" fill="#fff" stroke-width="0"/>
<line x1="888.6" y1="774.58" x2="895.4" y2="774.58" stroke-width="0.8" stroke="#fff"/>
<circle cx="924.9" cy="774.58" r="3.4" fill="#3a3a3a" stroke-width="1.5"/>
<circle cx="924" cy="774.58" r="1.5" fill="#fff" stroke-width="0"/>
<line x1="921.5" y1="774.58" x2="928.3" y2="774.58" stroke-width="0.8" stroke="#fff"/>
<line x1="888.3" y1="787.95" x2="928.6" y2="787.95" stroke-width="1"/>
<circle cx="892" cy="787.95" r="3.4" fill="#3a3a3a" stroke-width="1.5"/>
<circle cx="892.9" cy="787.95" r="1.5" fill="#fff" stroke-width="0"/>
<line x1="888.6" y1="787.95" x2="895.4" y2="787.95" stroke-width="0.8" stroke="#fff"/>
<circle cx="924.9" cy="787.95" r="3.4" fill="#3a3a3a" stroke-width="1.5"/>
<circle cx="924" cy="787.95" r="1.5" fill="#fff" stroke-width="0"/>
<line x1="921.5" y1="787.95" x2="928.3" y2="787.95" stroke-width="0.8" stroke="#fff"/>
<line x1="888.3" y1="802.8" x2="928.6" y2="802.8" stroke-width="1"/>
<circle cx="892" cy="802.8" r="3.4" fill="#3a3a3a" stroke-width="1.5"/>
<circle cx="892.9" cy="802.8" r="1.5" fill="#fff" stroke-width="0"/>
<line x1="888.6" y1="802.8" x2="895.4" y2="802.8" stroke-width="0.8" stroke="#fff"/>
<circle cx="924.9" cy="802.8" r="3.4" fill="#3a3a3a" stroke-width="1.5"/>
<circle cx="924" cy="802.8" r="1.5" fill="#fff" stroke-width="0"/>
<line x1="921.5" y1="802.8" x2="928.3" y2="802.8" stroke-width="0.8" stroke="#fff"/>
<line x1="888.3" y1="818.56" x2="928.6" y2="818.56" stroke-width="1"/>
<circle cx="892" cy="818.56" r="3.4" fill="#3a3a3a" stroke-width="1.5"/>
<circle cx="892.9" cy="818.56" r="1.5" fill="#fff" stroke-width="0"/>
<line x1="888.6" y1="818.56" x2="895.4" y2="818.56" stroke-width="0.8" stroke="#fff"/>
<circle cx="924.9" cy="818.56" r="3.4" fill="#3a3a3a" stroke-width="1.5"/>
<circle cx="924" cy="818.56" r="1.5" fill="#fff" stroke-width="0"/>
<line x1="921.5" y1="818.56" x2="928.3" y2="818.56" stroke-width="0.8" stroke="#fff"/>
<line x1="888.3" y1="834.64" x2="928.6" y2="834.64" stroke-width="1"/>
<circle cx="892" cy="834.64" r="3.4" fill="#3a3a3a" stroke-width="1.5"/>
<circle cx="892.9" cy="834.64" r="1.5" fill="#fff" stroke-width="0"/>
<line x1="888.6" y1="834.64" x2="895.4" y2="834.64" stroke-width="0.8" stroke="#fff"/>
<circle cx="924.9" cy="834.64" r="3.4" fill="#3a3a3a" stroke-width="1.5"/>
<circle cx="924" cy="834.64" r="1.5" fill="#fff" stroke-width="0"/>
<line x1="921.5" y1="834.64" x2="928.3" y2="834.64" stroke-width="0.8" stroke="#fff"/>
<line x1="888.3" y1="850.4" x2="928.6" y2="850.4" stroke-width="1"/>
<circle cx="892" cy="850.4" r="3.4" fill="#3a3a3a" stroke-width="1.5"/>
<circle cx="892.9" cy="850.4" r="1.5" fill="#fff" stroke-width="0"/>
<line x1="888.6" y1="850.4" x2="895.4" y2="850.4" stroke-width="0.8" stroke="#fff"/>
<circle cx="924.9" cy="850.4" r="3.4" fill="#3a3a3a" stroke-width="1.5"/>
<circle cx="924" cy="850.4" r="1.5" fill="#fff" stroke-width="0"/>
<line x1="921.5" y1="850.4" x2="928.3" y2="850.4" stroke-width="0.8" stroke="#fff"/>
<line x1="888.3" y1="865.25" x2="928.6" y2="865.25" stroke-width="1"/>
<circle cx="892" cy="865.25" r="3.4" fill="#3a3a3a" stroke-width="1.5"/>
<circle cx="892.9" cy="865.25" r="1.5" fill="#fff" stroke-width="0"/>
<line x1="888.6" y1="865.25" x2="895.4" y2="865.25" stroke-width="0.8" stroke="#fff"/>
<circle cx="924.9" cy="865.25" r="3.4" fill="#3a3a3a" stroke-width="1.5"/>
<circle cx="924" cy="865.25" r="1.5" fill="#fff" stroke-width="0"/>
<line x1="921.5" y1="865.25" x2="928.3" y2="865.25" stroke-width="0.8" stroke="#fff"/>
<line x1="888.3" y1="878.62" x2="928.6" y2="878.62" stroke-width="1"/>
<circle cx="892" cy="878.62" r="3.4" fill="#3a3a3a" stroke-width="1.5"/>
<circle cx="892.9" cy="878.62" r="1.5" fill="#fff" stroke-width="0"/>
<line x1="888.6" y1="878.62" x2="895.4" y2="878.62" stroke-width="0.8" stroke="#fff"/>
<circle cx="924.9" cy="878.62" r="3.4" fill="#3a3a3a" stroke-width="1.5"/>
<circle cx="924" cy="878.62" r="1.5" fill="#fff" stroke-width="0"/>
<line x1="921.5" y1="878.62" x2="928.3" y2="878.62" stroke-width="0.8" stroke="#fff"/>
<line x1="888.3" y1="889.99" x2="928.6" y2="889.99" stroke-width="1"/>
<circle cx="892" cy="889.99" r="3.4" fill="#3a3a3a" stroke-width="1.5"/>
<circle cx="892.9" cy="889.99" r="1.5" fill="#fff" stroke-width="0"/>
<line x1="888.6" y1="889.99" x2="895.4" y2="889.99" stroke-width="0.8" stroke="#fff"/>
<circle cx="924.9" cy="889.99" r="3.4" fill="#3a3a3a" stroke-width="1.5"/>
<circle cx="924" cy="889.99" r="1.5" fill="#fff" stroke-width="0"/>
<line x1="921.5" y1="889.99" x2="928.3" y2="889.99" stroke-width="0.8" stroke="#fff"/>
<line x1="888.3" y1="898.92" x2="928.6" y2="898.92" stroke-width="1"/>
<circle cx="892" cy="898.92" r="3.4" fill="#3a3a3a" stroke-width="1.5"/>
<circle cx="892.9" cy="898.92" r="1.5" fill="#fff" stroke-width="0"/>
<line x1="888.6" y1="898.92" x2="895.4" y2="898.92" stroke-width="0.8" stroke="#fff"/>
<circle cx="924.9" cy="898.92" r="3.4" fill="#3a3a3a" stroke-width="1.5"/>
<circle cx="924" cy="898.92" r="1.5" fill="#fff" stroke-width="0"/>
<line x1="921.5" y1="898.92" x2="928.3" y2="898.92" stroke-width="0.8" stroke="#fff"/>
<line x1="888.3" y1="905.07" x2="928.6" y2="905.07" stroke-width="1"/>
<circle cx="892" cy="905.07" r="3.4" fill="#3a3a3a" stroke-width="1.5"/>
<circle cx="892.9" cy="905.07" r="1.5" fill="#fff" stroke-width="0"/>
<line x1="888.6" y1="905.07" x2="895.4" y2="905.07" stroke-width="0.8" stroke="#fff"/>
<circle cx="924.9" cy="905.07" r="3.4" fill="#3a3a3a" stroke-width="1.5"/>
<circle cx="924" cy="905.07" r="1.5" fill="#fff" stroke-width="0"/>
<line x1="921.5" y1="905.07" x2="928.3" y2="905.07" stroke-width="0.8" stroke="#fff"/>
<line x1="888.3" y1="908.21" x2="928.6" y2="908.21" stroke-width="1"/>
<circle cx="892" cy="908.21" r="3.4" fill="#3a3a3a" stroke-width="1.5"/>
<circle cx="892.9" cy="908.21" r="1.5" fill="#fff" stroke-width="0"/>
<line x1="888.6" y1="908.21" x2="895.4" y2="908.21" stroke-width="0.8" stroke="#fff"/>
<circle cx="924.9" cy="908.21" r="3.4" fill="#3a3a3a" stroke-width="1.5"/>
<circle cx="924" cy="908.21" r="1.5" fill="#fff" stroke-width="0"/>
<line x1="921.5" y1="908.21" x2="928.3" y2="908.21" stroke-width="0.8" stroke="#fff"/>
<line x1="928.6" y1="758.2" x2="962" y2="758.2" stroke-width="1.2"/>
<line x1="928.6" y1="900.1" x2="962" y2="900.1" stroke-width="1.2"/>
<line x1="960.5" y1="758.2" x2="960.5" y2="900.1" stroke-width="1"/>
<line x1="963" y1="758.2" x2="963" y2="900.1" stroke-width="1"/>
<path d="M963,758.2 A42.5,70.95 0 0 1 963,900.1" stroke-width="1.2"/>
<path d="M1002,795.7 L1016,795.7 M1016,794.2 L1019,797.2 L1016,800.2" stroke-width="1"/>
<line x1="1002" y1="798.7" x2="1016" y2="798.7" stroke-width="1"/>
<path d="M1002,854.1 L1016,854.1 M1016,852.6 L1019,855.6 L1016,858.6" stroke-width="1"/>
<line x1="1002" y1="857.1" x2="1016" y2="857.1" stroke-width="1"/>
<path d="M990,822.6 L979,822.6 Q976,826.6 979,830.6 L990,830.6" stroke-width="1"/>
<circle cx="1008" cy="826.6" r="13" fill="#fff" stroke-width="1.4"/>
<circle cx="1008" cy="826.6" r="10.5" stroke-width="0.9"/>
<circle cx="1013.66" cy="832.26" r="2.4" fill="#222" stroke-width="0.6"/>
<circle cx="1002.34" cy="832.26" r="2.4" fill="#222" stroke-width="0.6"/>
<circle cx="1002.34" cy="820.94" r="2.4" fill="#222" stroke-width="0.6"/>
<circle cx="1013.66" cy="820.94" r="2.4" fill="#222" stroke-width="0.6"/>
<rect x="138.9" y="739.6" width="21.5" height="29" stroke-width="1"/>
<rect x="160.4" y="762" width="7.6" height="13" stroke-width="0.9"/>
<g transform="translate(121.3,790.1) rotate(-53.7)"><rect x="-52" y="-6.2" width="104" height="12.4" rx="6.2" fill="#fff" stroke-width="1.3"/><line x1="-46" y1="0" x2="46" y2="0" stroke-width="0.8"/></g>
<path d="M92,834 L100,840 L112,822 L104,816 Z" fill="#fff" stroke-width="1.1"/>
<ellipse cx="99" cy="828" rx="4" ry="2.5" transform="rotate(-50 99 828)" fill="#111" stroke="none"/>
<rect x="168" y="782" width="26.5" height="28" stroke-width="1"/>
<circle cx="177.5" cy="790.1" r="14.9" fill="#fff" stroke-width="1.3"/>
<circle cx="177.5" cy="790.1" r="11" stroke-width="1"/>
<line x1="166" y1="790.1" x2="189" y2="790.1" stroke-width="0.8"/>
<line x1="177.5" y1="779" x2="177.5" y2="801" stroke-width="0.8"/>
<line x1="156.7" y1="845" x2="156.7" y2="884" stroke-width="1.1"/>
<line x1="168.9" y1="845" x2="168.9" y2="884" stroke-width="1.1"/>
<rect x="155.5" y="880" width="14.5" height="5" stroke-width="0.9"/>
<circle cx="162.8" cy="826.6" r="23.8" fill="#fff" stroke-width="1.3"/>
<circle cx="162.8" cy="826.6" r="9.4" fill="#fff" stroke-width="2.2"/>
<circle cx="179.43" cy="833.49" r="2.9" fill="#222" stroke-width="0.8"/>
<circle cx="169.69" cy="843.23" r="2.9" fill="#222" stroke-width="0.8"/>
<circle cx="155.91" cy="843.23" r="2.9" fill="#222" stroke-width="0.8"/>
<circle cx="146.17" cy="833.49" r="2.9" fill="#222" stroke-width="0.8"/>
<circle cx="146.17" cy="819.71" r="2.9" fill="#222" stroke-width="0.8"/>
<circle cx="155.91" cy="809.97" r="2.9" fill="#222" stroke-width="0.8"/>
<circle cx="169.69" cy="809.97" r="2.9" fill="#222" stroke-width="0.8"/>
<circle cx="179.43" cy="819.71" r="2.9" fill="#222" stroke-width="0.8"/>
<rect x="130.4" y="844.3" width="15.3" height="27.6" stroke-width="1"/>
<rect x="136" y="848" width="3" height="29" stroke-width="0.8"/>
<circle cx="226.3" cy="802.8" r="24.8" fill="#fff" stroke-width="2"/>
<circle cx="226.3" cy="802.8" r="20" stroke-width="1.2"/>
<line x1="206" y1="802.8" x2="246.5" y2="802.8" stroke-width="1.2"/>
<line x1="226.3" y1="783" x2="226.3" y2="822.5" stroke-width="1.2"/>
<line x1="222" y1="785" x2="222" y2="820" stroke-width="0.8"/>
<line x1="230.6" y1="785" x2="230.6" y2="820" stroke-width="0.8"/>
<line x1="276.3" y1="855" x2="276.3" y2="892.6" stroke-width="1.1"/>
<line x1="288.5" y1="855" x2="288.5" y2="892.6" stroke-width="1.1"/>
<rect x="275" y="888" width="15" height="5.5" stroke-width="0.9"/>
<circle cx="282.5" cy="826.6" r="34.4" fill="#fff" stroke-width="1.3"/>
<circle cx="282.5" cy="826.6" r="17.2" fill="#fff" stroke-width="2.6"/>
<circle cx="282.5" cy="826.6" r="15.2" stroke-width="0.8"/>
<circle cx="308.37" cy="837.32" r="4" fill="#222" stroke-width="0.8"/>
<circle cx="293.22" cy="852.47" r="4" fill="#222" stroke-width="0.8"/>
<circle cx="271.78" cy="852.47" r="4" fill="#222" stroke-width="0.8"/>
<circle cx="256.63" cy="837.32" r="4" fill="#222" stroke-width="0.8"/>
<circle cx="256.63" cy="815.88" r="4" fill="#222" stroke-width="0.8"/>
<circle cx="271.78" cy="800.73" r="4" fill="#222" stroke-width="0.8"/>
<circle cx="293.22" cy="800.73" r="4" fill="#222" stroke-width="0.8"/>
<circle cx="308.37" cy="815.88" r="4" fill="#222" stroke-width="0.8"/>
<path d="M251,810 L258,814 M248,817 L255,821" stroke-width="0.9"/>
<rect x="328.1" y="814.5" width="63" height="24.4" stroke-width="1.1"/>
<line x1="338.6" y1="826.6" x2="380.1" y2="826.6" stroke-width="2.4"/>
<path d="M267.8,889.9 L267.8,916 Q267.8,918.3 270,918.3 L304.6,918.3 Q306.9,918.3 306.9,916 L306.9,889.9" stroke-width="1.2"/>
<path d="M612.7,826.4 L612.7,835 C613,860 625,880 660,885 C720,889 800,886 850,886 C858,880 860.4,860 860.4,826.4 Z" fill="#fff" stroke-width="1.2"/>
<clipPath id="cutB"><path d="M612.7,826.4 L612.7,835 C613,860 625,880 660,885 C720,889 800,886 850,886 C858,880 860.4,860 860.4,826.4 Z"/></clipPath>
<g clip-path="url(#cutB)">
<line x1="600" y1="829" x2="870" y2="829" stroke-width="0.9"/>
<line x1="600" y1="832.5" x2="870" y2="832.5" stroke-width="1.6"/>
<line x1="600" y1="836" x2="870" y2="836" stroke-width="0.9"/>
<line x1="600" y1="840" x2="870" y2="840" stroke-width="0.9"/>
<line x1="600" y1="844.5" x2="870" y2="844.5" stroke-width="0.9"/>
<line x1="600" y1="848.6" x2="870" y2="848.6" stroke-width="0.9"/>
<line x1="600" y1="852.8" x2="870" y2="852.8" stroke-width="0.9"/>
<line x1="600" y1="857" x2="870" y2="857" stroke-width="1.6"/>
<line x1="600" y1="862" x2="870" y2="862" stroke-width="0.9"/>
<line x1="600" y1="866.7" x2="870" y2="866.7" stroke-width="0.9"/>
<line x1="600" y1="872.3" x2="870" y2="872.3" stroke-width="1.6"/>
<line x1="600" y1="877.9" x2="870" y2="877.9" stroke-width="0.9"/>
<line x1="600" y1="882.5" x2="870" y2="882.5" stroke-width="0.9"/>
</g>
<line x1="795" y1="826.4" x2="795" y2="883" stroke-width="1.8"/>
<line x1="675.5" y1="826.4" x2="675.5" y2="843" stroke-width="1.8"/>
<rect x="796" y="851" width="10" height="4" stroke-width="0.8"/>
<rect x="796" y="868" width="10" height="4" stroke-width="0.8"/>
<rect x="712.1" y="814.4" width="62.6" height="23.1" fill="#fff" stroke-width="1.1"/>
<line x1="722.7" y1="826.6" x2="764.4" y2="826.6" stroke-width="2.4"/>
<g transform="translate(931.4,795) rotate(66.5)"><rect x="-77" y="-4.5" width="154" height="9" rx="4.5" fill="#fff" stroke-width="1.3"/><line x1="-70" y1="0" x2="70" y2="0" stroke-width="0.7"/></g>
<path d="M893,719 L903,716 L910,733 L900,736 Z" stroke-width="1"/>
<g transform="translate(962,751) rotate(24)"><rect x="-60" y="-3.5" width="120" height="7" rx="3" fill="#fff" stroke-width="1.2"/><line x1="-20" y1="0" x2="10" y2="0" stroke-width="2"/></g>
<circle cx="1017" cy="774" r="4.5" fill="#222" stroke-width="0.8"/>
<g transform="translate(944,826.5) rotate(-35)"><rect x="-13" y="-5.5" width="26" height="11" fill="#fff" stroke-width="1.2"/><line x1="-13" y1="0" x2="13" y2="0" stroke-width="0.8"/></g>
<circle cx="936" cy="832" r="1.6" fill="#222" stroke-width="0.5"/>
<circle cx="952" cy="821" r="1.6" fill="#222" stroke-width="0.5"/>
<rect x="951" y="851" width="15" height="15" stroke-width="1"/>
<circle cx="957" cy="858.5" r="3" stroke-width="0.9"/>
<line x1="163.6" y1="716.9" x2="163.6" y2="768" stroke-width="0.8"/>
<line x1="283" y1="718.8" x2="283" y2="826.6" stroke-width="0.8"/>
<line x1="1021" y1="826.6" x2="1034.4" y2="826.6" stroke-width="0.8"/>
<rect x="141.3" y="699.8" width="22.3" height="17.1" fill="#fff" stroke-width="0.9"/><text x="152.45" y="713.14" class="lt" text-anchor="middle">T2</text>
<rect x="262.4" y="701" width="20.6" height="17.8" fill="#fff" stroke-width="0.9"/><text x="272.7" y="714.88" class="lt" text-anchor="middle">S1</text>
<rect x="1034.4" y="809.7" width="18.1" height="17.3" fill="#fff" stroke-width="0.9"/><text x="1043.45" y="823.19" class="lt" text-anchor="middle">V</text>
</g>
<g id="viewC" fill="none" stroke="#111" stroke-width="1.25" stroke-linecap="round" stroke-linejoin="round">
<circle cx="1217.6" cy="436.6" r="88" fill="#fff" stroke-width="1.3"/>
<polygon points="1304.01,446.6 1300.9,448.4 1297.78,446.6 1297.78,443 1300.9,441.2 1304.01,443" fill="#1a1a1a" stroke="#111" stroke-width="0.6"/>
<polygon points="1300.81,462.7 1297.7,464.5 1294.58,462.7 1294.58,459.1 1297.7,457.3 1300.81,459.1" fill="#1a1a1a" stroke="#111" stroke-width="0.6"/>
<polygon points="1294.53,477.86 1291.42,479.66 1288.3,477.86 1288.3,474.26 1291.42,472.46 1294.53,474.26" fill="#1a1a1a" stroke="#111" stroke-width="0.6"/>
<polygon points="1285.42,491.5 1282.3,493.3 1279.18,491.5 1279.18,487.9 1282.3,486.1 1285.42,487.9" fill="#1a1a1a" stroke="#111" stroke-width="0.6"/>
<polygon points="1156.02,491.5 1152.9,493.3 1149.78,491.5 1149.78,487.9 1152.9,486.1 1156.02,487.9" fill="#1a1a1a" stroke="#111" stroke-width="0.6"/>
<polygon points="1146.9,477.86 1143.78,479.66 1140.67,477.86 1140.67,474.26 1143.78,472.46 1146.9,474.26" fill="#1a1a1a" stroke="#111" stroke-width="0.6"/>
<polygon points="1140.62,462.7 1137.5,464.5 1134.39,462.7 1134.39,459.1 1137.5,457.3 1140.62,459.1" fill="#1a1a1a" stroke="#111" stroke-width="0.6"/>
<polygon points="1137.42,446.6 1134.3,448.4 1131.19,446.6 1131.19,443 1134.3,441.2 1137.42,443" fill="#1a1a1a" stroke="#111" stroke-width="0.6"/>
<polygon points="1137.42,430.2 1134.3,432 1131.19,430.2 1131.19,426.6 1134.3,424.8 1137.42,426.6" fill="#1a1a1a" stroke="#111" stroke-width="0.6"/>
<polygon points="1140.62,414.1 1137.5,415.9 1134.39,414.1 1134.39,410.5 1137.5,408.7 1140.62,410.5" fill="#1a1a1a" stroke="#111" stroke-width="0.6"/>
<polygon points="1146.9,398.94 1143.78,400.74 1140.67,398.94 1140.67,395.34 1143.78,393.54 1146.9,395.34" fill="#1a1a1a" stroke="#111" stroke-width="0.6"/>
<polygon points="1156.02,385.3 1152.9,387.1 1149.78,385.3 1149.78,381.7 1152.9,379.9 1156.02,381.7" fill="#1a1a1a" stroke="#111" stroke-width="0.6"/>
<polygon points="1167.62,373.7 1164.5,375.5 1161.38,373.7 1161.38,370.1 1164.5,368.3 1167.62,370.1" fill="#1a1a1a" stroke="#111" stroke-width="0.6"/>
<polygon points="1181.26,364.58 1178.14,366.38 1175.03,364.58 1175.03,360.98 1178.14,359.18 1181.26,360.98" fill="#1a1a1a" stroke="#111" stroke-width="0.6"/>
<polygon points="1260.17,364.58 1257.06,366.38 1253.94,364.58 1253.94,360.98 1257.06,359.18 1260.17,360.98" fill="#1a1a1a" stroke="#111" stroke-width="0.6"/>
<polygon points="1273.82,373.7 1270.7,375.5 1267.58,373.7 1267.58,370.1 1270.7,368.3 1273.82,370.1" fill="#1a1a1a" stroke="#111" stroke-width="0.6"/>
<polygon points="1285.42,385.3 1282.3,387.1 1279.18,385.3 1279.18,381.7 1282.3,379.9 1285.42,381.7" fill="#1a1a1a" stroke="#111" stroke-width="0.6"/>
<polygon points="1294.53,398.94 1291.42,400.74 1288.3,398.94 1288.3,395.34 1291.42,393.54 1294.53,395.34" fill="#1a1a1a" stroke="#111" stroke-width="0.6"/>
<polygon points="1300.81,414.1 1297.7,415.9 1294.58,414.1 1294.58,410.5 1297.7,408.7 1300.81,410.5" fill="#1a1a1a" stroke="#111" stroke-width="0.6"/>
<polygon points="1304.01,430.2 1300.9,432 1297.78,430.2 1297.78,426.6 1300.9,424.8 1304.01,426.6" fill="#1a1a1a" stroke="#111" stroke-width="0.6"/>
<rect x="1158.3" y="495" width="118.8" height="51" fill="#fff" stroke-width="0" stroke="none"/>
<line x1="1157.5" y1="501" x2="1157.5" y2="546.7" stroke-width="1.2"/>
<line x1="1277.9" y1="501" x2="1277.9" y2="546.7" stroke-width="1.2"/>
<rect x="1154.6" y="546.7" width="125.7" height="5.9" rx="1" fill="#fff" stroke-width="1.2"/>
<line x1="1160" y1="544" x2="1275" y2="544" stroke-width="0.8"/>
<circle cx="1217.6" cy="436.6" r="77" fill="#fff" stroke-width="1.3"/>
<polygon points="1291.85,446.46 1288.65,448.31 1285.45,446.46 1285.45,442.76 1288.65,440.91 1291.85,442.76" fill="#1a1a1a" stroke="#111" stroke-width="0.6"/>
<polygon points="1288.29,462.07 1285.09,463.92 1281.88,462.07 1281.88,458.37 1285.09,456.52 1288.29,458.37" fill="#1a1a1a" stroke="#111" stroke-width="0.6"/>
<polygon points="1281.34,476.49 1278.14,478.34 1274.94,476.49 1274.94,472.79 1278.14,470.94 1281.34,472.79" fill="#1a1a1a" stroke="#111" stroke-width="0.6"/>
<polygon points="1271.36,489.01 1268.16,490.86 1264.95,489.01 1264.95,485.31 1268.16,483.46 1271.36,485.31" fill="#1a1a1a" stroke="#111" stroke-width="0.6"/>
<polygon points="1258.84,498.99 1255.64,500.84 1252.44,498.99 1252.44,495.29 1255.64,493.44 1258.84,495.29" fill="#1a1a1a" stroke="#111" stroke-width="0.6"/>
<polygon points="1244.42,505.94 1241.21,507.79 1238.01,505.94 1238.01,502.24 1241.21,500.39 1244.42,502.24" fill="#1a1a1a" stroke="#111" stroke-width="0.6"/>
<polygon points="1228.81,509.5 1225.6,511.35 1222.4,509.5 1222.4,505.8 1225.6,503.95 1228.81,505.8" fill="#1a1a1a" stroke="#111" stroke-width="0.6"/>
<polygon points="1212.8,509.5 1209.59,511.35 1206.39,509.5 1206.39,505.8 1209.59,503.95 1212.8,505.8" fill="#1a1a1a" stroke="#111" stroke-width="0.6"/>
<polygon points="1197.19,505.94 1193.98,507.79 1190.78,505.94 1190.78,502.24 1193.98,500.39 1197.19,502.24" fill="#1a1a1a" stroke="#111" stroke-width="0.6"/>
<polygon points="1182.76,498.99 1179.56,500.84 1176.36,498.99 1176.36,495.29 1179.56,493.44 1182.76,495.29" fill="#1a1a1a" stroke="#111" stroke-width="0.6"/>
<polygon points="1170.25,489.01 1167.04,490.86 1163.84,489.01 1163.84,485.31 1167.04,483.46 1170.25,485.31" fill="#1a1a1a" stroke="#111" stroke-width="0.6"/>
<polygon points="1160.26,476.49 1157.06,478.34 1153.86,476.49 1153.86,472.79 1157.06,470.94 1160.26,472.79" fill="#1a1a1a" stroke="#111" stroke-width="0.6"/>
<polygon points="1153.32,462.07 1150.11,463.92 1146.91,462.07 1146.91,458.37 1150.11,456.52 1153.32,458.37" fill="#1a1a1a" stroke="#111" stroke-width="0.6"/>
<polygon points="1149.75,446.46 1146.55,448.31 1143.35,446.46 1143.35,442.76 1146.55,440.91 1149.75,442.76" fill="#1a1a1a" stroke="#111" stroke-width="0.6"/>
<polygon points="1149.75,430.45 1146.55,432.3 1143.35,430.45 1143.35,426.75 1146.55,424.9 1149.75,426.75" fill="#1a1a1a" stroke="#111" stroke-width="0.6"/>
<polygon points="1153.32,414.84 1150.11,416.69 1146.91,414.84 1146.91,411.14 1150.11,409.29 1153.32,411.14" fill="#1a1a1a" stroke="#111" stroke-width="0.6"/>
<polygon points="1160.26,400.41 1157.06,402.26 1153.85,400.41 1153.85,396.71 1157.06,394.86 1160.26,396.71" fill="#1a1a1a" stroke="#111" stroke-width="0.6"/>
<polygon points="1170.25,387.89 1167.04,389.74 1163.84,387.89 1163.84,384.19 1167.04,382.34 1170.25,384.19" fill="#1a1a1a" stroke="#111" stroke-width="0.6"/>
<polygon points="1182.76,377.91 1179.56,379.76 1176.35,377.91 1176.35,374.21 1179.56,372.36 1182.76,374.21" fill="#1a1a1a" stroke="#111" stroke-width="0.6"/>
<polygon points="1197.19,370.96 1193.98,372.81 1190.78,370.96 1190.78,367.26 1193.98,365.41 1197.19,367.26" fill="#1a1a1a" stroke="#111" stroke-width="0.6"/>
<polygon points="1212.8,367.4 1209.59,369.25 1206.39,367.4 1206.39,363.7 1209.59,361.85 1212.8,363.7" fill="#1a1a1a" stroke="#111" stroke-width="0.6"/>
<polygon points="1228.81,367.4 1225.6,369.25 1222.4,367.4 1222.4,363.7 1225.6,361.85 1228.81,363.7" fill="#1a1a1a" stroke="#111" stroke-width="0.6"/>
<polygon points="1244.42,370.96 1241.21,372.81 1238.01,370.96 1238.01,367.26 1241.21,365.41 1244.42,367.26" fill="#1a1a1a" stroke="#111" stroke-width="0.6"/>
<polygon points="1258.84,377.91 1255.64,379.76 1252.43,377.91 1252.43,374.21 1255.64,372.36 1258.84,374.21" fill="#1a1a1a" stroke="#111" stroke-width="0.6"/>
<polygon points="1271.36,387.89 1268.16,389.74 1264.95,387.89 1264.95,384.19 1268.16,382.34 1271.36,384.19" fill="#1a1a1a" stroke="#111" stroke-width="0.6"/>
<polygon points="1281.34,400.41 1278.14,402.26 1274.94,400.41 1274.94,396.71 1278.14,394.86 1281.34,396.71" fill="#1a1a1a" stroke="#111" stroke-width="0.6"/>
<polygon points="1288.29,414.83 1285.09,416.68 1281.88,414.83 1281.88,411.13 1285.09,409.28 1288.29,411.13" fill="#1a1a1a" stroke="#111" stroke-width="0.6"/>
<polygon points="1291.85,430.44 1288.65,432.29 1285.45,430.44 1285.45,426.74 1288.65,424.89 1291.85,426.74" fill="#1a1a1a" stroke="#111" stroke-width="0.6"/>
<circle cx="1217.6" cy="436.6" r="62.7" fill="#fff" stroke-width="1.3"/>
<line x1="1217.6" y1="250" x2="1217.6" y2="591.5" stroke-width="0.9"/>
<line x1="1150" y1="436.6" x2="1310" y2="436.6" stroke-width="0.9"/>
<path d="M1193.3,414 L1195.9,417 L1195.9,457 L1193.3,460 L1190.7,457 L1190.7,417 Z" fill="#fff" stroke-width="1.1"/>
<line x1="1193.3" y1="418" x2="1193.3" y2="456" stroke-width="0.6"/>
<path d="M1240.2,414 L1242.8,417 L1242.8,457 L1240.2,460 L1237.6,457 L1237.6,417 Z" fill="#fff" stroke-width="1.1"/>
<line x1="1240.2" y1="418" x2="1240.2" y2="456" stroke-width="0.6"/>
<rect x="1294" y="423.3" width="15" height="23.8" fill="#fff" stroke-width="1.1"/>
<rect x="1198" y="330" width="39.2" height="32" fill="#fff" stroke-width="1.1"/>
<line x1="1205" y1="332" x2="1205" y2="362" stroke-width="0.8"/>
<line x1="1230" y1="332" x2="1230" y2="362" stroke-width="0.8"/>
<path d="M1213,362 L1213,342 L1222,342 L1222,362" stroke-width="0.9"/>
<circle cx="1217.6" cy="351.5" r="4" fill="#fff" stroke-width="1.2"/>
<rect x="1228" y="344.4" width="55.6" height="12.6" rx="1.5" fill="#fff" stroke-width="1.1"/>
<line x1="1230" y1="350.5" x2="1276" y2="350.5" stroke-width="0.8"/>
<rect x="1274" y="343" width="9.6" height="15.5" stroke-width="1"/>
<line x1="1277" y1="343" x2="1277" y2="358.5" stroke-width="0.7"/>
<line x1="1280" y1="343" x2="1280" y2="358.5" stroke-width="0.7"/>
<line x1="1283.6" y1="351.5" x2="1321" y2="351.5" stroke-width="0.8"/>
<rect x="1185" y="312" width="68.8" height="7" rx="1.2" fill="#fff" stroke-width="1.2"/>
<rect x="1188" y="319" width="63" height="4.5" fill="#fff" stroke-width="1"/>
<rect x="1185" y="323.5" width="68.8" height="7" rx="1.2" fill="#fff" stroke-width="1.2"/>
<line x1="1190.5" y1="305" x2="1190.5" y2="337" stroke-width="0.8"/>
<circle cx="1190.5" cy="308.5" r="3.2" fill="#3a3a3a" stroke-width="1.2"/>
<circle cx="1190.5" cy="308.5" r="1.3" fill="#fff" stroke-width="0"/>
<circle cx="1190.5" cy="333.5" r="3.2" fill="#3a3a3a" stroke-width="1.2"/>
<circle cx="1190.5" cy="333.5" r="1.3" fill="#fff" stroke-width="0"/>
<line x1="1201" y1="305" x2="1201" y2="337" stroke-width="0.8"/>
<circle cx="1201" cy="308.5" r="3.2" fill="#3a3a3a" stroke-width="1.2"/>
<circle cx="1201" cy="308.5" r="1.3" fill="#fff" stroke-width="0"/>
<circle cx="1201" cy="333.5" r="3.2" fill="#3a3a3a" stroke-width="1.2"/>
<circle cx="1201" cy="333.5" r="1.3" fill="#fff" stroke-width="0"/>
<line x1="1212" y1="305" x2="1212" y2="337" stroke-width="0.8"/>
<circle cx="1212" cy="308.5" r="3.2" fill="#3a3a3a" stroke-width="1.2"/>
<circle cx="1212" cy="308.5" r="1.3" fill="#fff" stroke-width="0"/>
<circle cx="1212" cy="333.5" r="3.2" fill="#3a3a3a" stroke-width="1.2"/>
<circle cx="1212" cy="333.5" r="1.3" fill="#fff" stroke-width="0"/>
<line x1="1224" y1="305" x2="1224" y2="337" stroke-width="0.8"/>
<circle cx="1224" cy="308.5" r="3.2" fill="#3a3a3a" stroke-width="1.2"/>
<circle cx="1224" cy="308.5" r="1.3" fill="#fff" stroke-width="0"/>
<circle cx="1224" cy="333.5" r="3.2" fill="#3a3a3a" stroke-width="1.2"/>
<circle cx="1224" cy="333.5" r="1.3" fill="#fff" stroke-width="0"/>
<line x1="1234" y1="305" x2="1234" y2="337" stroke-width="0.8"/>
<circle cx="1234" cy="308.5" r="3.2" fill="#3a3a3a" stroke-width="1.2"/>
<circle cx="1234" cy="308.5" r="1.3" fill="#fff" stroke-width="0"/>
<circle cx="1234" cy="333.5" r="3.2" fill="#3a3a3a" stroke-width="1.2"/>
<circle cx="1234" cy="333.5" r="1.3" fill="#fff" stroke-width="0"/>
<line x1="1245" y1="305" x2="1245" y2="337" stroke-width="0.8"/>
<circle cx="1245" cy="308.5" r="3.2" fill="#3a3a3a" stroke-width="1.2"/>
<circle cx="1245" cy="308.5" r="1.3" fill="#fff" stroke-width="0"/>
<circle cx="1245" cy="333.5" r="3.2" fill="#3a3a3a" stroke-width="1.2"/>
<circle cx="1245" cy="333.5" r="1.3" fill="#fff" stroke-width="0"/>
<line x1="1250" y1="305" x2="1250" y2="337" stroke-width="0.8"/>
<circle cx="1250" cy="308.5" r="3.2" fill="#3a3a3a" stroke-width="1.2"/>
<circle cx="1250" cy="308.5" r="1.3" fill="#fff" stroke-width="0"/>
<circle cx="1250" cy="333.5" r="3.2" fill="#3a3a3a" stroke-width="1.2"/>
<circle cx="1250" cy="333.5" r="1.3" fill="#fff" stroke-width="0"/>
<line x1="1217.6" y1="298" x2="1217.6" y2="345" stroke-width="2.4" stroke="#555"/>
<path d="M1113.7,348.8 L1113.7,313 A36.5,36.5 0 0 1 1150.2,276.5 L1256.3,276.5 A6.1,6.1 0 0 1 1256.3,288.7 L1150.2,288.7 A25,25 0 0 0 1125.2,313.7 L1125.2,348.8" fill="#fff" stroke-width="1.2"/>
<path d="M1138,350 L1138,330 A35,35 0 0 1 1173,295.5 L1205,295.5 M1150.8,362.4 L1150.8,332 A22,22 0 0 1 1172.8,310.2 L1186,310.2" stroke-width="1.1"/>
<path d="M1125.5,325 L1160,289 M1125.5,347 L1172,289.5 M1151,346 L1186,311 M1149.8,366.3 L1197.7,310.7" stroke-width="1.6"/>
<line x1="1162" y1="304" x2="1162" y2="365" stroke-width="0.8"/>
<line x1="1190" y1="300" x2="1190" y2="312" stroke-width="0.8"/>
<line x1="1144" y1="338" x2="1144" y2="400" stroke-width="0.8"/>
<rect x="1214.7" y="264.8" width="15.2" height="31.2" rx="1.5" fill="#fff" stroke-width="1.2"/>
<circle cx="1223.5" cy="272.1" r="2.3" stroke-width="1.4"/>
<path d="M1206,269 L1214.7,269 L1214.7,278 L1206,278 Z" stroke-width="1"/>
<path d="M1210,267 Q1206,273 1210,279" stroke-width="1.6"/>
<rect x="1242.6" y="269.2" width="8.3" height="7.3" stroke-width="1"/>
<rect x="1242.6" y="288.7" width="8.3" height="5.3" rx="1.5" stroke-width="1"/>
<path d="M1205,296 Q1205,300 1210,300 L1232,300 L1238,296" stroke-width="1"/>
<rect x="1110.5" y="350.2" width="16.1" height="11.8" fill="#fff" stroke-width="1.1"/>
<line x1="1118.5" y1="350.2" x2="1118.5" y2="362" stroke-width="0.8"/>
<line x1="1112.5" y1="362" x2="1112.5" y2="480.8" stroke-width="1.1"/>
<line x1="1124.9" y1="362" x2="1124.9" y2="480.8" stroke-width="1.1"/>
<line x1="1120" y1="362" x2="1120" y2="480.8" stroke-width="0.7"/>
<rect x="1109.5" y="480.8" width="18" height="14.2" fill="#fff" stroke-width="1.1"/>
<line x1="1112.5" y1="480.8" x2="1112.5" y2="495" stroke-width="0.8"/>
<line x1="1124.5" y1="480.8" x2="1124.5" y2="495" stroke-width="0.8"/>
<line x1="1106" y1="493" x2="1128" y2="493" stroke-width="1"/>
<line x1="1126.6" y1="395" x2="1145" y2="395" stroke-width="0.9"/>
<line x1="1126.6" y1="490" x2="1158" y2="490" stroke-width="0.9"/>
<rect x="1133" y="395" width="12" height="13" stroke-width="0.9"/>
<path d="M1146,407.3 L1134,407.3 Q1129.7,407.3 1129.7,412 L1129.7,461 Q1129.7,465.4 1134,465.4 L1146,465.4" stroke-width="1.2"/>
<path d="M1146,410.5 L1135.5,410.5 Q1133,410.5 1133,413 L1133,460 Q1133,462.5 1135.5,462.5 L1146,462.5" stroke-width="0.8"/>
<circle cx="1135.5" cy="412" r="2.2" fill="#222" stroke-width="0.5"/>
<circle cx="1135.5" cy="428" r="2.2" fill="#222" stroke-width="0.5"/>
<circle cx="1135.5" cy="445" r="2.2" fill="#222" stroke-width="0.5"/>
<circle cx="1135.5" cy="461" r="2.2" fill="#222" stroke-width="0.5"/>
<rect x="1206.8" y="513" width="20.7" height="23.6" fill="#fff" stroke-width="1.1"/>
<rect x="1225.7" y="516.4" width="48.7" height="11.9" rx="1.5" fill="#fff" stroke-width="1.1"/>
<line x1="1228" y1="522.3" x2="1268" y2="522.3" stroke-width="0.7"/>
<rect x="1268" y="515" width="6.4" height="14.5" stroke-width="0.9"/>
<line x1="1274.4" y1="522.6" x2="1317.6" y2="522.6" stroke-width="0.8"/>
<rect x="1206" y="536.6" width="23" height="3.4" fill="#fff" stroke-width="1"/>
<rect x="1194.9" y="544" width="46.3" height="7" rx="1.2" fill="#fff" stroke-width="1.2"/>
<rect x="1197" y="551" width="42" height="4" fill="#fff" stroke-width="1"/>
<rect x="1194.9" y="555" width="46.3" height="7" rx="1.2" fill="#fff" stroke-width="1.2"/>
<rect x="1186" y="553" width="11" height="4" rx="1.5" stroke-width="1"/>
<line x1="1199.5" y1="538" x2="1199.5" y2="569" stroke-width="0.8"/>
<circle cx="1199.5" cy="541" r="3" fill="#3a3a3a" stroke-width="1.2"/>
<circle cx="1199.5" cy="541" r="1.2" fill="#fff" stroke-width="0"/>
<circle cx="1199.5" cy="566" r="3" fill="#3a3a3a" stroke-width="1.2"/>
<circle cx="1199.5" cy="566" r="1.2" fill="#fff" stroke-width="0"/>
<line x1="1209.5" y1="538" x2="1209.5" y2="569" stroke-width="0.8"/>
<circle cx="1209.5" cy="541" r="3" fill="#3a3a3a" stroke-width="1.2"/>
<circle cx="1209.5" cy="541" r="1.2" fill="#fff" stroke-width="0"/>
<circle cx="1209.5" cy="566" r="3" fill="#3a3a3a" stroke-width="1.2"/>
<circle cx="1209.5" cy="566" r="1.2" fill="#fff" stroke-width="0"/>
<line x1="1225.5" y1="538" x2="1225.5" y2="569" stroke-width="0.8"/>
<circle cx="1225.5" cy="541" r="3" fill="#3a3a3a" stroke-width="1.2"/>
<circle cx="1225.5" cy="541" r="1.2" fill="#fff" stroke-width="0"/>
<circle cx="1225.5" cy="566" r="3" fill="#3a3a3a" stroke-width="1.2"/>
<circle cx="1225.5" cy="566" r="1.2" fill="#fff" stroke-width="0"/>
<line x1="1235.5" y1="538" x2="1235.5" y2="569" stroke-width="0.8"/>
<circle cx="1235.5" cy="541" r="3" fill="#3a3a3a" stroke-width="1.2"/>
<circle cx="1235.5" cy="541" r="1.2" fill="#fff" stroke-width="0"/>
<circle cx="1235.5" cy="566" r="3" fill="#3a3a3a" stroke-width="1.2"/>
<circle cx="1235.5" cy="566" r="1.2" fill="#fff" stroke-width="0"/>
<rect x="1205" y="562" width="25" height="7" stroke-width="1"/>
<rect x="1217.8" y="232.7" width="20.9" height="17.3" fill="#fff" stroke-width="0.9"/><text x="1228.25" y="246.19" class="lt" text-anchor="middle">T2</text>
<rect x="1238.7" y="232.7" width="19.8" height="17.3" fill="#fff" stroke-width="0.9"/><text x="1248.6" y="246.19" class="lt" text-anchor="middle">S1</text>
<rect x="1258.5" y="232.7" width="16.7" height="17.3" fill="#fff" stroke-width="0.9"/><text x="1266.85" y="246.19" class="lt" text-anchor="middle">V</text>
<rect x="1217.8" y="591.5" width="20.1" height="17.2" fill="#fff" stroke-width="0.9"/><text x="1227.85" y="604.92" class="lt" text-anchor="middle">T1</text>
<rect x="1237.9" y="591.5" width="20.6" height="17.2" fill="#fff" stroke-width="0.9"/><text x="1248.2" y="604.92" class="lt" text-anchor="middle">S2</text>
<rect x="1258.5" y="591.5" width="16.2" height="17.2" fill="#fff" stroke-width="0.9"/><text x="1266.6" y="604.92" class="lt" text-anchor="middle">D</text>
<rect x="1321" y="334.3" width="19" height="17.2" fill="#fff" stroke-width="0.9"/><text x="1330.5" y="347.72" class="lt" text-anchor="middle">G1</text>
<rect x="1321" y="351.5" width="21" height="17" fill="#fff" stroke-width="0.9"/><text x="1331.5" y="364.76" class="lt" text-anchor="middle">G2</text>
<rect x="1317.6" y="522.6" width="21.9" height="16.7" fill="#fff" stroke-width="0.9"/><text x="1328.55" y="535.63" class="lt" text-anchor="middle">G3</text>
</g>
<g id="view3d" fill="none" stroke-linejoin="round">
<defs>
<linearGradient id="gShell" gradientUnits="userSpaceOnUse" x1="1384" y1="1067" x2="1415" y2="1263">
<stop offset="0" stop-color="#8ea5ad"/><stop offset="0.06" stop-color="#a9c0c6"/><stop offset="0.17" stop-color="#c5dde1"/>
<stop offset="0.32" stop-color="#d3ecee"/><stop offset="0.46" stop-color="#d3ebed"/><stop offset="0.56" stop-color="#c5dbdc"/>
<stop offset="0.62" stop-color="#bed3d3"/><stop offset="0.85" stop-color="#b7cccb"/><stop offset="0.95" stop-color="#a7bcbc"/><stop offset="1" stop-color="#8ca3a5"/>
</linearGradient>
<linearGradient id="gChan" gradientUnits="userSpaceOnUse" x1="855" y1="1150" x2="885" y2="1345">
<stop offset="0" stop-color="#a3babd"/><stop offset="0.08" stop-color="#c3dadd"/><stop offset="0.3" stop-color="#d6eced"/>
<stop offset="0.55" stop-color="#cfe4e6"/><stop offset="0.85" stop-color="#bcd1d3"/><stop offset="1" stop-color="#9fb6b9"/>
</linearGradient>
<linearGradient id="gHeadR" gradientUnits="userSpaceOnUse" x1="1890" y1="965" x2="1925" y2="1205">
<stop offset="0" stop-color="#a6bdc0"/><stop offset="0.1" stop-color="#c6dcde"/><stop offset="0.35" stop-color="#d3e9eb"/>
<stop offset="0.65" stop-color="#c5dbdd"/><stop offset="1" stop-color="#a2b9bc"/>
</linearGradient>
<radialGradient id="gDome" gradientUnits="userSpaceOnUse" cx="752" cy="1240" r="110" fx="765" fy="1225">
<stop offset="0" stop-color="#dff1f3"/><stop offset="0.45" stop-color="#cde3e6"/><stop offset="0.8" stop-color="#b9cfd2"/><stop offset="1" stop-color="#a4bbbe"/>
</radialGradient>
<radialGradient id="gDomeR" gradientUnits="userSpaceOnUse" cx="1935" cy="1060" r="100" fx="1930" fy="1040">
<stop offset="0" stop-color="#d6ebed"/><stop offset="0.6" stop-color="#c6dcde"/><stop offset="1" stop-color="#a6bdc0"/>
</radialGradient>
<linearGradient id="gVpipe" x1="0" y1="0" x2="1" y2="0">
<stop offset="0" stop-color="#a9c0c3"/><stop offset="0.3" stop-color="#d9eced"/><stop offset="0.6" stop-color="#cfe3e5"/><stop offset="1" stop-color="#9fb6b9"/>
</linearGradient>
<linearGradient id="gTube" x1="0" y1="0" x2="0" y2="1">
<stop offset="0" stop-color="#c9dcde"/><stop offset="0.3" stop-color="#f0f9f9"/><stop offset="0.55" stop-color="#e2eff0"/><stop offset="0.85" stop-color="#b7cbcd"/><stop offset="1" stop-color="#9cb2b5"/>
</linearGradient>
</defs>
<path d="M1765.6,891.5 L1811.7,845.3 L1827.6,848 L1767,915 Z" fill="#bfd3d5" stroke-width="1" stroke="#2c393b"/>
<path d="M1768,928 L1838,881 L1952,884 L1952,890 L1846,894 L1793,960 L1768,962 Z" fill="#b9cdcf" stroke-width="1" stroke="#2c393b"/>
<path d="M1768,928 L1838,881 L1846,894 L1793,960 Z" fill="#aec3c6" stroke-width="1" stroke="#2c393b"/>
<path d="M1768,945 Q1805,905 1838,881" stroke-width="0.9" stroke="#2c393b"/>
<path d="M1759,1000 L1759,878 Q1759,836 1801,835 L1940,858" stroke-width="19.5" stroke="#2c393b" stroke-linecap="butt"/>
<path d="M1759,1000 L1759,878 Q1759,836 1801,835 L1940,858" stroke-width="17" stroke="#cde2e4" stroke-linecap="butt"/>
<path d="M1753.5,998 L1753.5,880 Q1753.5,831 1800,830" stroke-width="2.5" stroke="#eaf5f6"/>
<path d="M1806,831 L1935,852" stroke-width="2.2" stroke="#e6f2f3"/>
<line x1="1750" y1="890" x2="1768" y2="890" stroke-width="1" stroke="#2c393b"/>
<line x1="1750" y1="930" x2="1768" y2="930" stroke-width="1" stroke="#2c393b"/>
<line x1="1805" y1="827" x2="1803" y2="844" stroke-width="1" stroke="#2c393b"/>
<ellipse cx="1941" cy="858" rx="5" ry="8.6" transform="rotate(10 1941 858)" fill="#d8eaec" stroke="#2c393b" stroke-width="1"/>
<rect x="1886" y="820" width="19" height="22" rx="5" fill="#c6dadc" stroke-width="1" stroke="#2c393b"/>
<line x1="1893" y1="821" x2="1893" y2="841" stroke-width="0.8" stroke="#2c393b"/>
<line x1="1899" y1="821" x2="1899" y2="841" stroke-width="0.8" stroke="#2c393b"/>
<path d="M1866.5,829.5 L1883.6,830.8 L1883.6,899.4 L1866.5,896.7 Z" fill="#bdd1d3" stroke-width="1" stroke="#2c393b"/>
<path d="M1905.3,824.2 L1909.3,824.8 L1909.3,893 L1905.3,892 Z" fill="#aec3c6" stroke-width="0.9" stroke="#2c393b"/>
<path d="M1872,893 L1872,900 Q1872,905 1877,905 L1904,903 Q1909,902 1909,897" stroke-width="1.3" stroke="#2c393b"/>
<circle cx="1871.7" cy="840" r="2.6" fill="#f3f8f8" stroke-width="0.9" stroke="#2c393b"/>
<rect x="1921" y="838" width="10.7" height="15" fill="#cfe2e4" stroke-width="0.9" stroke="#2c393b"/>
<ellipse cx="1926.3" cy="838.5" rx="5.3" ry="2" fill="#e4f0f1" stroke="#2c393b" stroke-width="0.8"/>
<rect x="1887" y="874" width="8" height="8" fill="#d4e6e8" stroke-width="0.8" stroke="#2c393b"/>
<rect x="1887" y="883" width="8" height="8" fill="#d4e6e8" stroke-width="0.8" stroke="#2c393b"/>
<rect x="1922" y="868" width="8" height="8" fill="#d4e6e8" stroke-width="0.8" stroke="#2c393b"/>
<rect x="1932" y="868" width="8" height="8" fill="#d4e6e8" stroke-width="0.8" stroke="#2c393b"/>
<rect x="1927" y="877" width="8" height="8" fill="#d4e6e8" stroke-width="0.8" stroke="#2c393b"/>
<rect x="1883" y="899" width="8" height="64" fill="#cde2e4" stroke-width="1" stroke="#2c393b"/>
<ellipse cx="1887.5" cy="967" rx="11.5" ry="5" fill="#c4d9db" stroke="#2c393b" stroke-width="1"/>
<rect x="1931.7" y="894" width="6.6" height="46" fill="#c1d5d7" stroke-width="0.9" stroke="#2c393b"/>
<path d="M1929,972 L1967,902" stroke-width="14" stroke="#2c393b" stroke-linecap="butt"/>
<path d="M1929,972 L1967,902" stroke-width="11.5" stroke="#cde2e4" stroke-linecap="butt"/>
<rect x="1929" y="960" width="11" height="20" fill="#b9cdcf" stroke-width="0.9" stroke="#2c393b"/>
<g transform="translate(1969,895) rotate(30)"><rect x="-17" y="-9" width="4" height="5" fill="#d4e6e8" stroke-width="0.7" stroke="#2c393b"/><rect x="-17" y="4" width="4" height="5" fill="#d4e6e8" stroke-width="0.7" stroke="#2c393b"/><rect x="-7" y="-9" width="4" height="5" fill="#d4e6e8" stroke-width="0.7" stroke="#2c393b"/><rect x="-7" y="4" width="4" height="5" fill="#d4e6e8" stroke-width="0.7" stroke="#2c393b"/><rect x="3" y="-9" width="4" height="5" fill="#d4e6e8" stroke-width="0.7" stroke="#2c393b"/><rect x="3" y="4" width="4" height="5" fill="#d4e6e8" stroke-width="0.7" stroke="#2c393b"/><rect x="13" y="-9" width="4" height="5" fill="#d4e6e8" stroke-width="0.7" stroke="#2c393b"/><rect x="13" y="4" width="4" height="5" fill="#d4e6e8" stroke-width="0.7" stroke="#2c393b"/><rect x="-21" y="-4.5" width="42" height="9" rx="2" fill="#c4d9db" stroke-width="1" stroke="#2c393b"/><line x1="-21" y1="0" x2="21" y2="0" stroke-width="0.8" stroke="#2c393b"/></g>
<path d="M1740.5,977 L1750,975 L1750,992 L1740.5,994 Z" fill="#a3b8bb" stroke-width="1" stroke="#2c393b"/>
<path d="M1750,975 L1772,972 L1772,989 L1750,992 Z" fill="#b9cdcf" stroke-width="1" stroke="#2c393b"/>
<path d="M1850.91,1060.34 L1851.09,1050.35 L1851.7,1040.61 L1852.72,1031.21 L1854.14,1022.21 L1855.96,1013.69 L1858.16,1005.71 L1860.73,998.33 L1863.63,991.6 L1866.87,985.58 L1870.39,980.32 L1874.19,975.85 L1878.24,972.21 L1882.49,969.42 L1886.92,967.52 L1891.5,966.5 L1897.01,966.28 L1901.67,966.16 L1906.41,966.94 L1911.87,968.01 L1916.57,969.64 L1921.83,971.94 L1926.4,974.37 L1931.31,977.81 L1935.66,980.94 L1939.95,984.82 L1944.14,989.07 L1948.11,993.44 L1951.97,998.49 L1955.22,1003.16 L1958.67,1008.45 L1961.96,1014.28 L1965.06,1020.62 L1966.97,1024.76 L1969.61,1030.99 L1972.04,1037.59 L1974.23,1044.5 L1976.16,1051.68 L1977.82,1059.06 L1979.2,1066.6 L1980.29,1074.23 L1981.08,1081.9 L1981.56,1089.54 L1981.74,1097.11 L1981.6,1104.54 L1981.15,1111.78 L1980.39,1118.77 L1979.33,1125.45 L1978.52,1130.23 L1977.05,1137.13 L1975.27,1143.58 L1973.19,1149.56 L1971.21,1155.2 L1968.69,1161.02 L1965.89,1166.23 L1962.9,1171.71 L1959.68,1176.52 L1955.93,1181.24 L1952.32,1185.49 L1948.47,1188.95 L1943.97,1192.83 L1939.81,1195.56 L1934.82,1198.3 L1930.41,1200.2 L1925.08,1201.7 L1920.5,1202.72 L1915.81,1202.84 L1911.05,1202.06 L1906.25,1200.39 L1901.45,1197.83 L1896.68,1194.41 L1891.98,1190.16 L1887.39,1185.11 L1882.94,1179.28 L1878.67,1172.74 L1874.61,1165.53 L1870.78,1157.7 L1867.22,1149.32 L1863.96,1140.44 L1861.01,1131.14 L1858.41,1121.48 L1856.17,1111.55 L1854.32,1101.41 L1852.85,1091.14 L1851.79,1080.82 L1851.14,1070.53 Z" fill="url(#gDomeR)" stroke-width="1.1" stroke="#2c393b"/>
<path d="M1804.91,1067.66 L1805.01,1060.14 L1805.35,1052.75 L1805.92,1045.54 L1806.72,1038.52 L1807.75,1031.73 L1809,1025.2 L1810.48,1018.95 L1812.16,1013.02 L1814.05,1007.42 L1816.14,1002.19 L1818.41,997.34 L1820.87,992.9 L1823.49,988.88 L1826.26,985.3 L1829.18,982.18 L1832.24,979.52 L1835.41,977.35 L1838.68,975.67 L1842.05,974.49 L1845.5,973.81 L1891.5,966.5 L1895,966.32 L1898.56,966.66 L1902.15,967.49 L1905.75,968.83 L1909.35,970.67 L1912.94,972.99 L1916.5,975.79 L1920.02,979.06 L1923.47,982.78 L1926.85,986.93 L1930.14,991.5 L1933.33,996.48 L1936.4,1001.83 L1939.34,1007.53 L1942.14,1013.56 L1944.78,1019.9 L1947.26,1026.52 L1949.56,1033.38 L1951.67,1040.46 L1953.59,1047.74 L1955.3,1055.17 L1956.8,1062.72 L1958.09,1070.37 L1959.15,1078.08 L1959.99,1085.82 L1960.59,1093.56 L1960.96,1101.25 L1961.09,1108.88 L1960.99,1116.4 L1960.65,1123.78 L1960.08,1131 L1959.28,1138.01 L1958.25,1144.8 L1957,1151.34 L1955.52,1157.58 L1953.84,1163.51 L1951.95,1169.11 L1949.86,1174.34 L1947.59,1179.19 L1945.13,1183.64 L1942.51,1187.66 L1939.74,1191.23 L1936.82,1194.36 L1933.76,1197.01 L1930.59,1199.18 L1927.32,1200.86 L1923.95,1202.04 L1920.5,1202.72 L1874.5,1210.04 L1871,1210.21 L1867.44,1209.88 L1863.85,1209.04 L1860.25,1207.7 L1856.65,1205.87 L1853.06,1203.54 L1849.5,1200.74 L1845.98,1197.48 L1842.53,1193.76 L1839.15,1189.6 L1835.86,1185.03 L1832.67,1180.06 L1829.6,1174.71 L1826.66,1169 L1823.86,1162.97 L1821.22,1156.63 L1818.74,1150.02 L1816.44,1143.15 L1814.33,1136.07 L1812.41,1128.8 L1810.7,1121.37 L1809.2,1113.81 L1807.91,1106.16 L1806.85,1098.45 L1806.01,1090.71 L1805.41,1082.98 L1805.04,1075.28 Z" fill="url(#gHeadR)" stroke-width="1" stroke="#2c393b"/>
<path d="M1914.5,1203.68 L1917.95,1203 L1921.32,1201.81 L1924.59,1200.13 L1927.76,1197.96 L1930.82,1195.31 L1933.74,1192.19 L1936.51,1188.61 L1939.13,1184.59 L1941.59,1180.15 L1943.86,1175.3 L1945.95,1170.06 L1947.84,1164.47 L1949.52,1158.53 L1951,1152.29 L1952.25,1145.76 L1953.28,1138.97 L1954.08,1131.95 L1954.65,1124.73 L1954.99,1117.35 L1955.09,1109.83 L1954.96,1102.21 L1954.59,1094.51 L1953.99,1086.78 L1953.15,1079.04 L1952.09,1071.33 L1950.8,1063.68 L1949.3,1056.12 L1947.59,1048.69 L1945.67,1041.42 L1943.56,1034.33 L1941.26,1027.47 L1938.78,1020.86 L1936.14,1014.52 L1933.34,1008.48 L1930.4,1002.78 L1927.33,997.43 L1924.14,992.46 L1920.85,987.89 L1917.47,983.73 L1914.02,980.01 L1910.5,976.75 L1906.94,973.94 L1903.35,971.62 L1899.75,969.79 L1896.15,968.45 L1892.56,967.61 L1889,967.28 L1885.5,967.45" stroke-width="1.2" stroke="#2c393b"/>
<path d="M1920.5,1202.72 L1923.95,1202.04 L1927.32,1200.86 L1930.59,1199.18 L1933.76,1197.01 L1936.82,1194.36 L1939.74,1191.23 L1942.51,1187.66 L1945.13,1183.64 L1947.59,1179.19 L1949.86,1174.34 L1951.95,1169.11 L1953.84,1163.51 L1955.52,1157.58 L1957,1151.34 L1958.25,1144.8 L1959.28,1138.01 L1960.08,1131 L1960.65,1123.78 L1960.99,1116.4 L1961.09,1108.88 L1960.96,1101.25 L1960.59,1093.56 L1959.99,1085.82 L1959.15,1078.08 L1958.09,1070.37 L1956.8,1062.72 L1955.3,1055.17 L1953.59,1047.74 L1951.67,1040.46 L1949.56,1033.38 L1947.26,1026.52 L1944.78,1019.9 L1942.14,1013.56 L1939.34,1007.53 L1936.4,1001.83 L1933.33,996.48 L1930.14,991.5 L1926.85,986.93 L1923.47,982.78 L1920.02,979.06 L1916.5,975.79 L1912.94,972.99 L1909.35,970.67 L1905.75,968.83 L1902.15,967.49 L1898.56,966.66 L1895,966.32 L1891.5,966.5" stroke-width="1" stroke="#2c393b"/>
<path d="M1984,1054 L1997,1052 Q2001,1052 2001,1056 L2001,1112 Q2001,1116 1997,1116 L1984,1118" stroke-width="4" stroke="#2c393b"/>
<path d="M1984,1054 L1997,1052 Q2001,1052 2001,1056 L2001,1112 Q2001,1116 1997,1116 L1984,1118" stroke-width="2.4" stroke="#e3f0f1"/>
<circle cx="1898.98" cy="1216.13" r="4.6" fill="#dfeeef" stroke-width="0.8" stroke="#2c393b"/>
<circle cx="1908.6" cy="1204.83" r="4.6" fill="#dfeeef" stroke-width="0.8" stroke="#2c393b"/>
<circle cx="1916.58" cy="1189.16" r="4.6" fill="#dfeeef" stroke-width="0.8" stroke="#2c393b"/>
<circle cx="1922.61" cy="1169.71" r="4.6" fill="#dfeeef" stroke-width="0.8" stroke="#2c393b"/>
<circle cx="1926.48" cy="1147.24" r="4.6" fill="#dfeeef" stroke-width="0.8" stroke="#2c393b"/>
<circle cx="1928.01" cy="1122.6" r="4.6" fill="#dfeeef" stroke-width="0.8" stroke="#2c393b"/>
<circle cx="1927.17" cy="1096.75" r="4.6" fill="#dfeeef" stroke-width="0.8" stroke="#2c393b"/>
<circle cx="1923.97" cy="1070.68" r="4.6" fill="#dfeeef" stroke-width="0.8" stroke="#2c393b"/>
<circle cx="1918.55" cy="1045.38" r="4.6" fill="#dfeeef" stroke-width="0.8" stroke="#2c393b"/>
<circle cx="1911.1" cy="1021.84" r="4.6" fill="#dfeeef" stroke-width="0.8" stroke="#2c393b"/>
<circle cx="1901.93" cy="1000.96" r="4.6" fill="#dfeeef" stroke-width="0.8" stroke="#2c393b"/>
<circle cx="1891.37" cy="983.53" r="4.6" fill="#dfeeef" stroke-width="0.8" stroke="#2c393b"/>
<circle cx="1879.84" cy="970.23" r="4.6" fill="#dfeeef" stroke-width="0.8" stroke="#2c393b"/>
<circle cx="1867.77" cy="961.58" r="4.6" fill="#dfeeef" stroke-width="0.8" stroke="#2c393b"/>
<path d="M1777.41,1064.54 L1777.53,1055.31 L1777.94,1046.25 L1778.65,1037.4 L1779.63,1028.79 L1780.89,1020.46 L1782.43,1012.44 L1784.24,1004.78 L1786.31,997.5 L1788.63,990.64 L1791.19,984.22 L1793.98,978.27 L1796.99,972.82 L1800.2,967.88 L1803.61,963.49 L1807.19,959.66 L1810.94,956.41 L1814.83,953.74 L1818.85,951.68 L1822.98,950.23 L1827.21,949.4 L1840.21,947.33 L1844.51,947.12 L1848.87,947.52 L1853.27,948.55 L1857.69,950.2 L1862.11,952.45 L1866.52,955.3 L1870.88,958.73 L1875.2,962.74 L1879.43,967.3 L1883.58,972.4 L1887.62,978.01 L1891.53,984.11 L1895.3,990.68 L1898.9,997.67 L1902.34,1005.08 L1905.58,1012.85 L1908.62,1020.97 L1911.44,1029.39 L1914.03,1038.08 L1916.38,1047 L1918.49,1056.12 L1920.33,1065.39 L1921.91,1074.77 L1923.21,1084.24 L1924.23,1093.73 L1924.97,1103.22 L1925.43,1112.66 L1925.59,1122.01 L1925.47,1131.24 L1925.06,1140.3 L1924.35,1149.15 L1923.37,1157.76 L1922.11,1166.09 L1920.57,1174.11 L1918.76,1181.77 L1916.69,1189.05 L1914.37,1195.91 L1911.81,1202.33 L1909.02,1208.28 L1906.01,1213.74 L1902.8,1218.67 L1899.39,1223.06 L1895.81,1226.89 L1892.06,1230.14 L1888.17,1232.81 L1884.15,1234.87 L1880.02,1236.32 L1875.79,1237.15 L1862.79,1239.22 L1858.49,1239.43 L1854.13,1239.03 L1849.73,1238 L1845.31,1236.36 L1840.89,1234.1 L1836.48,1231.25 L1832.12,1227.82 L1827.8,1223.81 L1823.57,1219.25 L1819.42,1214.15 L1815.38,1208.54 L1811.47,1202.44 L1807.7,1195.88 L1804.1,1188.88 L1800.66,1181.48 L1797.42,1173.7 L1794.38,1165.58 L1791.56,1157.16 L1788.97,1148.47 L1786.62,1139.55 L1784.51,1130.43 L1782.67,1121.16 L1781.09,1111.78 L1779.79,1102.32 L1778.77,1092.82 L1778.03,1083.33 L1777.57,1073.89 Z" fill="#cfe2e4" stroke-width="1" stroke="#2c393b"/>
<path d="M1862.79,1239.22 L1867.02,1238.39 L1871.15,1236.94 L1875.17,1234.87 L1879.06,1232.21 L1882.81,1228.96 L1886.39,1225.13 L1889.8,1220.74 L1893.01,1215.8 L1896.02,1210.35 L1898.81,1204.4 L1901.37,1197.98 L1903.69,1191.12 L1905.76,1183.84 L1907.57,1176.17 L1909.11,1168.16 L1910.37,1159.83 L1911.35,1151.22 L1912.06,1142.37 L1912.47,1133.31 L1912.59,1124.08 L1912.43,1114.73 L1911.97,1105.29 L1911.23,1095.8 L1910.21,1086.3 L1908.91,1076.84 L1907.33,1067.46 L1905.49,1058.19 L1903.38,1049.07 L1901.03,1040.15 L1898.44,1031.46 L1895.62,1023.04 L1892.58,1014.92 L1889.34,1007.14 L1885.9,999.74 L1882.3,992.74 L1878.53,986.18 L1874.62,980.08 L1870.58,974.47 L1866.43,969.37 L1862.2,964.81 L1857.88,960.8 L1853.52,957.36 L1849.11,954.51 L1844.69,952.26 L1840.27,950.62 L1835.87,949.59 L1831.51,949.18 L1827.21,949.4" stroke-width="0.9" stroke="#2c393b"/>
<path d="M1753.41,1068.35 L1753.53,1059.13 L1753.94,1050.07 L1754.65,1041.21 L1755.63,1032.6 L1756.89,1024.27 L1758.43,1016.26 L1760.24,1008.6 L1762.31,1001.32 L1764.63,994.45 L1767.19,988.03 L1769.98,982.08 L1772.99,976.63 L1776.2,971.7 L1779.61,967.31 L1783.19,963.48 L1786.94,960.22 L1790.83,957.56 L1794.85,955.5 L1798.98,954.05 L1803.21,953.21 L1825.21,949.72 L1829.51,949.5 L1833.87,949.91 L1838.27,950.94 L1842.69,952.58 L1847.11,954.83 L1851.52,957.68 L1855.88,961.12 L1860.2,965.13 L1864.43,969.69 L1868.58,974.79 L1872.62,980.4 L1876.53,986.5 L1880.3,993.06 L1883.9,1000.06 L1887.34,1007.46 L1890.58,1015.24 L1893.62,1023.35 L1896.44,1031.77 L1899.03,1040.46 L1901.38,1049.39 L1903.49,1058.5 L1905.33,1067.77 L1906.91,1077.16 L1908.21,1086.62 L1909.23,1096.12 L1909.97,1105.6 L1910.43,1115.04 L1910.59,1124.4 L1910.47,1133.63 L1910.06,1142.68 L1909.35,1151.54 L1908.37,1160.15 L1907.11,1168.48 L1905.57,1176.49 L1903.76,1184.15 L1901.69,1191.43 L1899.37,1198.3 L1896.81,1204.72 L1894.02,1210.67 L1891.01,1216.12 L1887.8,1221.05 L1884.39,1225.44 L1880.81,1229.27 L1877.06,1232.53 L1873.17,1235.19 L1869.15,1237.25 L1865.02,1238.7 L1860.79,1239.54 L1838.79,1243.04 L1834.49,1243.25 L1830.13,1242.84 L1825.73,1241.81 L1821.31,1240.17 L1816.89,1237.92 L1812.48,1235.07 L1808.12,1231.63 L1803.8,1227.63 L1799.57,1223.06 L1795.42,1217.97 L1791.38,1212.35 L1787.47,1206.25 L1783.7,1199.69 L1780.1,1192.69 L1776.66,1185.29 L1773.42,1177.51 L1770.38,1169.4 L1767.56,1160.98 L1764.97,1152.29 L1762.62,1143.36 L1760.51,1134.25 L1758.67,1124.98 L1757.09,1115.59 L1755.79,1106.13 L1754.77,1096.64 L1754.03,1087.15 L1753.57,1077.71 Z" fill="#cfe2e4" stroke-width="1" stroke="#2c393b"/>
<path d="M1838.79,1243.04 L1843.02,1242.2 L1847.15,1240.75 L1851.17,1238.69 L1855.06,1236.03 L1858.81,1232.77 L1862.39,1228.94 L1865.8,1224.55 L1869.01,1219.62 L1872.02,1214.17 L1874.81,1208.22 L1877.37,1201.8 L1879.69,1194.93 L1881.76,1187.65 L1883.57,1179.99 L1885.11,1171.98 L1886.37,1163.65 L1887.35,1155.04 L1888.06,1146.18 L1888.47,1137.12 L1888.59,1127.9 L1888.43,1118.54 L1887.97,1109.1 L1887.23,1099.61 L1886.21,1090.12 L1884.91,1080.66 L1883.33,1071.27 L1881.49,1062 L1879.38,1052.89 L1877.03,1043.96 L1874.44,1035.27 L1871.62,1026.85 L1868.58,1018.74 L1865.34,1010.96 L1861.9,1003.56 L1858.3,996.56 L1854.53,990 L1850.62,983.9 L1846.58,978.28 L1842.43,973.19 L1838.2,968.62 L1833.88,964.62 L1829.52,961.18 L1825.11,958.33 L1820.69,956.08 L1816.27,954.44 L1811.87,953.41 L1807.51,953 L1803.21,953.21" stroke-width="0.9" stroke="#2c393b"/>
<path d="M1838.79,1243.04 L1843.02,1242.2 L1847.15,1240.75 L1851.17,1238.69 L1855.06,1236.03 L1858.81,1232.77 L1862.39,1228.94 L1865.8,1224.55 L1869.01,1219.62 L1872.02,1214.17 L1874.81,1208.22 L1877.37,1201.8 L1879.69,1194.93 L1881.76,1187.65 L1883.57,1179.99 L1885.11,1171.98 L1886.37,1163.65 L1887.35,1155.04 L1888.06,1146.18 L1888.47,1137.12 L1888.59,1127.9 L1888.43,1118.54 L1887.97,1109.1 L1887.23,1099.61 L1886.21,1090.12 L1884.91,1080.66 L1883.33,1071.27 L1881.49,1062 L1879.38,1052.89 L1877.03,1043.96 L1874.44,1035.27 L1871.62,1026.85 L1868.58,1018.74 L1865.34,1010.96 L1861.9,1003.56 L1858.3,996.56 L1854.53,990 L1850.62,983.9 L1846.58,978.28 L1842.43,973.19 L1838.2,968.62 L1833.88,964.62 L1829.52,961.18 L1825.11,958.33 L1820.69,956.08 L1816.27,954.44 L1811.87,953.41 L1807.51,953 L1803.21,953.21 L1798.98,954.05 L1794.85,955.5 L1790.83,957.56 L1786.94,960.22 L1783.19,963.48 L1779.61,967.31 L1776.2,971.7 L1772.99,976.63 L1769.98,982.08 L1767.19,988.03 L1764.63,994.45 L1762.31,1001.32 L1760.24,1008.6 L1758.43,1016.26 L1756.89,1024.27 L1755.63,1032.6 L1754.65,1041.21 L1753.94,1050.07 L1753.53,1059.13 L1753.41,1068.35 L1753.57,1077.71 L1754.03,1087.15 L1754.77,1096.64 L1755.79,1106.13 L1757.09,1115.59 L1758.67,1124.98 L1760.51,1134.25 L1762.62,1143.36 L1764.97,1152.29 L1767.56,1160.98 L1770.38,1169.4 L1773.42,1177.51 L1776.66,1185.29 L1780.1,1192.69 L1783.7,1199.69 L1787.47,1206.25 L1791.38,1212.35 L1795.42,1217.97 L1799.57,1223.06 L1803.8,1227.63 L1808.12,1231.63 L1812.48,1235.07 L1816.89,1237.92 L1821.31,1240.17 L1825.73,1241.81 L1830.13,1242.84 L1834.49,1243.25 L1838.79,1243.04 Z M1834.16,1205.32 L1837.29,1204.7 L1840.35,1203.63 L1843.32,1202.1 L1846.2,1200.13 L1848.97,1197.73 L1851.62,1194.89 L1854.14,1191.65 L1856.52,1188 L1858.74,1183.96 L1860.81,1179.56 L1862.7,1174.81 L1864.42,1169.74 L1865.95,1164.35 L1867.28,1158.68 L1868.42,1152.75 L1869.36,1146.59 L1870.08,1140.22 L1870.6,1133.67 L1870.91,1126.97 L1871,1120.15 L1870.88,1113.23 L1870.54,1106.24 L1870,1099.23 L1869.24,1092.2 L1868.27,1085.2 L1867.11,1078.26 L1865.74,1071.4 L1864.19,1064.66 L1862.45,1058.06 L1860.53,1051.63 L1858.44,1045.4 L1856.19,1039.4 L1853.8,1033.65 L1851.26,1028.17 L1848.59,1022.99 L1845.8,1018.14 L1842.91,1013.63 L1839.92,1009.48 L1836.86,1005.71 L1833.72,1002.33 L1830.53,999.37 L1827.3,996.82 L1824.04,994.72 L1820.77,993.05 L1817.5,991.83 L1814.25,991.07 L1811.02,990.77 L1807.84,990.93 L1804.71,991.55 L1801.65,992.62 L1798.68,994.15 L1795.8,996.12 L1793.03,998.52 L1790.38,1001.36 L1787.86,1004.6 L1785.48,1008.25 L1783.26,1012.29 L1781.19,1016.69 L1779.3,1021.44 L1777.58,1026.51 L1776.05,1031.9 L1774.72,1037.57 L1773.58,1043.5 L1772.64,1049.66 L1771.92,1056.03 L1771.4,1062.58 L1771.09,1069.28 L1771,1076.1 L1771.12,1083.02 L1771.46,1090.01 L1772,1097.02 L1772.76,1104.05 L1773.73,1111.05 L1774.89,1117.99 L1776.26,1124.85 L1777.81,1131.59 L1779.55,1138.19 L1781.47,1144.62 L1783.56,1150.85 L1785.81,1156.85 L1788.2,1162.6 L1790.74,1168.08 L1793.41,1173.26 L1796.2,1178.11 L1799.09,1182.62 L1802.08,1186.77 L1805.14,1190.54 L1808.28,1193.92 L1811.47,1196.88 L1814.7,1199.43 L1817.96,1201.53 L1821.23,1203.2 L1824.5,1204.42 L1827.75,1205.18 L1830.98,1205.48 L1834.16,1205.32 Z" fill="#a7bdc0" fill-rule="evenodd" stroke="#2c393b" stroke-width="1.0"/>
<path d="M1848.73,1228.79 L1845.83,1233.41 L1840.03,1233.41 L1837.13,1228.79 L1840.03,1224.17 L1845.83,1224.17 Z" fill="#b9cdd0" stroke-width="1.1" stroke="#1f2a2c"/><circle cx="1843.43" cy="1228.59" r="2.9" fill="#f2f9fa" stroke-width="0.8" stroke="#2a3537"/>
<path d="M1859.53,1222.35 L1856.63,1226.97 L1850.83,1226.97 L1847.93,1222.35 L1850.83,1217.73 L1856.63,1217.73 Z" fill="#b9cdd0" stroke-width="1.1" stroke="#1f2a2c"/><circle cx="1854.23" cy="1222.15" r="2.9" fill="#f2f9fa" stroke-width="0.8" stroke="#2a3537"/>
<path d="M1869.08,1211.14 L1866.18,1215.76 L1860.38,1215.76 L1857.48,1211.14 L1860.38,1206.52 L1866.18,1206.52 Z" fill="#b9cdd0" stroke-width="1.1" stroke="#1f2a2c"/><circle cx="1863.78" cy="1210.94" r="2.9" fill="#f2f9fa" stroke-width="0.8" stroke="#2a3537"/>
<path d="M1877,1195.58 L1874.1,1200.2 L1868.3,1200.2 L1865.4,1195.58 L1868.3,1190.96 L1874.1,1190.96 Z" fill="#b9cdd0" stroke-width="1.1" stroke="#1f2a2c"/><circle cx="1871.7" cy="1195.38" r="2.9" fill="#f2f9fa" stroke-width="0.8" stroke="#2a3537"/>
<path d="M1882.99,1176.28 L1880.09,1180.9 L1874.29,1180.9 L1871.39,1176.28 L1874.29,1171.66 L1880.09,1171.66 Z" fill="#b9cdd0" stroke-width="1.1" stroke="#1f2a2c"/><circle cx="1877.69" cy="1176.08" r="2.9" fill="#f2f9fa" stroke-width="0.8" stroke="#2a3537"/>
<path d="M1886.82,1153.97 L1883.92,1158.59 L1878.12,1158.59 L1875.22,1153.97 L1878.12,1149.35 L1883.92,1149.35 Z" fill="#b9cdd0" stroke-width="1.1" stroke="#1f2a2c"/><circle cx="1881.52" cy="1153.77" r="2.9" fill="#f2f9fa" stroke-width="0.8" stroke="#2a3537"/>
<path d="M1888.35,1129.52 L1885.45,1134.14 L1879.65,1134.14 L1876.75,1129.52 L1879.65,1124.9 L1885.45,1124.9 Z" fill="#b9cdd0" stroke-width="1.1" stroke="#1f2a2c"/><circle cx="1883.05" cy="1129.32" r="2.9" fill="#f2f9fa" stroke-width="0.8" stroke="#2a3537"/>
<path d="M1887.51,1103.86 L1884.61,1108.48 L1878.81,1108.48 L1875.91,1103.86 L1878.81,1099.24 L1884.61,1099.24 Z" fill="#b9cdd0" stroke-width="1.1" stroke="#1f2a2c"/><circle cx="1882.21" cy="1103.66" r="2.9" fill="#f2f9fa" stroke-width="0.8" stroke="#2a3537"/>
<path d="M1884.34,1077.98 L1881.44,1082.61 L1875.64,1082.61 L1872.74,1077.98 L1875.64,1073.36 L1881.44,1073.36 Z" fill="#b9cdd0" stroke-width="1.1" stroke="#1f2a2c"/><circle cx="1879.04" cy="1077.78" r="2.9" fill="#f2f9fa" stroke-width="0.8" stroke="#2a3537"/>
<path d="M1878.96,1052.88 L1876.06,1057.5 L1870.26,1057.5 L1867.36,1052.88 L1870.26,1048.26 L1876.06,1048.26 Z" fill="#b9cdd0" stroke-width="1.1" stroke="#1f2a2c"/><circle cx="1873.66" cy="1052.68" r="2.9" fill="#f2f9fa" stroke-width="0.8" stroke="#2a3537"/>
<path d="M1871.57,1029.51 L1868.67,1034.13 L1862.87,1034.13 L1859.97,1029.51 L1862.87,1024.89 L1868.67,1024.89 Z" fill="#b9cdd0" stroke-width="1.1" stroke="#1f2a2c"/><circle cx="1866.27" cy="1029.31" r="2.9" fill="#f2f9fa" stroke-width="0.8" stroke="#2a3537"/>
<path d="M1862.46,1008.78 L1859.56,1013.4 L1853.76,1013.4 L1850.86,1008.78 L1853.76,1004.16 L1859.56,1004.16 Z" fill="#b9cdd0" stroke-width="1.1" stroke="#1f2a2c"/><circle cx="1857.16" cy="1008.58" r="2.9" fill="#f2f9fa" stroke-width="0.8" stroke="#2a3537"/>
<path d="M1851.98,991.49 L1849.08,996.11 L1843.28,996.11 L1840.38,991.49 L1843.28,986.87 L1849.08,986.87 Z" fill="#b9cdd0" stroke-width="1.1" stroke="#1f2a2c"/><circle cx="1846.68" cy="991.29" r="2.9" fill="#f2f9fa" stroke-width="0.8" stroke="#2a3537"/>
<path d="M1840.53,978.29 L1837.63,982.91 L1831.83,982.91 L1828.93,978.29 L1831.83,973.67 L1837.63,973.67 Z" fill="#b9cdd0" stroke-width="1.1" stroke="#1f2a2c"/><circle cx="1835.23" cy="978.09" r="2.9" fill="#f2f9fa" stroke-width="0.8" stroke="#2a3537"/>
<path d="M1828.56,969.7 L1825.66,974.32 L1819.86,974.32 L1816.96,969.7 L1819.86,965.08 L1825.66,965.08 Z" fill="#b9cdd0" stroke-width="1.1" stroke="#1f2a2c"/><circle cx="1823.26" cy="969.5" r="2.9" fill="#f2f9fa" stroke-width="0.8" stroke="#2a3537"/>
<path d="M1816.52,966.04 L1813.62,970.66 L1807.82,970.66 L1804.92,966.04 L1807.82,961.42 L1813.62,961.42 Z" fill="#b9cdd0" stroke-width="1.1" stroke="#1f2a2c"/><circle cx="1811.22" cy="965.84" r="2.9" fill="#f2f9fa" stroke-width="0.8" stroke="#2a3537"/>
<path d="M1804.87,967.46 L1801.97,972.08 L1796.17,972.08 L1793.27,967.46 L1796.17,962.84 L1801.97,962.84 Z" fill="#b9cdd0" stroke-width="1.1" stroke="#1f2a2c"/><circle cx="1799.57" cy="967.26" r="2.9" fill="#f2f9fa" stroke-width="0.8" stroke="#2a3537"/>
<path d="M1794.07,973.9 L1791.17,978.52 L1785.37,978.52 L1782.47,973.9 L1785.37,969.28 L1791.17,969.28 Z" fill="#b9cdd0" stroke-width="1.1" stroke="#1f2a2c"/><circle cx="1788.77" cy="973.7" r="2.9" fill="#f2f9fa" stroke-width="0.8" stroke="#2a3537"/>
<path d="M1784.52,985.11 L1781.62,989.73 L1775.82,989.73 L1772.92,985.11 L1775.82,980.49 L1781.62,980.49 Z" fill="#b9cdd0" stroke-width="1.1" stroke="#1f2a2c"/><circle cx="1779.22" cy="984.91" r="2.9" fill="#f2f9fa" stroke-width="0.8" stroke="#2a3537"/>
<path d="M1776.6,1000.67 L1773.7,1005.29 L1767.9,1005.29 L1765,1000.67 L1767.9,996.05 L1773.7,996.05 Z" fill="#b9cdd0" stroke-width="1.1" stroke="#1f2a2c"/><circle cx="1771.3" cy="1000.47" r="2.9" fill="#f2f9fa" stroke-width="0.8" stroke="#2a3537"/>
<path d="M1770.61,1019.97 L1767.71,1024.59 L1761.91,1024.59 L1759.01,1019.97 L1761.91,1015.35 L1767.71,1015.35 Z" fill="#b9cdd0" stroke-width="1.1" stroke="#1f2a2c"/><circle cx="1765.31" cy="1019.77" r="2.9" fill="#f2f9fa" stroke-width="0.8" stroke="#2a3537"/>
<path d="M1766.78,1042.28 L1763.88,1046.9 L1758.08,1046.9 L1755.18,1042.28 L1758.08,1037.66 L1763.88,1037.66 Z" fill="#b9cdd0" stroke-width="1.1" stroke="#1f2a2c"/><circle cx="1761.48" cy="1042.08" r="2.9" fill="#f2f9fa" stroke-width="0.8" stroke="#2a3537"/>
<path d="M1765.25,1066.73 L1762.35,1071.35 L1756.55,1071.35 L1753.65,1066.73 L1756.55,1062.11 L1762.35,1062.11 Z" fill="#b9cdd0" stroke-width="1.1" stroke="#1f2a2c"/><circle cx="1759.95" cy="1066.53" r="2.9" fill="#f2f9fa" stroke-width="0.8" stroke="#2a3537"/>
<path d="M1766.09,1092.39 L1763.19,1097.01 L1757.39,1097.01 L1754.49,1092.39 L1757.39,1087.77 L1763.19,1087.77 Z" fill="#b9cdd0" stroke-width="1.1" stroke="#1f2a2c"/><circle cx="1760.79" cy="1092.19" r="2.9" fill="#f2f9fa" stroke-width="0.8" stroke="#2a3537"/>
<path d="M1769.26,1118.27 L1766.36,1122.89 L1760.56,1122.89 L1757.66,1118.27 L1760.56,1113.64 L1766.36,1113.64 Z" fill="#b9cdd0" stroke-width="1.1" stroke="#1f2a2c"/><circle cx="1763.96" cy="1118.07" r="2.9" fill="#f2f9fa" stroke-width="0.8" stroke="#2a3537"/>
<path d="M1774.64,1143.37 L1771.74,1147.99 L1765.94,1147.99 L1763.04,1143.37 L1765.94,1138.75 L1771.74,1138.75 Z" fill="#b9cdd0" stroke-width="1.1" stroke="#1f2a2c"/><circle cx="1769.34" cy="1143.17" r="2.9" fill="#f2f9fa" stroke-width="0.8" stroke="#2a3537"/>
<path d="M1782.03,1166.74 L1779.13,1171.36 L1773.33,1171.36 L1770.43,1166.74 L1773.33,1162.12 L1779.13,1162.12 Z" fill="#b9cdd0" stroke-width="1.1" stroke="#1f2a2c"/><circle cx="1776.73" cy="1166.54" r="2.9" fill="#f2f9fa" stroke-width="0.8" stroke="#2a3537"/>
<path d="M1791.14,1187.47 L1788.24,1192.09 L1782.44,1192.09 L1779.54,1187.47 L1782.44,1182.85 L1788.24,1182.85 Z" fill="#b9cdd0" stroke-width="1.1" stroke="#1f2a2c"/><circle cx="1785.84" cy="1187.27" r="2.9" fill="#f2f9fa" stroke-width="0.8" stroke="#2a3537"/>
<path d="M1801.62,1204.76 L1798.72,1209.38 L1792.92,1209.38 L1790.02,1204.76 L1792.92,1200.14 L1798.72,1200.14 Z" fill="#b9cdd0" stroke-width="1.1" stroke="#1f2a2c"/><circle cx="1796.32" cy="1204.56" r="2.9" fill="#f2f9fa" stroke-width="0.8" stroke="#2a3537"/>
<path d="M1813.07,1217.96 L1810.17,1222.58 L1804.37,1222.58 L1801.47,1217.96 L1804.37,1213.34 L1810.17,1213.34 Z" fill="#b9cdd0" stroke-width="1.1" stroke="#1f2a2c"/><circle cx="1807.77" cy="1217.76" r="2.9" fill="#f2f9fa" stroke-width="0.8" stroke="#2a3537"/>
<path d="M1825.04,1226.55 L1822.14,1231.17 L1816.34,1231.17 L1813.44,1226.55 L1816.34,1221.93 L1822.14,1221.93 Z" fill="#b9cdd0" stroke-width="1.1" stroke="#1f2a2c"/><circle cx="1819.74" cy="1226.35" r="2.9" fill="#f2f9fa" stroke-width="0.8" stroke="#2a3537"/>
<path d="M1837.08,1230.21 L1834.18,1234.83 L1828.38,1234.83 L1825.48,1230.21 L1828.38,1225.59 L1834.18,1225.59 Z" fill="#b9cdd0" stroke-width="1.1" stroke="#1f2a2c"/><circle cx="1831.78" cy="1230.01" r="2.9" fill="#f2f9fa" stroke-width="0.8" stroke="#2a3537"/>
<path d="M1758.93,1078.58 L1759.02,1071.88 L1759.32,1065.3 L1759.82,1058.87 L1760.54,1052.62 L1761.46,1046.57 L1762.58,1040.76 L1763.89,1035.19 L1765.39,1029.91 L1767.07,1024.92 L1768.93,1020.26 L1770.96,1015.94 L1773.14,1011.98 L1775.47,1008.4 L1777.95,1005.22 L1780.55,1002.43 L1783.27,1000.07 L1786.09,998.14 L1789.01,996.64 L1792.01,995.59 L1795.08,994.98 L1808.08,992.92 L1811.21,992.76 L1814.37,993.06 L1817.57,993.8 L1820.78,995 L1823.99,996.63 L1827.18,998.7 L1830.35,1001.19 L1833.48,1004.1 L1836.56,1007.42 L1839.57,1011.12 L1842.5,1015.19 L1845.34,1019.62 L1848.08,1024.38 L1850.7,1029.47 L1853.19,1034.84 L1855.54,1040.49 L1857.75,1046.38 L1859.8,1052.49 L1861.68,1058.8 L1863.39,1065.28 L1864.91,1071.9 L1866.25,1078.63 L1867.4,1085.44 L1868.34,1092.31 L1869.09,1099.21 L1869.63,1106.09 L1869.95,1112.95 L1870.07,1119.74 L1869.98,1126.44 L1869.68,1133.02 L1869.18,1139.44 L1868.46,1145.7 L1867.54,1151.74 L1866.42,1157.56 L1865.11,1163.12 L1863.61,1168.41 L1861.93,1173.39 L1860.07,1178.05 L1858.04,1182.37 L1855.86,1186.33 L1853.53,1189.91 L1851.05,1193.1 L1848.45,1195.88 L1845.73,1198.25 L1842.91,1200.18 L1839.99,1201.68 L1836.99,1202.73 L1833.92,1203.33 L1820.92,1205.4 L1817.79,1205.56 L1814.63,1205.26 L1811.43,1204.51 L1808.22,1203.32 L1805.01,1201.69 L1801.82,1199.62 L1798.65,1197.12 L1795.52,1194.21 L1792.44,1190.9 L1789.43,1187.2 L1786.5,1183.13 L1783.66,1178.7 L1780.92,1173.93 L1778.3,1168.85 L1775.81,1163.48 L1773.46,1157.83 L1771.25,1151.94 L1769.2,1145.82 L1767.32,1139.52 L1765.61,1133.04 L1764.09,1126.42 L1762.75,1119.69 L1761.6,1112.87 L1760.66,1106.01 L1759.91,1099.11 L1759.37,1092.22 L1759.05,1085.37 Z" fill="#d3e7e9" stroke-width="1" stroke="#2c393b"/>
<path d="M1820.92,1205.4 L1823.99,1204.8 L1826.99,1203.74 L1829.91,1202.25 L1832.73,1200.31 L1835.45,1197.95 L1838.05,1195.17 L1840.53,1191.98 L1842.86,1188.4 L1845.04,1184.44 L1847.07,1180.12 L1848.93,1175.46 L1850.61,1170.48 L1852.11,1165.19 L1853.42,1159.63 L1854.54,1153.81 L1855.46,1147.76 L1856.18,1141.51 L1856.68,1135.08 L1856.98,1128.51 L1857.07,1121.81 L1856.95,1115.02 L1856.63,1108.16 L1856.09,1101.27 L1855.34,1094.38 L1854.4,1087.51 L1853.25,1080.7 L1851.91,1073.97 L1850.39,1067.35 L1848.68,1060.87 L1846.8,1054.56 L1844.75,1048.45 L1842.54,1042.55 L1840.19,1036.91 L1837.7,1031.53 L1835.08,1026.45 L1832.34,1021.69 L1829.5,1017.26 L1826.57,1013.18 L1823.56,1009.48 L1820.48,1006.17 L1817.35,1003.26 L1814.18,1000.77 L1810.99,998.7 L1807.78,997.06 L1804.57,995.87 L1801.37,995.12 L1798.21,994.83 L1795.08,994.98" stroke-width="1" stroke="#2c393b"/>
<path d="M1883.4,1200 L1883.4,1280 A7.6,2.58 0 0 0 1898.6,1280 L1898.6,1200 A7.6,2.58 0 0 0 1883.4,1200 Z" fill="url(#gVpipe)" stroke-width="1" stroke="#2c393b"/>
<path d="M1868,1284 L1868,1296 A21,7.14 0 0 0 1910,1296 L1910,1284 A21,7.14 0 0 0 1868,1284 Z" fill="#c4d9db" stroke-width="1" stroke="#2c393b"/><ellipse cx="1889" cy="1284" rx="21" ry="7.14" fill="#d2e6e8" stroke="#2c393b" stroke-width="1"/>
<path d="M1906.72,1285.39 L1905.22,1287.78 L1902.22,1287.78 L1900.72,1285.39 L1902.22,1283 L1905.22,1283 Z" fill="#b9cdd0" stroke-width="1.1" stroke="#1f2a2c"/><circle cx="1904.22" cy="1285.19" r="1.5" fill="#f2f9fa" stroke-width="0.8" stroke="#2a3537"/>
<path d="M1906.52,1300.89 L1905.12,1303.12 L1902.32,1303.12 L1900.92,1300.89 L1902.32,1298.66 L1905.12,1298.66 Z" fill="#b9cdd0" stroke-width="1.1" stroke="#1f2a2c"/><circle cx="1904.22" cy="1300.69" r="1.4" fill="#f2f9fa" stroke-width="0.8" stroke="#2a3537"/>
<path d="M1892,1288.28 L1890.5,1290.67 L1887.5,1290.67 L1886,1288.28 L1887.5,1285.89 L1890.5,1285.89 Z" fill="#b9cdd0" stroke-width="1.1" stroke="#1f2a2c"/><circle cx="1889.5" cy="1288.08" r="1.5" fill="#f2f9fa" stroke-width="0.8" stroke="#2a3537"/>
<path d="M1891.8,1303.78 L1890.4,1306.01 L1887.6,1306.01 L1886.2,1303.78 L1887.6,1301.55 L1890.4,1301.55 Z" fill="#b9cdd0" stroke-width="1.1" stroke="#1f2a2c"/><circle cx="1889.5" cy="1303.58" r="1.4" fill="#f2f9fa" stroke-width="0.8" stroke="#2a3537"/>
<path d="M1877.28,1285.39 L1875.78,1287.78 L1872.78,1287.78 L1871.28,1285.39 L1872.78,1283 L1875.78,1283 Z" fill="#b9cdd0" stroke-width="1.1" stroke="#1f2a2c"/><circle cx="1874.78" cy="1285.19" r="1.5" fill="#f2f9fa" stroke-width="0.8" stroke="#2a3537"/>
<path d="M1877.08,1300.89 L1875.68,1303.12 L1872.88,1303.12 L1871.48,1300.89 L1872.88,1298.66 L1875.68,1298.66 Z" fill="#b9cdd0" stroke-width="1.1" stroke="#1f2a2c"/><circle cx="1874.78" cy="1300.69" r="1.4" fill="#f2f9fa" stroke-width="0.8" stroke="#2a3537"/>
<path d="M1877.28,1279.61 L1875.78,1282 L1872.78,1282 L1871.28,1279.61 L1872.78,1277.22 L1875.78,1277.22 Z" fill="#b9cdd0" stroke-width="1.1" stroke="#1f2a2c"/><circle cx="1874.78" cy="1279.41" r="1.5" fill="#f2f9fa" stroke-width="0.8" stroke="#2a3537"/>
<path d="M1892,1276.72 L1890.5,1279.11 L1887.5,1279.11 L1886,1276.72 L1887.5,1274.33 L1890.5,1274.33 Z" fill="#b9cdd0" stroke-width="1.1" stroke="#1f2a2c"/><circle cx="1889.5" cy="1276.52" r="1.5" fill="#f2f9fa" stroke-width="0.8" stroke="#2a3537"/>
<path d="M1906.72,1279.61 L1905.22,1282 L1902.22,1282 L1900.72,1279.61 L1902.22,1277.22 L1905.22,1277.22 Z" fill="#b9cdd0" stroke-width="1.1" stroke="#1f2a2c"/><circle cx="1904.22" cy="1279.41" r="1.5" fill="#f2f9fa" stroke-width="0.8" stroke="#2a3537"/>
<path d="M1700.7,1215 L1700.7,1272 A12.3,4.18 0 0 0 1725.3,1272 L1725.3,1215 A12.3,4.18 0 0 0 1700.7,1215 Z" fill="url(#gVpipe)" stroke-width="1" stroke="#2c393b"/>
<path d="M1700.7,1270 L1704.7,1284 L1721,1284 L1725.3,1270 Z" fill="#c9dddf" stroke-width="1" stroke="#2c393b"/>
<g transform="translate(1716,1251) rotate(25.28)"><rect x="0" y="-6.8" width="41.91" height="13.6" fill="#c3d8da" stroke-width="1" stroke="#2c393b"/><line x1="0" y1="-2.38" x2="41.91" y2="-2.38" stroke-width="0" stroke="none"/></g><ellipse cx="1753.9" cy="1268.9" rx="5.1" ry="6.8" transform="rotate(25.28 1753.9 1268.9)" fill="#dcecee" stroke="#2c393b" stroke-width="1"/><ellipse cx="1754.4" cy="1268.9" rx="3.06" ry="4.08" transform="rotate(25.28 1753.9 1268.9)" fill="#eef7f8" stroke="#2c393b" stroke-width="0.8"/>
<path d="M1684.1,1306 L1684.1,1318 A29.4,10 0 0 0 1742.9,1318 L1742.9,1306 A29.4,10 0 0 0 1684.1,1306 Z" fill="#c4d9db" stroke-width="1" stroke="#2c393b"/><ellipse cx="1713.5" cy="1306" rx="29.4" ry="10" fill="#d2e6e8" stroke="#2c393b" stroke-width="1"/>
<path d="M1684.1,1287 L1684.1,1300 A29.4,10 0 0 0 1742.9,1300 L1742.9,1287 A29.4,10 0 0 0 1684.1,1287 Z" fill="#c4d9db" stroke-width="1" stroke="#2c393b"/><ellipse cx="1713.5" cy="1287" rx="29.4" ry="10" fill="#c8dcde" stroke="#2c393b" stroke-width="1"/>
<ellipse cx="1713.5" cy="1287" rx="12" ry="4" fill="#e6f2f3" stroke="#2c393b" stroke-width="0.8"/>
<path d="M1737.58,1289.08 L1735.93,1291.71 L1732.63,1291.71 L1730.98,1289.08 L1732.63,1286.45 L1735.93,1286.45 Z" fill="#b9cdd0" stroke-width="1.1" stroke="#1f2a2c"/><circle cx="1734.78" cy="1288.88" r="1.65" fill="#f2f9fa" stroke-width="0.8" stroke="#2a3537"/>
<path d="M1737.28,1324.08 L1735.78,1326.47 L1732.78,1326.47 L1731.28,1324.08 L1732.78,1321.69 L1735.78,1321.69 Z" fill="#b9cdd0" stroke-width="1.1" stroke="#1f2a2c"/><circle cx="1734.78" cy="1323.88" r="1.5" fill="#f2f9fa" stroke-width="0.8" stroke="#2a3537"/>
<path d="M1716.8,1293.16 L1715.15,1295.79 L1711.85,1295.79 L1710.2,1293.16 L1711.85,1290.53 L1715.15,1290.53 Z" fill="#b9cdd0" stroke-width="1.1" stroke="#1f2a2c"/><circle cx="1714" cy="1292.96" r="1.65" fill="#f2f9fa" stroke-width="0.8" stroke="#2a3537"/>
<path d="M1716.5,1328.16 L1715,1330.55 L1712,1330.55 L1710.5,1328.16 L1712,1325.77 L1715,1325.77 Z" fill="#b9cdd0" stroke-width="1.1" stroke="#1f2a2c"/><circle cx="1714" cy="1327.96" r="1.5" fill="#f2f9fa" stroke-width="0.8" stroke="#2a3537"/>
<path d="M1696.02,1289.08 L1694.37,1291.71 L1691.07,1291.71 L1689.42,1289.08 L1691.07,1286.45 L1694.37,1286.45 Z" fill="#b9cdd0" stroke-width="1.1" stroke="#1f2a2c"/><circle cx="1693.22" cy="1288.88" r="1.65" fill="#f2f9fa" stroke-width="0.8" stroke="#2a3537"/>
<path d="M1695.72,1324.08 L1694.22,1326.47 L1691.22,1326.47 L1689.72,1324.08 L1691.22,1321.69 L1694.22,1321.69 Z" fill="#b9cdd0" stroke-width="1.1" stroke="#1f2a2c"/><circle cx="1693.22" cy="1323.88" r="1.5" fill="#f2f9fa" stroke-width="0.8" stroke="#2a3537"/>
<path d="M1696.02,1280.92 L1694.37,1283.55 L1691.07,1283.55 L1689.42,1280.92 L1691.07,1278.29 L1694.37,1278.29 Z" fill="#b9cdd0" stroke-width="1.1" stroke="#1f2a2c"/><circle cx="1693.22" cy="1280.72" r="1.65" fill="#f2f9fa" stroke-width="0.8" stroke="#2a3537"/>
<path d="M1716.8,1276.84 L1715.15,1279.47 L1711.85,1279.47 L1710.2,1276.84 L1711.85,1274.21 L1715.15,1274.21 Z" fill="#b9cdd0" stroke-width="1.1" stroke="#1f2a2c"/><circle cx="1714" cy="1276.64" r="1.65" fill="#f2f9fa" stroke-width="0.8" stroke="#2a3537"/>
<path d="M1737.58,1280.92 L1735.93,1283.55 L1732.63,1283.55 L1730.98,1280.92 L1732.63,1278.29 L1735.93,1278.29 Z" fill="#b9cdd0" stroke-width="1.1" stroke="#1f2a2c"/><circle cx="1734.78" cy="1280.72" r="1.65" fill="#f2f9fa" stroke-width="0.8" stroke="#2a3537"/>
<path d="M930.12,1212.33 L930.18,1206.08 L930.44,1199.94 L930.89,1193.94 L931.52,1188.11 L932.35,1182.46 L933.35,1177.03 L934.54,1171.84 L935.9,1166.91 L937.42,1162.26 L939.11,1157.91 L940.95,1153.89 L942.93,1150.2 L945.06,1146.86 L947.31,1143.89 L949.68,1141.3 L952.16,1139.1 L954.73,1137.3 L957.39,1135.91 L960.13,1134.93 L962.93,1134.38 L1795.93,1001.93 L1798.85,1001.79 L1801.81,1002.06 L1804.79,1002.76 L1807.79,1003.87 L1810.79,1005.4 L1813.77,1007.33 L1816.74,1009.66 L1819.66,1012.38 L1822.53,1015.47 L1825.35,1018.93 L1828.08,1022.73 L1830.74,1026.87 L1833.29,1031.32 L1835.74,1036.07 L1838.06,1041.09 L1840.26,1046.36 L1842.32,1051.86 L1844.23,1057.57 L1845.99,1063.47 L1847.59,1069.52 L1849.01,1075.7 L1850.26,1081.98 L1851.33,1088.35 L1852.22,1094.76 L1852.91,1101.2 L1853.41,1107.63 L1853.72,1114.04 L1853.83,1120.38 L1853.75,1126.64 L1853.47,1132.78 L1852.99,1138.78 L1852.33,1144.62 L1851.47,1150.27 L1850.43,1155.7 L1849.2,1160.9 L1847.8,1165.83 L1846.23,1170.49 L1844.49,1174.84 L1842.6,1178.88 L1840.56,1182.57 L1838.38,1185.92 L1836.07,1188.9 L1833.64,1191.49 L1831.1,1193.7 L1828.46,1195.51 L1825.73,1196.9 L1822.93,1197.89 L1820.07,1198.45 L987.07,1330.9 L984.21,1331.04 L981.32,1330.75 L978.4,1330.05 L975.46,1328.93 L972.53,1327.39 L969.6,1325.45 L966.7,1323.12 L963.83,1320.39 L961.01,1317.29 L958.25,1313.83 L955.56,1310.02 L952.96,1305.87 L950.45,1301.42 L948.04,1296.67 L945.75,1291.64 L943.59,1286.37 L941.56,1280.86 L939.67,1275.15 L937.94,1269.25 L936.36,1263.2 L934.95,1257.02 L933.71,1250.73 L932.65,1244.36 L931.76,1237.95 L931.07,1231.51 L930.56,1225.08 L930.24,1218.68 Z" fill="url(#gShell)" stroke-width="1.1" stroke="#2c393b"/>
<path d="M1206.44,1297.45 L1208.93,1297 L1211.36,1296.13 L1213.74,1294.84 L1216.04,1293.15 L1218.26,1291.06 L1220.39,1288.57 L1222.42,1285.7 L1224.34,1282.47 L1226.14,1278.87 L1227.82,1274.94 L1229.37,1270.68 L1230.77,1266.12 L1232.04,1261.27 L1233.15,1256.16 L1234.11,1250.8 L1234.91,1245.23 L1235.55,1239.46 L1236.02,1233.51 L1236.32,1227.42 L1236.46,1221.21 L1236.43,1214.91 L1236.23,1208.54 L1235.86,1202.13 L1235.32,1195.71 L1234.62,1189.31 L1233.76,1182.94 L1232.74,1176.65 L1231.57,1170.46 L1230.25,1164.39 L1228.79,1158.47 L1227.2,1152.73 L1225.47,1147.18 L1223.62,1141.86 L1221.66,1136.79 L1219.59,1131.98 L1217.42,1127.46 L1215.17,1123.25 L1212.84,1119.37 L1210.44,1115.83 L1207.99,1112.64 L1205.48,1109.83 L1202.94,1107.4 L1200.38,1105.37 L1197.8,1103.74 L1195.22,1102.52 L1192.64,1101.71 L1190.09,1101.32 L1187.56,1101.35" stroke-width="1.3" stroke="#2c393b"/>
<path d="M1209.48,1296.28 L1211.64,1295.08 L1213.74,1293.53 L1215.77,1291.66 L1217.72,1289.46 L1219.6,1286.94 L1221.38,1284.1 L1223.07,1280.97 L1224.67,1277.55 L1226.15,1273.86 L1227.52,1269.89 L1228.78,1265.68 L1229.92,1261.24 L1230.93,1256.58 L1231.81,1251.71 L1232.56,1246.66 L1233.18,1241.44 L1233.66,1236.08 L1234,1230.58 L1234.21,1224.98 L1234.27,1219.28 L1234.19,1213.52 L1233.97,1207.7 L1233.62,1201.86 L1233.12,1196.01 L1232.49,1190.17 L1231.73,1184.37 L1230.83,1178.62 L1229.81,1172.95 L1228.66,1167.37 L1227.39,1161.91 L1226,1156.58 L1224.51,1151.4 L1222.91,1146.4 L1221.21,1141.58 L1219.41,1136.98 L1217.53,1132.59 L1215.57,1128.44 L1213.53,1124.55 L1211.42,1120.93 L1209.26,1117.58 L1207.05,1114.53 L1204.79,1111.77 L1202.5,1109.34 L1200.18,1107.22 L1197.84,1105.43 L1195.48,1103.98 L1193.13,1102.86 L1190.78,1102.09" stroke-width="0.9" stroke="#2c393b"/>
<clipPath id="cut3"><path d="M1456.7,1061 L1475,1079 L1492.7,1097.1 L1505,1118 L1515.6,1135.8 L1526,1147 L1538.4,1153.4 L1556,1157 L1573.6,1156.9 L1595,1153 L1615.8,1146.3 L1633,1138 L1651,1128.7 L1670,1118 L1686.1,1109.4 L1700,1104 L1714.2,1101.5 L1738.8,1101.5 L1765.2,1100.6 L1780,1095 L1789.8,1086.6 L1796,1076 L1798.6,1065.5 L1797,1040 L1790,1022 L1781,1012.7 L1781,1012.7 Z"/></clipPath>
<path d="M1456.7,1061 L1475,1079 L1492.7,1097.1 L1505,1118 L1515.6,1135.8 L1526,1147 L1538.4,1153.4 L1556,1157 L1573.6,1156.9 L1595,1153 L1615.8,1146.3 L1633,1138 L1651,1128.7 L1670,1118 L1686.1,1109.4 L1700,1104 L1714.2,1101.5 L1738.8,1101.5 L1765.2,1100.6 L1780,1095 L1789.8,1086.6 L1796,1076 L1798.6,1065.5 L1797,1040 L1790,1022 L1781,1012.7 L1781,1012.7 Z" fill="#b9cfd1" stroke-width="0"/>
<g clip-path="url(#cut3)">
<g transform="rotate(-8.31 1440 1066)">
<rect x="1430" y="1064" width="400" height="8.2" fill="url(#gTube)" stroke="#5f7679" stroke-width="0.7"/>
<rect x="1430" y="1072.55" width="400" height="8.2" fill="url(#gTube)" stroke="#5f7679" stroke-width="0.7"/>
<rect x="1430" y="1081.1" width="400" height="8.2" fill="url(#gTube)" stroke="#5f7679" stroke-width="0.7"/>
<rect x="1430" y="1089.65" width="400" height="8.2" fill="url(#gTube)" stroke="#5f7679" stroke-width="0.7"/>
<rect x="1430" y="1098.2" width="400" height="8.2" fill="url(#gTube)" stroke="#5f7679" stroke-width="0.7"/>
<rect x="1430" y="1106.75" width="400" height="8.2" fill="url(#gTube)" stroke="#5f7679" stroke-width="0.7"/>
<rect x="1430" y="1115.3" width="400" height="8.2" fill="url(#gTube)" stroke="#5f7679" stroke-width="0.7"/>
<rect x="1430" y="1123.85" width="400" height="8.2" fill="url(#gTube)" stroke="#5f7679" stroke-width="0.7"/>
<rect x="1430" y="1132.4" width="400" height="8.2" fill="url(#gTube)" stroke="#5f7679" stroke-width="0.7"/>
<rect x="1430" y="1140.95" width="400" height="8.2" fill="url(#gTube)" stroke="#5f7679" stroke-width="0.7"/>
<rect x="1430" y="1149.5" width="400" height="8.2" fill="url(#gTube)" stroke="#5f7679" stroke-width="0.7"/>
<rect x="1430" y="1158.05" width="400" height="8.2" fill="url(#gTube)" stroke="#5f7679" stroke-width="0.7"/>
<rect x="1430" y="1166.6" width="400" height="8.2" fill="url(#gTube)" stroke="#5f7679" stroke-width="0.7"/>
<rect x="1430" y="1175.15" width="400" height="8.2" fill="url(#gTube)" stroke="#5f7679" stroke-width="0.7"/>
<rect x="1430" y="1183.7" width="400" height="8.2" fill="url(#gTube)" stroke="#5f7679" stroke-width="0.7"/>
</g>
<path d="M1456,1061 L1781,1012.7 L1781,1020 L1458,1068 Z" fill="#c5d9db" stroke-width="0.8" stroke="#2c393b"/>
<path d="M1463,1066 L1700,1031 L1702,1046 L1470,1080 Z" fill="#c3d7d9" stroke-width="0.8" stroke="#2c393b"/>
<line x1="1470" y1="1080" x2="1700" y2="1046" stroke-width="1.2" stroke="#2c393b"/>
<path d="M1545,1052 L1551,1051 L1552,1078 L1546,1079 Z" fill="#b0c6c8" stroke-width="0.8" stroke="#2c393b"/>
<path d="M1698.09,1029.2 L1696.94,1029.68 L1695.85,1030.33 L1694.84,1031.17 L1693.89,1032.18 L1693.02,1033.36 L1692.24,1034.71 L1691.54,1036.21 L1690.92,1037.87 L1690.4,1039.68 L1689.97,1041.62 L1689.63,1043.69 L1689.39,1045.89 L1689.25,1048.2 L1689.2,1050.6 L1689.25,1053.1 L1689.4,1055.69 L1689.64,1058.34 L1689.98,1061.05 L1690.42,1063.8 L1690.95,1066.59 L1691.56,1069.41 L1692.27,1072.23 L1693.06,1075.06 L1693.93,1077.87 L1694.88,1080.66 L1695.9,1083.41 L1696.99,1086.11 L1698.14,1088.75 L1699.36,1091.32 L1700.63,1093.8 L1701.94,1096.19 L1703.3,1098.48 L1704.7,1100.66 L1706.13,1102.71 L1707.58,1104.63 L1709.06,1106.41 L1710.54,1108.05 L1712.03,1109.53 L1713.52,1110.85 L1715.01,1112 L1716.48,1112.98 L1717.93,1113.79 L1719.36,1114.41 L1720.76,1114.86 L1722.11,1115.12 L1723.43,1115.2 L1724.69,1115.09 L1725.91,1114.8 Z" fill="#c0d5d7" stroke-width="0.9" stroke="#2c393b"/>
<path d="M1703,1036 Q1722,1062 1736,1102" stroke-width="1" stroke="#2c393b"/>
<path d="M1698,1037 Q1717,1063 1730,1102" stroke-width="0.8" stroke="#2c393b"/>
</g>
<path d="M1456.7,1061 L1781,1012.7" stroke-width="1" stroke="#2c393b"/>
<path d="M1456.7,1061 L1475,1079 L1492.7,1097.1 L1505,1118 L1515.6,1135.8 L1526,1147 L1538.4,1153.4 L1556,1157 L1573.6,1156.9 L1595,1153 L1615.8,1146.3 L1633,1138 L1651,1128.7 L1670,1118 L1686.1,1109.4 L1700,1104 L1714.2,1101.5 L1738.8,1101.5 L1765.2,1100.6 L1780,1095 L1789.8,1086.6 L1796,1076 L1798.6,1065.5 L1797,1040 L1790,1022 L1781,1012.7" fill="none" stroke-width="1.3" stroke="#2c393b"/>
<path d="M1820.07,1198.45 L1822.93,1197.89 L1825.73,1196.9 L1828.46,1195.51 L1831.1,1193.7 L1833.64,1191.49 L1836.07,1188.9 L1838.38,1185.92 L1840.56,1182.57 L1842.6,1178.88 L1844.49,1174.84 L1846.23,1170.49 L1847.8,1165.83 L1849.2,1160.9 L1850.43,1155.7 L1851.47,1150.27 L1852.33,1144.62 L1852.99,1138.78 L1853.47,1132.78 L1853.75,1126.64 L1853.83,1120.38 L1853.72,1114.04 L1853.41,1107.63 L1852.91,1101.2 L1852.22,1094.76 L1851.33,1088.35 L1850.26,1081.98 L1849.01,1075.7 L1847.59,1069.52 L1845.99,1063.47 L1844.23,1057.57 L1842.32,1051.86 L1840.26,1046.36 L1838.06,1041.09 L1835.74,1036.07 L1833.29,1031.32 L1830.74,1026.87 L1828.08,1022.73 L1825.35,1018.93 L1822.53,1015.47 L1819.66,1012.38 L1816.74,1009.66 L1813.77,1007.33 L1810.79,1005.4 L1807.79,1003.87 L1804.79,1002.76 L1801.81,1002.06 L1798.85,1001.79 L1795.93,1001.93" stroke-width="1.1" stroke="#2c393b"/>
<path d="M1514.6,1250 L1514.6,1292.1 L1604.8,1330.4 L1604.8,1214 L1602.8,1211 L1596,1222 L1580,1236 L1557,1243 Z" fill="#9db2b5" stroke-width="1.1" stroke="#2c393b"/>
<path d="M1606.9,1236 L1639.7,1234 L1639.7,1314 L1606.9,1330.4 Z" fill="#b6c9cb" stroke-width="1" stroke="#2c393b"/>
<path d="M1604.8,1330.4 L1639.7,1314 L1675.9,1326.3 L1675.9,1329.5 L1593.9,1343.4 Z" fill="#bccfd1" stroke-width="1" stroke="#2c393b"/>
<path d="M1500.9,1295.5 L1593.9,1343.4 L1604.8,1341 L1604.8,1330.4 L1514.6,1292.1 Z" fill="#c6d7d9" stroke-width="0.9" stroke="#2c393b"/>
<path d="M1614,1325 L1632,1322.5 A2,2 0 0 1 1632,1326.5 L1614,1329 A2,2 0 0 1 1614,1325 Z" fill="#e8f1f2" stroke-width="0.7" stroke="#2c393b"/>
<circle cx="1523" cy="1262" r="4.6" fill="#f0f4f4" stroke-width="0.6" stroke="#2c393b"/>
<circle cx="1519.4" cy="1262" r="4.2" fill="#5d5443" stroke-width="0.6" stroke="#333"/>
<path d="M1598,1196.4 L1667.7,1186.2 L1666,1197 L1663.6,1207.3 L1656,1217 L1647.2,1225 L1637.7,1232 L1600,1238 L1557,1242.9 L1578.9,1234.7 L1588,1226 L1593.9,1214.2 Z" fill="#bdd2d4" stroke-width="1.1" stroke="#2c393b"/>
<path d="M1598,1198.5 L1666,1188.4" stroke-width="0.7" stroke="#2c393b"/>
<path d="M1577.1,1034.7 L1658.8,1021.5 L1675.5,1032 L1592.9,1045.3 Z" fill="#b3c7c9" stroke-width="1" stroke="#2c393b"/>
<line x1="1592.9" y1="1042.3" x2="1675.5" y2="1029" stroke-width="0.7" stroke="#2c393b"/>
<path d="M1599.1,1033.8 L1599.1,1002.2 A27.2,27.2 0 0 1 1653.5,1002.2 L1653.5,1033.8 Z" fill="#b9cdcf" stroke-width="1.1" stroke="#2c393b"/>
<path d="M1650.5,1033.8 L1650.5,1002.2 A24.2,24.2 0 0 1 1604.1,994.2" stroke-width="0.6" stroke="#8fa4a7"/>
<circle cx="1626.3" cy="1002.2" r="13.2" fill="#ffffff" stroke-width="1.1" stroke="#2c393b"/>
<path d="M1046.6,1322 L1046.6,1364.7 L1139.3,1406 L1139.3,1290 L1135,1285.5 L1128,1294 L1112,1309 L1090,1318.5 Z" fill="#9db2b5" stroke-width="1.1" stroke="#2c393b"/>
<path d="M1139.3,1312 L1171.9,1309.3 L1171.9,1389.6 L1139.3,1393.8 Z" fill="#b6c9cb" stroke-width="1" stroke="#2c393b"/>
<path d="M1139.3,1393.8 L1171.9,1389.6 L1192.6,1395.1 L1192.6,1399.3 L1139.3,1406.2 Z" fill="#bccfd1" stroke-width="1" stroke="#2c393b"/>
<path d="M1046.6,1364.7 L1139.3,1406.2 L1139.3,1409.5 L1046.6,1368 Z" fill="#c6d7d9" stroke-width="0.9" stroke="#2c393b"/>
<ellipse cx="1154.6" cy="1397.2" rx="4" ry="1.6" fill="#e8f1f2" stroke="#2c393b" stroke-width="0.7"/>
<circle cx="1124.5" cy="1370" r="4.8" fill="#f0f4f4" stroke-width="0.6" stroke="#2c393b"/>
<circle cx="1122" cy="1370.2" r="4.2" fill="#5d5443" stroke-width="0.6" stroke="#333"/>
<path d="M1131,1272 L1199.6,1261 L1197,1276 L1190,1290 L1178,1301 L1166,1308 L1150,1312 L1120,1316 L1088,1318 L1100,1309 L1116,1297 L1126,1284 Z" fill="#bdd2d4" stroke-width="1.1" stroke="#2c393b"/>
<path d="M1131,1274 L1197,1263" stroke-width="0.7" stroke="#2c393b"/>
<path d="M1054.9,1229.8 L1075.7,1240.1 L1075.7,1276.8 L1054.9,1267.8 Z" fill="#a3b8bb" stroke-width="1" stroke="#2c393b"/>
<path d="M1103.4,1222.1 L1125.5,1231.8 L1125.5,1236 L1103.4,1226.5 Z" fill="#a3b8bb" stroke-width="0.9" stroke="#2c393b"/>
<path d="M1075.7,1240.1 L1125.5,1231.8 L1125.5,1269.2 L1075.7,1276.8 Z" fill="#b8cbcd" stroke-width="1" stroke="#2c393b"/>
<path d="M1079.8,1244.3 L1124.1,1237.4 L1124.1,1267.8 L1079.8,1274.7 Z" fill="#eceff3" stroke-width="1" stroke="#2c393b"/>
<circle cx="1081.5" cy="1246.5" r="0.9" fill="#333" stroke-width="0"/>
<circle cx="1122" cy="1239.5" r="0.9" fill="#333" stroke-width="0"/>
<circle cx="1122" cy="1265.5" r="0.9" fill="#333" stroke-width="0"/>
<circle cx="1081.5" cy="1272.5" r="0.9" fill="#333" stroke-width="0"/>
<path d="M997.7,1072 L997.7,1138 A28.8,9.79 0 0 0 1055.3,1138 L1055.3,1072 A28.8,9.79 0 0 0 997.7,1072 Z" fill="url(#gVpipe)" stroke-width="1" stroke="#2c393b"/>
<g transform="translate(1040,1093) rotate(32.54)"><rect x="0" y="-7.2" width="39.97" height="14.4" fill="#c3d8da" stroke-width="1" stroke="#2c393b"/><line x1="0" y1="-2.52" x2="39.97" y2="-2.52" stroke-width="0" stroke="none"/></g><ellipse cx="1073.7" cy="1114.5" rx="5.4" ry="7.2" transform="rotate(32.54 1073.7 1114.5)" fill="#dcecee" stroke="#2c393b" stroke-width="1"/><ellipse cx="1074.2" cy="1114.5" rx="3.24" ry="4.32" transform="rotate(32.54 1073.7 1114.5)" fill="#eef7f8" stroke="#2c393b" stroke-width="0.8"/>
<path d="M995.5,1066 L995.5,1077 A31,10.54 0 0 0 1057.5,1077 L1057.5,1066 A31,10.54 0 0 0 995.5,1066 Z" fill="#cde0e2" stroke-width="1" stroke="#2c393b"/>
<path d="M972.5,1053 L972.5,1064 A54,16.74 0 0 0 1080.5,1064 L1080.5,1053 A54,16.74 0 0 0 972.5,1053 Z" fill="#cde0e2" stroke-width="1" stroke="#2c393b"/><ellipse cx="1026.5" cy="1053" rx="54" ry="16.74" fill="#aec3c6" stroke="#2c393b" stroke-width="1"/>
<path d="M1072.01,1070.74 L1069.8,1074.26 L1065.38,1074.26 L1063.17,1070.74 L1065.38,1067.22 L1069.8,1067.22 Z" fill="#b9cdd0" stroke-width="1.1" stroke="#1f2a2c"/><circle cx="1068.09" cy="1070.54" r="2.21" fill="#f2f9fa" stroke-width="0.8" stroke="#2a3537"/>
<path d="M1056.31,1077.43 L1054.1,1080.96 L1049.68,1080.96 L1047.47,1077.43 L1049.68,1073.91 L1054.1,1073.91 Z" fill="#b9cdd0" stroke-width="1.1" stroke="#1f2a2c"/><circle cx="1052.39" cy="1077.23" r="2.21" fill="#f2f9fa" stroke-width="0.8" stroke="#2a3537"/>
<path d="M1030.92,1079.99 L1028.71,1083.51 L1024.29,1083.51 L1022.08,1079.99 L1024.29,1076.47 L1028.71,1076.47 Z" fill="#b9cdd0" stroke-width="1.1" stroke="#1f2a2c"/><circle cx="1027" cy="1079.79" r="2.21" fill="#f2f9fa" stroke-width="0.8" stroke="#2a3537"/>
<path d="M1005.53,1077.43 L1003.32,1080.96 L998.9,1080.96 L996.69,1077.43 L998.9,1073.91 L1003.32,1073.91 Z" fill="#b9cdd0" stroke-width="1.1" stroke="#1f2a2c"/><circle cx="1001.61" cy="1077.23" r="2.21" fill="#f2f9fa" stroke-width="0.8" stroke="#2a3537"/>
<path d="M989.83,1070.74 L987.62,1074.26 L983.2,1074.26 L980.99,1070.74 L983.2,1067.22 L987.62,1067.22 Z" fill="#b9cdd0" stroke-width="1.1" stroke="#1f2a2c"/><circle cx="985.91" cy="1070.54" r="2.21" fill="#f2f9fa" stroke-width="0.8" stroke="#2a3537"/>
<rect x="1065.79" y="1050.14" width="3.6" height="9" rx="0.8" fill="#eef6f7" stroke-width="0.6" stroke="#2c393b"/>
<rect x="1050.09" y="1056.83" width="3.6" height="9" rx="0.8" fill="#eef6f7" stroke-width="0.6" stroke="#2c393b"/>
<rect x="1024.7" y="1059.39" width="3.6" height="9" rx="0.8" fill="#eef6f7" stroke-width="0.6" stroke="#2c393b"/>
<rect x="999.31" y="1056.83" width="3.6" height="9" rx="0.8" fill="#eef6f7" stroke-width="0.6" stroke="#2c393b"/>
<rect x="983.61" y="1050.14" width="3.6" height="9" rx="0.8" fill="#eef6f7" stroke-width="0.6" stroke="#2c393b"/>
<path d="M972.5,1027 L972.5,1047 A54,16.74 0 0 0 1080.5,1047 L1080.5,1027 A54,16.74 0 0 0 972.5,1027 Z" fill="#cde0e2" stroke-width="1" stroke="#2c393b"/><ellipse cx="1026.5" cy="1027" rx="54" ry="16.74" fill="#aec3c6" stroke="#2c393b" stroke-width="1"/>
<path d="M990.61,1020 L988.01,1024.14 L982.81,1024.14 L980.21,1020 L982.81,1015.86 L988.01,1015.86 Z" fill="#b9cdd0" stroke-width="1.1" stroke="#1f2a2c"/><circle cx="985.91" cy="1019.8" r="2.6" fill="#f2f9fa" stroke-width="0.8" stroke="#2a3537"/>
<path d="M1006.31,1013.31 L1003.71,1017.45 L998.51,1017.45 L995.91,1013.31 L998.51,1009.16 L1003.71,1009.16 Z" fill="#b9cdd0" stroke-width="1.1" stroke="#1f2a2c"/><circle cx="1001.61" cy="1013.11" r="2.6" fill="#f2f9fa" stroke-width="0.8" stroke="#2a3537"/>
<path d="M1031.7,1010.75 L1029.1,1014.89 L1023.9,1014.89 L1021.3,1010.75 L1023.9,1006.6 L1029.1,1006.6 Z" fill="#b9cdd0" stroke-width="1.1" stroke="#1f2a2c"/><circle cx="1027" cy="1010.55" r="2.6" fill="#f2f9fa" stroke-width="0.8" stroke="#2a3537"/>
<path d="M1057.09,1013.31 L1054.49,1017.45 L1049.29,1017.45 L1046.69,1013.31 L1049.29,1009.16 L1054.49,1009.16 Z" fill="#b9cdd0" stroke-width="1.1" stroke="#1f2a2c"/><circle cx="1052.39" cy="1013.11" r="2.6" fill="#f2f9fa" stroke-width="0.8" stroke="#2a3537"/>
<path d="M1072.79,1020 L1070.19,1024.14 L1064.99,1024.14 L1062.39,1020 L1064.99,1015.86 L1070.19,1015.86 Z" fill="#b9cdd0" stroke-width="1.1" stroke="#1f2a2c"/><circle cx="1068.09" cy="1019.8" r="2.6" fill="#f2f9fa" stroke-width="0.8" stroke="#2a3537"/>
<path d="M998,1012 L998,1026 A28.5,8.83 0 0 0 1055,1026 L1055,1012 A28.5,8.83 0 0 0 998,1012 Z" fill="#cde0e2" stroke-width="1" stroke="#2c393b"/><ellipse cx="1026.5" cy="1012" rx="28.5" ry="8.83" fill="#d6e8ea" stroke="#2c393b" stroke-width="1"/>
<path d="M1072.79,1028.28 L1070.19,1032.42 L1064.99,1032.42 L1062.39,1028.28 L1064.99,1024.14 L1070.19,1024.14 Z" fill="#b9cdd0" stroke-width="1.1" stroke="#1f2a2c"/><circle cx="1068.09" cy="1028.08" r="2.6" fill="#f2f9fa" stroke-width="0.8" stroke="#2a3537"/>
<path d="M1057.09,1034.97 L1054.49,1039.12 L1049.29,1039.12 L1046.69,1034.97 L1049.29,1030.83 L1054.49,1030.83 Z" fill="#b9cdd0" stroke-width="1.1" stroke="#1f2a2c"/><circle cx="1052.39" cy="1034.77" r="2.6" fill="#f2f9fa" stroke-width="0.8" stroke="#2a3537"/>
<path d="M1031.7,1037.53 L1029.1,1041.68 L1023.9,1041.68 L1021.3,1037.53 L1023.9,1033.39 L1029.1,1033.39 Z" fill="#b9cdd0" stroke-width="1.1" stroke="#1f2a2c"/><circle cx="1027" cy="1037.33" r="2.6" fill="#f2f9fa" stroke-width="0.8" stroke="#2a3537"/>
<path d="M1006.31,1034.97 L1003.71,1039.12 L998.51,1039.12 L995.91,1034.97 L998.51,1030.83 L1003.71,1030.83 Z" fill="#b9cdd0" stroke-width="1.1" stroke="#1f2a2c"/><circle cx="1001.61" cy="1034.77" r="2.6" fill="#f2f9fa" stroke-width="0.8" stroke="#2a3537"/>
<path d="M990.61,1028.28 L988.01,1032.42 L982.81,1032.42 L980.21,1028.28 L982.81,1024.14 L988.01,1024.14 Z" fill="#b9cdd0" stroke-width="1.1" stroke="#1f2a2c"/><circle cx="985.91" cy="1028.08" r="2.6" fill="#f2f9fa" stroke-width="0.8" stroke="#2a3537"/>
<ellipse cx="1026.5" cy="1012.5" rx="23.5" ry="7.29" fill="#f3f9fa" stroke="#2c393b" stroke-width="0.9"/>
<path d="M1004.5,1013.5 A22,6.82 0 0 1 1048.5,1013.5" fill="none" stroke="#b9cdd0" stroke-width="2.2"/>
<path d="M1079.6,1114.6 L1163.3,1102.2 L1175.7,1108.4 L1095.1,1123.9 Z" fill="#b3c7c9" stroke-width="1" stroke="#2c393b"/>
<line x1="1095.1" y1="1120.9" x2="1175.7" y2="1105.4" stroke-width="0.7" stroke="#2c393b"/>
<path d="M1099,1111.5 L1099,1071 A27,27 0 0 1 1153,1071 L1153,1111.5 Z" fill="#b9cdcf" stroke-width="1.1" stroke="#2c393b"/>
<path d="M1150,1111.5 L1150,1071 A24,24 0 0 1 1104,1063" stroke-width="0.6" stroke="#8fa4a7"/>
<circle cx="1126" cy="1071" r="14.7" fill="#ffffff" stroke-width="1.1" stroke="#2c393b"/>
<ellipse cx="936" cy="1043" rx="36.5" ry="12.5" fill="#9fb5b8" stroke="#2c393b" stroke-width="1.2"/>
<ellipse cx="936" cy="1040" rx="36.5" ry="12.5" fill="#cadfe1" stroke="#2c393b" stroke-width="1.2"/>
<ellipse cx="936" cy="1040.5" rx="24" ry="7.8" fill="#ffffff" stroke="#2c393b" stroke-width="1.0"/>
<path d="M912,1040 A24,7.8 0 0 1 960,1040" fill="none" stroke="#a9bec0" stroke-width="2"/>
<circle cx="1006.96" cy="1341.07" r="3" fill="#dfeeef" stroke-width="0.8" stroke="#2c393b"/>
<circle cx="1016.2" cy="1328.4" r="3" fill="#dfeeef" stroke-width="0.8" stroke="#2c393b"/>
<circle cx="1023.42" cy="1310.92" r="3" fill="#dfeeef" stroke-width="0.8" stroke="#2c393b"/>
<circle cx="1028.27" cy="1289.52" r="3" fill="#dfeeef" stroke-width="0.8" stroke="#2c393b"/>
<circle cx="1030.49" cy="1265.27" r="3" fill="#dfeeef" stroke-width="0.8" stroke="#2c393b"/>
<circle cx="1029.99" cy="1239.38" r="3" fill="#dfeeef" stroke-width="0.8" stroke="#2c393b"/>
<circle cx="1026.77" cy="1213.15" r="3" fill="#dfeeef" stroke-width="0.8" stroke="#2c393b"/>
<circle cx="1021.01" cy="1187.9" r="3" fill="#dfeeef" stroke-width="0.8" stroke="#2c393b"/>
<circle cx="1013" cy="1164.9" r="3" fill="#dfeeef" stroke-width="0.8" stroke="#2c393b"/>
<circle cx="1003.12" cy="1145.29" r="3" fill="#dfeeef" stroke-width="0.8" stroke="#2c393b"/>
<circle cx="991.89" cy="1130.06" r="3" fill="#dfeeef" stroke-width="0.8" stroke="#2c393b"/>
<circle cx="979.86" cy="1119.97" r="3" fill="#dfeeef" stroke-width="0.8" stroke="#2c393b"/>
<path d="M902.4,1209.73 L902.53,1201.89 L902.91,1194.19 L903.54,1186.66 L904.41,1179.35 L905.53,1172.27 L906.88,1165.46 L908.47,1158.94 L910.28,1152.75 L912.31,1146.92 L914.55,1141.45 L916.98,1136.39 L919.61,1131.75 L922.41,1127.56 L925.37,1123.82 L928.49,1120.56 L931.75,1117.78 L935.13,1115.51 L938.63,1113.75 L942.22,1112.51 L945.89,1111.79 L956.89,1110.04 L960.62,1109.85 L964.41,1110.19 L968.22,1111.05 L972.06,1112.43 L975.89,1114.34 L979.7,1116.75 L983.49,1119.66 L987.22,1123.05 L990.89,1126.92 L994.48,1131.24 L997.97,1136 L1001.35,1141.17 L1004.6,1146.74 L1007.72,1152.68 L1010.68,1158.96 L1013.47,1165.56 L1016.09,1172.45 L1018.52,1179.59 L1020.75,1186.97 L1022.77,1194.55 L1024.58,1202.29 L1026.16,1210.16 L1027.51,1218.13 L1028.61,1226.16 L1029.48,1234.23 L1030.1,1242.29 L1030.48,1250.31 L1030.6,1258.26 L1030.47,1266.09 L1030.09,1273.79 L1029.46,1281.32 L1028.59,1288.63 L1027.47,1295.71 L1026.12,1302.52 L1024.53,1309.04 L1022.72,1315.23 L1020.69,1321.07 L1018.45,1326.53 L1016.02,1331.59 L1013.39,1336.23 L1010.59,1340.42 L1007.63,1344.16 L1004.51,1347.43 L1001.25,1350.2 L997.87,1352.47 L994.37,1354.23 L990.78,1355.47 L987.11,1356.19 L976.11,1357.94 L972.38,1358.13 L968.59,1357.8 L964.78,1356.93 L960.94,1355.55 L957.11,1353.64 L953.3,1351.23 L949.51,1348.32 L945.78,1344.93 L942.11,1341.06 L938.52,1336.74 L935.03,1331.98 L931.65,1326.81 L928.4,1321.24 L925.28,1315.3 L922.32,1309.02 L919.53,1302.42 L916.91,1295.53 L914.48,1288.39 L912.25,1281.01 L910.23,1273.43 L908.42,1265.69 L906.84,1257.82 L905.49,1249.85 L904.39,1241.82 L903.52,1233.75 L902.9,1225.69 L902.52,1217.67 Z" fill="#cfe2e4" stroke-width="1" stroke="#2c393b"/>
<path d="M976.11,1357.94 L979.78,1357.22 L983.37,1355.98 L986.87,1354.22 L990.25,1351.95 L993.51,1349.17 L996.63,1345.91 L999.59,1342.17 L1002.39,1337.98 L1005.02,1333.34 L1007.45,1328.28 L1009.69,1322.81 L1011.72,1316.98 L1013.53,1310.79 L1015.12,1304.27 L1016.47,1297.46 L1017.59,1290.38 L1018.46,1283.07 L1019.09,1275.54 L1019.47,1267.84 L1019.6,1260 L1019.48,1252.06 L1019.1,1244.04 L1018.48,1235.98 L1017.61,1227.91 L1016.51,1219.88 L1015.16,1211.91 L1013.58,1204.04 L1011.77,1196.3 L1009.75,1188.72 L1007.52,1181.34 L1005.09,1174.2 L1002.47,1167.31 L999.68,1160.71 L996.72,1154.43 L993.6,1148.49 L990.35,1142.92 L986.97,1137.75 L983.48,1132.99 L979.89,1128.67 L976.22,1124.8 L972.49,1121.41 L968.7,1118.5 L964.89,1116.09 L961.06,1114.18 L957.22,1112.8 L953.41,1111.93 L949.62,1111.6 L945.89,1111.79" stroke-width="0.9" stroke="#2c393b"/>
<path d="M887.77,1213.44 L887.89,1205.92 L888.25,1198.53 L888.86,1191.31 L889.7,1184.29 L890.77,1177.49 L892.07,1170.96 L893.59,1164.71 L895.33,1158.77 L897.27,1153.16 L899.42,1147.92 L901.76,1143.07 L904.27,1138.61 L906.96,1134.59 L909.81,1131 L912.8,1127.87 L915.93,1125.21 L919.18,1123.03 L922.53,1121.34 L925.98,1120.14 L929.5,1119.46 L946.5,1116.75 L950.08,1116.57 L953.71,1116.89 L957.38,1117.72 L961.05,1119.05 L964.73,1120.88 L968.39,1123.19 L972.02,1125.98 L975.61,1129.24 L979.13,1132.95 L982.57,1137.1 L985.92,1141.66 L989.16,1146.63 L992.29,1151.97 L995.28,1157.67 L998.12,1163.7 L1000.8,1170.03 L1003.31,1176.64 L1005.65,1183.5 L1007.79,1190.58 L1009.73,1197.85 L1011.46,1205.28 L1012.97,1212.83 L1014.27,1220.48 L1015.33,1228.19 L1016.16,1235.93 L1016.76,1243.67 L1017.12,1251.36 L1017.23,1258.99 L1017.11,1266.51 L1016.75,1273.9 L1016.14,1281.12 L1015.3,1288.14 L1014.23,1294.94 L1012.93,1301.48 L1011.41,1307.73 L1009.67,1313.67 L1007.73,1319.27 L1005.58,1324.51 L1003.24,1329.37 L1000.73,1333.82 L998.04,1337.85 L995.19,1341.43 L992.2,1344.57 L989.07,1347.23 L985.82,1349.41 L982.47,1351.1 L979.02,1352.29 L975.5,1352.98 L958.5,1355.68 L954.92,1355.86 L951.29,1355.54 L947.62,1354.71 L943.95,1353.38 L940.27,1351.56 L936.61,1349.24 L932.98,1346.45 L929.39,1343.19 L925.87,1339.48 L922.43,1335.33 L919.08,1330.77 L915.84,1325.8 L912.71,1320.46 L909.72,1314.76 L906.88,1308.73 L904.2,1302.4 L901.69,1295.79 L899.35,1288.93 L897.21,1281.85 L895.27,1274.58 L893.54,1267.15 L892.03,1259.6 L890.73,1251.95 L889.67,1244.24 L888.84,1236.5 L888.24,1228.77 L887.88,1221.07 Z" fill="#8ea4a7" stroke-width="1" stroke="#2c393b"/>
<path d="M958.5,1355.68 L962.02,1354.99 L965.47,1353.8 L968.82,1352.11 L972.07,1349.93 L975.2,1347.27 L978.19,1344.14 L981.04,1340.55 L983.73,1336.52 L986.24,1332.07 L988.58,1327.21 L990.73,1321.97 L992.67,1316.37 L994.41,1310.43 L995.93,1304.18 L997.23,1297.64 L998.3,1290.85 L999.14,1283.82 L999.75,1276.6 L1000.11,1269.22 L1000.23,1261.69 L1000.12,1254.07 L999.76,1246.37 L999.16,1238.64 L998.33,1230.9 L997.27,1223.19 L995.97,1215.54 L994.46,1207.98 L992.73,1200.55 L990.79,1193.28 L988.65,1186.2 L986.31,1179.34 L983.8,1172.73 L981.12,1166.4 L978.28,1160.37 L975.29,1154.68 L972.16,1149.33 L968.92,1144.37 L965.57,1139.8 L962.13,1135.65 L958.61,1131.94 L955.02,1128.69 L951.39,1125.89 L947.73,1123.58 L944.05,1121.75 L940.38,1120.42 L936.71,1119.59 L933.08,1119.27 L929.5,1119.46" stroke-width="0.9" stroke="#2c393b"/>
<path d="M873.4,1214.34 L873.53,1206.5 L873.91,1198.8 L874.54,1191.28 L875.41,1183.96 L876.53,1176.88 L877.88,1170.07 L879.47,1163.55 L881.28,1157.36 L883.31,1151.53 L885.55,1146.07 L887.98,1141 L890.61,1136.37 L893.41,1132.17 L896.37,1128.43 L899.49,1125.17 L902.75,1122.39 L906.13,1120.12 L909.63,1118.36 L913.22,1117.12 L916.89,1116.4 L928.89,1114.49 L932.62,1114.3 L936.41,1114.64 L940.22,1115.5 L944.06,1116.89 L947.89,1118.79 L951.7,1121.2 L955.49,1124.11 L959.22,1127.51 L962.89,1131.37 L966.48,1135.69 L969.97,1140.45 L973.35,1145.62 L976.6,1151.19 L979.72,1157.13 L982.68,1163.41 L985.47,1170.01 L988.09,1176.9 L990.52,1184.05 L992.75,1191.42 L994.77,1199 L996.58,1206.74 L998.16,1214.61 L999.51,1222.58 L1000.61,1230.62 L1001.48,1238.68 L1002.1,1246.74 L1002.48,1254.76 L1002.6,1262.71 L1002.47,1270.55 L1002.09,1278.24 L1001.46,1285.77 L1000.59,1293.09 L999.47,1300.17 L998.12,1306.98 L996.53,1313.49 L994.72,1319.68 L992.69,1325.52 L990.45,1330.98 L988.02,1336.04 L985.39,1340.68 L982.59,1344.88 L979.63,1348.61 L976.51,1351.88 L973.25,1354.65 L969.87,1356.92 L966.37,1358.68 L962.78,1359.93 L959.11,1360.64 L947.11,1362.55 L943.38,1362.74 L939.59,1362.41 L935.78,1361.54 L931.94,1360.16 L928.11,1358.25 L924.3,1355.84 L920.51,1352.93 L916.78,1349.54 L913.11,1345.67 L909.52,1341.35 L906.03,1336.59 L902.65,1331.42 L899.4,1325.85 L896.28,1319.91 L893.32,1313.63 L890.53,1307.03 L887.91,1300.15 L885.48,1293 L883.25,1285.62 L881.23,1278.04 L879.42,1270.3 L877.84,1262.43 L876.49,1254.46 L875.39,1246.43 L874.52,1238.36 L873.9,1230.3 L873.52,1222.28 Z" fill="#cfe2e4" stroke-width="1" stroke="#2c393b"/>
<path d="M947.11,1362.55 L950.78,1361.83 L954.37,1360.59 L957.87,1358.83 L961.25,1356.56 L964.51,1353.79 L967.63,1350.52 L970.59,1346.78 L973.39,1342.59 L976.02,1337.95 L978.45,1332.89 L980.69,1327.43 L982.72,1321.59 L984.53,1315.4 L986.12,1308.88 L987.47,1302.07 L988.59,1294.99 L989.46,1287.68 L990.09,1280.15 L990.47,1272.45 L990.6,1264.62 L990.48,1256.67 L990.1,1248.65 L989.48,1240.59 L988.61,1232.52 L987.51,1224.49 L986.16,1216.52 L984.58,1208.65 L982.77,1200.91 L980.75,1193.33 L978.52,1185.95 L976.09,1178.81 L973.47,1171.92 L970.68,1165.32 L967.72,1159.04 L964.6,1153.1 L961.35,1147.53 L957.97,1142.36 L954.48,1137.6 L950.89,1133.28 L947.22,1129.41 L943.49,1126.02 L939.7,1123.11 L935.89,1120.7 L932.06,1118.79 L928.22,1117.41 L924.41,1116.55 L920.62,1116.21 L916.89,1116.4" stroke-width="0.9" stroke="#2c393b"/>
<path d="M947.11,1362.55 L950.78,1361.83 L954.37,1360.59 L957.87,1358.83 L961.25,1356.56 L964.51,1353.79 L967.63,1350.52 L970.59,1346.78 L973.39,1342.59 L976.02,1337.95 L978.45,1332.89 L980.69,1327.43 L982.72,1321.59 L984.53,1315.4 L986.12,1308.88 L987.47,1302.07 L988.59,1294.99 L989.46,1287.68 L990.09,1280.15 L990.47,1272.45 L990.6,1264.62 L990.48,1256.67 L990.1,1248.65 L989.48,1240.59 L988.61,1232.52 L987.51,1224.49 L986.16,1216.52 L984.58,1208.65 L982.77,1200.91 L980.75,1193.33 L978.52,1185.95 L976.09,1178.81 L973.47,1171.92 L970.68,1165.32 L967.72,1159.04 L964.6,1153.1 L961.35,1147.53 L957.97,1142.36 L954.48,1137.6 L950.89,1133.28 L947.22,1129.41 L943.49,1126.02 L939.7,1123.11 L935.89,1120.7 L932.06,1118.79 L928.22,1117.41 L924.41,1116.55 L920.62,1116.21 L916.89,1116.4 L913.22,1117.12 L909.63,1118.36 L906.13,1120.12 L902.75,1122.39 L899.49,1125.17 L896.37,1128.43 L893.41,1132.17 L890.61,1136.37 L887.98,1141 L885.55,1146.07 L883.31,1151.53 L881.28,1157.36 L879.47,1163.55 L877.88,1170.07 L876.53,1176.88 L875.41,1183.96 L874.54,1191.28 L873.91,1198.8 L873.53,1206.5 L873.4,1214.34 L873.52,1222.28 L873.9,1230.3 L874.52,1238.36 L875.39,1246.43 L876.49,1254.46 L877.84,1262.43 L879.42,1270.3 L881.23,1278.04 L883.25,1285.62 L885.48,1293 L887.91,1300.15 L890.53,1307.03 L893.32,1313.63 L896.28,1319.91 L899.4,1325.85 L902.65,1331.42 L906.03,1336.59 L909.52,1341.35 L913.11,1345.67 L916.78,1349.54 L920.51,1352.93 L924.3,1355.84 L928.11,1358.25 L931.94,1360.16 L935.78,1361.54 L939.59,1362.41 L943.38,1362.74 L947.11,1362.55 Z M944.19,1338.73 L947.15,1338.15 L950.04,1337.15 L952.86,1335.73 L955.59,1333.9 L958.22,1331.66 L960.73,1329.03 L963.12,1326.02 L965.38,1322.63 L967.5,1318.89 L969.46,1314.81 L971.27,1310.4 L972.9,1305.7 L974.36,1300.7 L975.64,1295.45 L976.73,1289.96 L977.63,1284.25 L978.34,1278.35 L978.85,1272.28 L979.15,1266.07 L979.26,1259.75 L979.16,1253.34 L978.86,1246.87 L978.36,1240.37 L977.66,1233.87 L976.76,1227.39 L975.68,1220.96 L974.4,1214.61 L972.95,1208.37 L971.32,1202.26 L969.52,1196.31 L967.56,1190.55 L965.45,1184.99 L963.19,1179.67 L960.8,1174.61 L958.29,1169.82 L955.67,1165.33 L952.94,1161.16 L950.13,1157.32 L947.23,1153.83 L944.27,1150.72 L941.26,1147.98 L938.21,1145.63 L935.14,1143.69 L932.05,1142.15 L928.95,1141.03 L925.88,1140.34 L922.83,1140.07 L919.81,1140.22 L916.85,1140.8 L913.96,1141.8 L911.14,1143.22 L908.41,1145.05 L905.78,1147.29 L903.27,1149.92 L900.88,1152.94 L898.62,1156.32 L896.5,1160.06 L894.54,1164.14 L892.73,1168.55 L891.1,1173.26 L889.64,1178.25 L888.36,1183.5 L887.27,1188.99 L886.37,1194.7 L885.66,1200.6 L885.15,1206.67 L884.85,1212.88 L884.74,1219.2 L884.84,1225.61 L885.14,1232.08 L885.64,1238.58 L886.34,1245.08 L887.24,1251.56 L888.32,1257.99 L889.6,1264.34 L891.05,1270.58 L892.68,1276.69 L894.48,1282.64 L896.44,1288.4 L898.55,1293.96 L900.81,1299.28 L903.2,1304.35 L905.71,1309.13 L908.33,1313.62 L911.06,1317.8 L913.87,1321.63 L916.77,1325.12 L919.73,1328.24 L922.74,1330.97 L925.79,1333.32 L928.86,1335.27 L931.95,1336.8 L935.05,1337.92 L938.12,1338.61 L941.17,1338.88 L944.19,1338.73 Z" fill="#a8bec1" fill-rule="evenodd" stroke="#2c393b" stroke-width="1.0"/>
<path d="M957.37,1351.98 L954.57,1356.45 L948.97,1356.45 L946.17,1351.98 L948.97,1347.52 L954.57,1347.52 Z" fill="#b9cdd0" stroke-width="1.1" stroke="#1f2a2c"/><circle cx="952.27" cy="1351.78" r="2.8" fill="#f2f9fa" stroke-width="0.8" stroke="#2a3537"/>
<path d="M968.12,1344.9 L965.32,1349.36 L959.72,1349.36 L956.92,1344.9 L959.72,1340.44 L965.32,1340.44 Z" fill="#b9cdd0" stroke-width="1.1" stroke="#1f2a2c"/><circle cx="963.02" cy="1344.7" r="2.8" fill="#f2f9fa" stroke-width="0.8" stroke="#2a3537"/>
<path d="M977.33,1332.53 L974.53,1336.99 L968.93,1336.99 L966.13,1332.53 L968.93,1328.07 L974.53,1328.07 Z" fill="#b9cdd0" stroke-width="1.1" stroke="#1f2a2c"/><circle cx="972.23" cy="1332.33" r="2.8" fill="#f2f9fa" stroke-width="0.8" stroke="#2a3537"/>
<path d="M984.56,1315.5 L981.76,1319.96 L976.16,1319.96 L973.36,1315.5 L976.16,1311.03 L981.76,1311.03 Z" fill="#b9cdd0" stroke-width="1.1" stroke="#1f2a2c"/><circle cx="979.46" cy="1315.3" r="2.8" fill="#f2f9fa" stroke-width="0.8" stroke="#2a3537"/>
<path d="M989.42,1294.65 L986.62,1299.11 L981.02,1299.11 L978.22,1294.65 L981.02,1290.19 L986.62,1290.19 Z" fill="#b9cdd0" stroke-width="1.1" stroke="#1f2a2c"/><circle cx="984.32" cy="1294.45" r="2.8" fill="#f2f9fa" stroke-width="0.8" stroke="#2a3537"/>
<path d="M991.69,1271.03 L988.89,1275.5 L983.29,1275.5 L980.49,1271.03 L983.29,1266.57 L988.89,1266.57 Z" fill="#b9cdd0" stroke-width="1.1" stroke="#1f2a2c"/><circle cx="986.59" cy="1270.83" r="2.8" fill="#f2f9fa" stroke-width="0.8" stroke="#2a3537"/>
<path d="M991.25,1245.84 L988.45,1250.3 L982.85,1250.3 L980.05,1245.84 L982.85,1241.38 L988.45,1241.38 Z" fill="#b9cdd0" stroke-width="1.1" stroke="#1f2a2c"/><circle cx="986.15" cy="1245.64" r="2.8" fill="#f2f9fa" stroke-width="0.8" stroke="#2a3537"/>
<path d="M988.12,1220.32 L985.32,1224.78 L979.72,1224.78 L976.92,1220.32 L979.72,1215.86 L985.32,1215.86 Z" fill="#b9cdd0" stroke-width="1.1" stroke="#1f2a2c"/><circle cx="983.02" cy="1220.12" r="2.8" fill="#f2f9fa" stroke-width="0.8" stroke="#2a3537"/>
<path d="M982.45,1195.77 L979.65,1200.23 L974.05,1200.23 L971.25,1195.77 L974.05,1191.31 L979.65,1191.31 Z" fill="#b9cdd0" stroke-width="1.1" stroke="#1f2a2c"/><circle cx="977.35" cy="1195.57" r="2.8" fill="#f2f9fa" stroke-width="0.8" stroke="#2a3537"/>
<path d="M974.54,1173.4 L971.74,1177.87 L966.14,1177.87 L963.34,1173.4 L966.14,1168.94 L971.74,1168.94 Z" fill="#b9cdd0" stroke-width="1.1" stroke="#1f2a2c"/><circle cx="969.44" cy="1173.2" r="2.8" fill="#f2f9fa" stroke-width="0.8" stroke="#2a3537"/>
<path d="M964.77,1154.35 L961.97,1158.82 L956.37,1158.82 L953.57,1154.35 L956.37,1149.89 L961.97,1149.89 Z" fill="#b9cdd0" stroke-width="1.1" stroke="#1f2a2c"/><circle cx="959.67" cy="1154.15" r="2.8" fill="#f2f9fa" stroke-width="0.8" stroke="#2a3537"/>
<path d="M953.64,1139.57 L950.84,1144.03 L945.24,1144.03 L942.44,1139.57 L945.24,1135.11 L950.84,1135.11 Z" fill="#b9cdd0" stroke-width="1.1" stroke="#1f2a2c"/><circle cx="948.54" cy="1139.37" r="2.8" fill="#f2f9fa" stroke-width="0.8" stroke="#2a3537"/>
<path d="M941.71,1129.8 L938.91,1134.26 L933.31,1134.26 L930.51,1129.8 L933.31,1125.34 L938.91,1125.34 Z" fill="#b9cdd0" stroke-width="1.1" stroke="#1f2a2c"/><circle cx="936.61" cy="1129.6" r="2.8" fill="#f2f9fa" stroke-width="0.8" stroke="#2a3537"/>
<path d="M929.57,1125.53 L926.77,1129.99 L921.17,1129.99 L918.37,1125.53 L921.17,1121.07 L926.77,1121.07 Z" fill="#b9cdd0" stroke-width="1.1" stroke="#1f2a2c"/><circle cx="924.47" cy="1125.33" r="2.8" fill="#f2f9fa" stroke-width="0.8" stroke="#2a3537"/>
<path d="M917.83,1126.97 L915.03,1131.43 L909.43,1131.43 L906.63,1126.97 L909.43,1122.51 L915.03,1122.51 Z" fill="#b9cdd0" stroke-width="1.1" stroke="#1f2a2c"/><circle cx="912.73" cy="1126.77" r="2.8" fill="#f2f9fa" stroke-width="0.8" stroke="#2a3537"/>
<path d="M907.08,1134.05 L904.28,1138.51 L898.68,1138.51 L895.88,1134.05 L898.68,1129.59 L904.28,1129.59 Z" fill="#b9cdd0" stroke-width="1.1" stroke="#1f2a2c"/><circle cx="901.98" cy="1133.85" r="2.8" fill="#f2f9fa" stroke-width="0.8" stroke="#2a3537"/>
<path d="M897.87,1146.42 L895.07,1150.88 L889.47,1150.88 L886.67,1146.42 L889.47,1141.96 L895.07,1141.96 Z" fill="#b9cdd0" stroke-width="1.1" stroke="#1f2a2c"/><circle cx="892.77" cy="1146.22" r="2.8" fill="#f2f9fa" stroke-width="0.8" stroke="#2a3537"/>
<path d="M890.64,1163.46 L887.84,1167.92 L882.24,1167.92 L879.44,1163.46 L882.24,1158.99 L887.84,1158.99 Z" fill="#b9cdd0" stroke-width="1.1" stroke="#1f2a2c"/><circle cx="885.54" cy="1163.26" r="2.8" fill="#f2f9fa" stroke-width="0.8" stroke="#2a3537"/>
<path d="M885.78,1184.3 L882.98,1188.76 L877.38,1188.76 L874.58,1184.3 L877.38,1179.84 L882.98,1179.84 Z" fill="#b9cdd0" stroke-width="1.1" stroke="#1f2a2c"/><circle cx="880.68" cy="1184.1" r="2.8" fill="#f2f9fa" stroke-width="0.8" stroke="#2a3537"/>
<path d="M883.51,1207.92 L880.71,1212.38 L875.11,1212.38 L872.31,1207.92 L875.11,1203.46 L880.71,1203.46 Z" fill="#b9cdd0" stroke-width="1.1" stroke="#1f2a2c"/><circle cx="878.41" cy="1207.72" r="2.8" fill="#f2f9fa" stroke-width="0.8" stroke="#2a3537"/>
<path d="M883.95,1233.11 L881.15,1237.58 L875.55,1237.58 L872.75,1233.11 L875.55,1228.65 L881.15,1228.65 Z" fill="#b9cdd0" stroke-width="1.1" stroke="#1f2a2c"/><circle cx="878.85" cy="1232.91" r="2.8" fill="#f2f9fa" stroke-width="0.8" stroke="#2a3537"/>
<path d="M887.08,1258.63 L884.28,1263.09 L878.68,1263.09 L875.88,1258.63 L878.68,1254.17 L884.28,1254.17 Z" fill="#b9cdd0" stroke-width="1.1" stroke="#1f2a2c"/><circle cx="881.98" cy="1258.43" r="2.8" fill="#f2f9fa" stroke-width="0.8" stroke="#2a3537"/>
<path d="M892.75,1283.18 L889.95,1287.65 L884.35,1287.65 L881.55,1283.18 L884.35,1278.72 L889.95,1278.72 Z" fill="#b9cdd0" stroke-width="1.1" stroke="#1f2a2c"/><circle cx="887.65" cy="1282.98" r="2.8" fill="#f2f9fa" stroke-width="0.8" stroke="#2a3537"/>
<path d="M900.66,1305.55 L897.86,1310.01 L892.26,1310.01 L889.46,1305.55 L892.26,1301.09 L897.86,1301.09 Z" fill="#b9cdd0" stroke-width="1.1" stroke="#1f2a2c"/><circle cx="895.56" cy="1305.35" r="2.8" fill="#f2f9fa" stroke-width="0.8" stroke="#2a3537"/>
<path d="M910.43,1324.6 L907.63,1329.06 L902.03,1329.06 L899.23,1324.6 L902.03,1320.14 L907.63,1320.14 Z" fill="#b9cdd0" stroke-width="1.1" stroke="#1f2a2c"/><circle cx="905.33" cy="1324.4" r="2.8" fill="#f2f9fa" stroke-width="0.8" stroke="#2a3537"/>
<path d="M921.56,1339.38 L918.76,1343.84 L913.16,1343.84 L910.36,1339.38 L913.16,1334.92 L918.76,1334.92 Z" fill="#b9cdd0" stroke-width="1.1" stroke="#1f2a2c"/><circle cx="916.46" cy="1339.18" r="2.8" fill="#f2f9fa" stroke-width="0.8" stroke="#2a3537"/>
<path d="M933.49,1349.15 L930.69,1353.61 L925.09,1353.61 L922.29,1349.15 L925.09,1344.69 L930.69,1344.69 Z" fill="#b9cdd0" stroke-width="1.1" stroke="#1f2a2c"/><circle cx="928.39" cy="1348.95" r="2.8" fill="#f2f9fa" stroke-width="0.8" stroke="#2a3537"/>
<path d="M945.63,1353.42 L942.83,1357.89 L937.23,1357.89 L934.43,1353.42 L937.23,1348.96 L942.83,1348.96 Z" fill="#b9cdd0" stroke-width="1.1" stroke="#1f2a2c"/><circle cx="940.53" cy="1353.22" r="2.8" fill="#f2f9fa" stroke-width="0.8" stroke="#2a3537"/>
<rect x="990.21" y="1326.38" width="5.5" height="6" fill="#eef6f7" stroke-width="0.5" stroke="#2c393b"/>
<rect x="997.44" y="1309.36" width="5.5" height="6" fill="#eef6f7" stroke-width="0.5" stroke="#2c393b"/>
<rect x="1002.32" y="1288.52" width="5.5" height="6" fill="#eef6f7" stroke-width="0.5" stroke="#2c393b"/>
<rect x="1004.59" y="1264.91" width="5.5" height="6" fill="#eef6f7" stroke-width="0.5" stroke="#2c393b"/>
<rect x="1004.16" y="1239.72" width="5.5" height="6" fill="#eef6f7" stroke-width="0.5" stroke="#2c393b"/>
<rect x="1001.03" y="1214.2" width="5.5" height="6" fill="#eef6f7" stroke-width="0.5" stroke="#2c393b"/>
<rect x="995.37" y="1189.64" width="5.5" height="6" fill="#eef6f7" stroke-width="0.5" stroke="#2c393b"/>
<rect x="987.46" y="1167.27" width="5.5" height="6" fill="#eef6f7" stroke-width="0.5" stroke="#2c393b"/>
<rect x="977.69" y="1148.21" width="5.5" height="6" fill="#eef6f7" stroke-width="0.5" stroke="#2c393b"/>
<rect x="966.57" y="1133.42" width="5.5" height="6" fill="#eef6f7" stroke-width="0.5" stroke="#2c393b"/>
<path d="M855.1,1300 L855.1,1410 A15.5,5.27 0 0 0 886.1,1410 L886.1,1300 A15.5,5.27 0 0 0 855.1,1300 Z" fill="url(#gVpipe)" stroke-width="1" stroke="#2c393b"/>
<g transform="translate(872,1380) rotate(28.08)"><rect x="0" y="-5.8" width="45.68" height="11.6" fill="#c3d8da" stroke-width="1" stroke="#2c393b"/><line x1="0" y1="-2.03" x2="45.68" y2="-2.03" stroke-width="0" stroke="none"/></g><ellipse cx="912.3" cy="1401.5" rx="4.35" ry="5.8" transform="rotate(28.08 912.3 1401.5)" fill="#dcecee" stroke="#2c393b" stroke-width="1"/><ellipse cx="912.8" cy="1401.5" rx="2.61" ry="3.48" transform="rotate(28.08 912.3 1401.5)" fill="#eef7f8" stroke="#2c393b" stroke-width="0.8"/>
<ellipse cx="917" cy="1418" rx="13.5" ry="6" fill="#b9cdcf" stroke="#2c393b" stroke-width="1.1"/>
<ellipse cx="917" cy="1416.5" rx="13.5" ry="6" fill="#cadfe1" stroke="#2c393b" stroke-width="1.1"/>
<ellipse cx="917" cy="1417" rx="8" ry="3.2" fill="#ffffff" stroke="#2c393b" stroke-width="0.9"/>
<path d="M836.1,1440 L836.1,1447 A34.5,10.7 0 0 0 905.1,1447 L905.1,1440 A34.5,10.7 0 0 0 836.1,1440 Z" fill="#cde0e2" stroke-width="1" stroke="#2c393b"/><ellipse cx="870.6" cy="1440" rx="34.5" ry="10.7" fill="#aec3c6" stroke="#2c393b" stroke-width="1"/>
<path d="M899.92,1452.52 L898.01,1455.57 L894.19,1455.57 L892.27,1452.52 L894.19,1449.48 L898.01,1449.48 Z" fill="#b9cdd0" stroke-width="1.1" stroke="#1f2a2c"/><circle cx="896.6" cy="1452.32" r="1.91" fill="#f2f9fa" stroke-width="0.8" stroke="#2a3537"/>
<path d="M884.99,1457.15 L883.07,1460.2 L879.25,1460.2 L877.34,1457.15 L879.25,1454.11 L883.07,1454.11 Z" fill="#b9cdd0" stroke-width="1.1" stroke="#1f2a2c"/><circle cx="881.66" cy="1456.95" r="1.91" fill="#f2f9fa" stroke-width="0.8" stroke="#2a3537"/>
<path d="M863.86,1457.15 L861.95,1460.2 L858.13,1460.2 L856.21,1457.15 L858.13,1454.11 L861.95,1454.11 Z" fill="#b9cdd0" stroke-width="1.1" stroke="#1f2a2c"/><circle cx="860.54" cy="1456.95" r="1.91" fill="#f2f9fa" stroke-width="0.8" stroke="#2a3537"/>
<path d="M848.93,1452.52 L847.01,1455.57 L843.19,1455.57 L841.28,1452.52 L843.19,1449.48 L847.01,1449.48 Z" fill="#b9cdd0" stroke-width="1.1" stroke="#1f2a2c"/><circle cx="845.6" cy="1452.32" r="1.91" fill="#f2f9fa" stroke-width="0.8" stroke="#2a3537"/>
<rect x="894.3" y="1434.27" width="3.6" height="11" rx="0.8" fill="#eef6f7" stroke-width="0.6" stroke="#2c393b"/>
<rect x="879.36" y="1438.9" width="3.6" height="11" rx="0.8" fill="#eef6f7" stroke-width="0.6" stroke="#2c393b"/>
<rect x="858.24" y="1438.9" width="3.6" height="11" rx="0.8" fill="#eef6f7" stroke-width="0.6" stroke="#2c393b"/>
<rect x="843.3" y="1434.27" width="3.6" height="11" rx="0.8" fill="#eef6f7" stroke-width="0.6" stroke="#2c393b"/>
<path d="M836.1,1419 L836.1,1432 A34.5,10.7 0 0 0 905.1,1432 L905.1,1419 A34.5,10.7 0 0 0 836.1,1419 Z" fill="#cde0e2" stroke-width="1" stroke="#2c393b"/><ellipse cx="870.6" cy="1419" rx="34.5" ry="10.7" fill="#aec3c6" stroke="#2c393b" stroke-width="1"/>
<path d="M849.6,1413.25 L847.35,1416.84 L842.85,1416.84 L840.6,1413.25 L842.85,1409.67 L847.35,1409.67 Z" fill="#b9cdd0" stroke-width="1.1" stroke="#1f2a2c"/><circle cx="845.6" cy="1413.05" r="2.25" fill="#f2f9fa" stroke-width="0.8" stroke="#2a3537"/>
<path d="M864.54,1408.62 L862.29,1412.21 L857.79,1412.21 L855.54,1408.62 L857.79,1405.03 L862.29,1405.03 Z" fill="#b9cdd0" stroke-width="1.1" stroke="#1f2a2c"/><circle cx="860.54" cy="1408.42" r="2.25" fill="#f2f9fa" stroke-width="0.8" stroke="#2a3537"/>
<path d="M885.66,1408.62 L883.41,1412.21 L878.91,1412.21 L876.66,1408.62 L878.91,1405.03 L883.41,1405.03 Z" fill="#b9cdd0" stroke-width="1.1" stroke="#1f2a2c"/><circle cx="881.66" cy="1408.42" r="2.25" fill="#f2f9fa" stroke-width="0.8" stroke="#2a3537"/>
<path d="M900.6,1413.25 L898.35,1416.84 L893.85,1416.84 L891.6,1413.25 L893.85,1409.67 L898.35,1409.67 Z" fill="#b9cdd0" stroke-width="1.1" stroke="#1f2a2c"/><circle cx="896.6" cy="1413.05" r="2.25" fill="#f2f9fa" stroke-width="0.8" stroke="#2a3537"/>
<path d="M853.1,1413.5 L853.1,1418 A17.5,5.42 0 0 0 888.1,1418 L888.1,1413.5 A17.5,5.42 0 0 0 853.1,1413.5 Z" fill="#cde0e2" stroke-width="1" stroke="#2c393b"/><ellipse cx="870.6" cy="1413.5" rx="17.5" ry="5.42" fill="#d6e8ea" stroke="#2c393b" stroke-width="1"/>
<path d="M900.6,1419.8 L898.35,1423.38 L893.85,1423.38 L891.6,1419.8 L893.85,1416.21 L898.35,1416.21 Z" fill="#b9cdd0" stroke-width="1.1" stroke="#1f2a2c"/><circle cx="896.6" cy="1419.6" r="2.25" fill="#f2f9fa" stroke-width="0.8" stroke="#2a3537"/>
<path d="M885.66,1424.43 L883.41,1428.02 L878.91,1428.02 L876.66,1424.43 L878.91,1420.84 L883.41,1420.84 Z" fill="#b9cdd0" stroke-width="1.1" stroke="#1f2a2c"/><circle cx="881.66" cy="1424.23" r="2.25" fill="#f2f9fa" stroke-width="0.8" stroke="#2a3537"/>
<path d="M864.54,1424.43 L862.29,1428.02 L857.79,1428.02 L855.54,1424.43 L857.79,1420.84 L862.29,1420.84 Z" fill="#b9cdd0" stroke-width="1.1" stroke="#1f2a2c"/><circle cx="860.54" cy="1424.23" r="2.25" fill="#f2f9fa" stroke-width="0.8" stroke="#2a3537"/>
<path d="M849.6,1419.8 L847.35,1423.38 L842.85,1423.38 L840.6,1419.8 L842.85,1416.21 L847.35,1416.21 Z" fill="#b9cdd0" stroke-width="1.1" stroke="#1f2a2c"/><circle cx="845.6" cy="1419.6" r="2.25" fill="#f2f9fa" stroke-width="0.8" stroke="#2a3537"/>
<path d="M742.74,1241.78 L742.85,1235.46 L743.15,1229.25 L743.66,1223.18 L744.37,1217.28 L745.27,1211.57 L746.36,1206.08 L747.64,1200.83 L749.1,1195.83 L750.73,1191.13 L752.54,1186.72 L754.5,1182.64 L756.62,1178.9 L758.88,1175.51 L761.27,1172.5 L763.78,1169.87 L766.41,1167.63 L769.14,1165.8 L771.96,1164.38 L774.85,1163.38 L777.81,1162.8 L919.81,1140.22 L922.83,1140.07 L925.88,1140.34 L928.95,1141.03 L932.05,1142.15 L935.14,1143.69 L938.21,1145.63 L941.26,1147.98 L944.27,1150.72 L947.23,1153.83 L950.13,1157.32 L952.94,1161.16 L955.67,1165.33 L958.29,1169.82 L960.8,1174.61 L963.19,1179.67 L965.45,1184.99 L967.56,1190.55 L969.52,1196.31 L971.32,1202.26 L972.95,1208.37 L974.4,1214.61 L975.68,1220.96 L976.76,1227.39 L977.66,1233.87 L978.36,1240.37 L978.86,1246.87 L979.16,1253.34 L979.26,1259.75 L979.15,1266.07 L978.85,1272.28 L978.34,1278.35 L977.63,1284.25 L976.73,1289.96 L975.64,1295.45 L974.36,1300.7 L972.9,1305.7 L971.27,1310.4 L969.46,1314.81 L967.5,1318.89 L965.38,1322.63 L963.12,1326.02 L960.73,1329.03 L958.22,1331.66 L955.59,1333.9 L952.86,1335.73 L950.04,1337.15 L947.15,1338.15 L944.19,1338.73 L802.19,1361.31 L799.17,1361.46 L796.12,1361.19 L793.05,1360.5 L789.95,1359.38 L786.86,1357.84 L783.79,1355.9 L780.74,1353.55 L777.73,1350.81 L774.77,1347.7 L771.87,1344.21 L769.06,1340.37 L766.33,1336.2 L763.71,1331.71 L761.2,1326.92 L758.81,1321.86 L756.55,1316.54 L754.44,1310.98 L752.48,1305.22 L750.68,1299.27 L749.05,1293.16 L747.6,1286.92 L746.32,1280.57 L745.24,1274.14 L744.34,1267.66 L743.64,1261.16 L743.14,1254.66 L742.84,1248.19 Z" fill="url(#gChan)" stroke-width="1" stroke="#2c393b"/>
<path d="M855.5,1095 L855.5,1158 A15.1,5.13 0 0 0 885.7,1158 L885.7,1095 A15.1,5.13 0 0 0 855.5,1095 Z" fill="url(#gVpipe)" stroke-width="1" stroke="#2c393b"/>
<g transform="translate(878,1112) rotate(35.78)"><rect x="0" y="-7.6" width="41.91" height="15.2" fill="#c3d8da" stroke-width="1" stroke="#2c393b"/><line x1="0" y1="-2.66" x2="41.91" y2="-2.66" stroke-width="0" stroke="none"/></g><ellipse cx="912" cy="1136.5" rx="5.7" ry="7.6" transform="rotate(35.78 912 1136.5)" fill="#dcecee" stroke="#2c393b" stroke-width="1"/><ellipse cx="912.5" cy="1136.5" rx="3.42" ry="4.56" transform="rotate(35.78 912 1136.5)" fill="#eef7f8" stroke="#2c393b" stroke-width="0.8"/>
<path d="M851.6,1090 L851.6,1100 A19,6.46 0 0 0 889.6,1100 L889.6,1090 A19,6.46 0 0 0 851.6,1090 Z" fill="#cde0e2" stroke-width="1" stroke="#2c393b"/>
<path d="M836.1,1077 L836.1,1087 A34.5,10.7 0 0 0 905.1,1087 L905.1,1077 A34.5,10.7 0 0 0 836.1,1077 Z" fill="#cde0e2" stroke-width="1" stroke="#2c393b"/><ellipse cx="870.6" cy="1077" rx="34.5" ry="10.7" fill="#aec3c6" stroke="#2c393b" stroke-width="1"/>
<path d="M900.01,1092.57 L898.05,1095.69 L894.14,1095.69 L892.19,1092.57 L894.14,1089.46 L898.05,1089.46 Z" fill="#b9cdd0" stroke-width="1.1" stroke="#1f2a2c"/><circle cx="896.6" cy="1092.37" r="1.95" fill="#f2f9fa" stroke-width="0.8" stroke="#2a3537"/>
<path d="M885.07,1097.2 L883.12,1100.32 L879.21,1100.32 L877.25,1097.2 L879.21,1094.09 L883.12,1094.09 Z" fill="#b9cdd0" stroke-width="1.1" stroke="#1f2a2c"/><circle cx="881.66" cy="1097" r="1.95" fill="#f2f9fa" stroke-width="0.8" stroke="#2a3537"/>
<path d="M863.95,1097.2 L861.99,1100.32 L858.08,1100.32 L856.13,1097.2 L858.08,1094.09 L861.99,1094.09 Z" fill="#b9cdd0" stroke-width="1.1" stroke="#1f2a2c"/><circle cx="860.54" cy="1097" r="1.95" fill="#f2f9fa" stroke-width="0.8" stroke="#2a3537"/>
<path d="M849.01,1092.57 L847.06,1095.69 L843.15,1095.69 L841.19,1092.57 L843.15,1089.46 L847.06,1089.46 Z" fill="#b9cdd0" stroke-width="1.1" stroke="#1f2a2c"/><circle cx="845.6" cy="1092.37" r="1.95" fill="#f2f9fa" stroke-width="0.8" stroke="#2a3537"/>
<rect x="894.3" y="1072.27" width="3.6" height="10" rx="0.8" fill="#eef6f7" stroke-width="0.6" stroke="#2c393b"/>
<rect x="879.36" y="1076.9" width="3.6" height="10" rx="0.8" fill="#eef6f7" stroke-width="0.6" stroke="#2c393b"/>
<rect x="858.24" y="1076.9" width="3.6" height="10" rx="0.8" fill="#eef6f7" stroke-width="0.6" stroke="#2c393b"/>
<rect x="843.3" y="1072.27" width="3.6" height="10" rx="0.8" fill="#eef6f7" stroke-width="0.6" stroke="#2c393b"/>
<path d="M836.1,1056 L836.1,1070 A34.5,10.7 0 0 0 905.1,1070 L905.1,1056 A34.5,10.7 0 0 0 836.1,1056 Z" fill="#cde0e2" stroke-width="1" stroke="#2c393b"/><ellipse cx="870.6" cy="1056" rx="34.5" ry="10.7" fill="#aec3c6" stroke="#2c393b" stroke-width="1"/>
<path d="M849.7,1050.2 L847.4,1053.86 L842.8,1053.86 L840.5,1050.2 L842.8,1046.53 L847.4,1046.53 Z" fill="#b9cdd0" stroke-width="1.1" stroke="#1f2a2c"/><circle cx="845.6" cy="1050" r="2.3" fill="#f2f9fa" stroke-width="0.8" stroke="#2a3537"/>
<path d="M864.64,1045.57 L862.34,1049.23 L857.74,1049.23 L855.44,1045.57 L857.74,1041.9 L862.34,1041.9 Z" fill="#b9cdd0" stroke-width="1.1" stroke="#1f2a2c"/><circle cx="860.54" cy="1045.37" r="2.3" fill="#f2f9fa" stroke-width="0.8" stroke="#2a3537"/>
<path d="M885.76,1045.57 L883.46,1049.23 L878.86,1049.23 L876.56,1045.57 L878.86,1041.9 L883.46,1041.9 Z" fill="#b9cdd0" stroke-width="1.1" stroke="#1f2a2c"/><circle cx="881.66" cy="1045.37" r="2.3" fill="#f2f9fa" stroke-width="0.8" stroke="#2a3537"/>
<path d="M900.7,1050.2 L898.4,1053.86 L893.8,1053.86 L891.5,1050.2 L893.8,1046.53 L898.4,1046.53 Z" fill="#b9cdd0" stroke-width="1.1" stroke="#1f2a2c"/><circle cx="896.6" cy="1050" r="2.3" fill="#f2f9fa" stroke-width="0.8" stroke="#2a3537"/>
<path d="M853.6,1049 L853.6,1055 A17,5.27 0 0 0 887.6,1055 L887.6,1049 A17,5.27 0 0 0 853.6,1049 Z" fill="#cde0e2" stroke-width="1" stroke="#2c393b"/><ellipse cx="870.6" cy="1049" rx="17" ry="5.27" fill="#d6e8ea" stroke="#2c393b" stroke-width="1"/>
<path d="M900.7,1056.74 L898.4,1060.41 L893.8,1060.41 L891.5,1056.74 L893.8,1053.08 L898.4,1053.08 Z" fill="#b9cdd0" stroke-width="1.1" stroke="#1f2a2c"/><circle cx="896.6" cy="1056.54" r="2.3" fill="#f2f9fa" stroke-width="0.8" stroke="#2a3537"/>
<path d="M885.76,1061.37 L883.46,1065.04 L878.86,1065.04 L876.56,1061.37 L878.86,1057.71 L883.46,1057.71 Z" fill="#b9cdd0" stroke-width="1.1" stroke="#1f2a2c"/><circle cx="881.66" cy="1061.17" r="2.3" fill="#f2f9fa" stroke-width="0.8" stroke="#2a3537"/>
<path d="M864.64,1061.37 L862.34,1065.04 L857.74,1065.04 L855.44,1061.37 L857.74,1057.71 L862.34,1057.71 Z" fill="#b9cdd0" stroke-width="1.1" stroke="#1f2a2c"/><circle cx="860.54" cy="1061.17" r="2.3" fill="#f2f9fa" stroke-width="0.8" stroke="#2a3537"/>
<path d="M849.7,1056.74 L847.4,1060.41 L842.8,1060.41 L840.5,1056.74 L842.8,1053.08 L847.4,1053.08 Z" fill="#b9cdd0" stroke-width="1.1" stroke="#1f2a2c"/><circle cx="845.6" cy="1056.54" r="2.3" fill="#f2f9fa" stroke-width="0.8" stroke="#2a3537"/>
<ellipse cx="870.6" cy="1049.5" rx="12.5" ry="3.88" fill="#f3f9fa" stroke="#2c393b" stroke-width="0.9"/>
<path d="M859.6,1050.5 A11,3.41 0 0 1 881.6,1050.5" fill="none" stroke="#b9cdd0" stroke-width="2.2"/>
<path d="M841.9,1169.2 L855.5,1167.2 L880.2,1197.5 L880.2,1199.5 L862,1204 L860,1203 Z" fill="#bccfd1" stroke-width="1.1" stroke="#2c393b"/>
<path d="M855.5,1168 Q856,1157 865,1157 Q874,1158 873.5,1172 Q873,1183 867.2,1193.8 Q859,1182 855.5,1168 Z" fill="#b3c7ca" stroke-width="1.1" stroke="#2c393b"/>
<path d="M869,1158 Q876,1162 875.5,1173 Q875,1184 869,1194" stroke-width="0.9" stroke="#2c393b"/>
<circle cx="864.8" cy="1171" r="5.2" fill="#c3d6d8" stroke-width="0.9" stroke="#2c393b"/>
<line x1="862" y1="1174" x2="867" y2="1168" stroke-width="0.7" stroke="#2c393b"/>
<line x1="864.8" y1="1166" x2="864.8" y2="1176" stroke-width="0.6" stroke="#2c393b"/>
<circle cx="836.28" cy="1364.38" r="3" fill="#dfeeef" stroke-width="0.8" stroke="#2c393b"/>
<circle cx="845.44" cy="1352.11" r="3" fill="#dfeeef" stroke-width="0.8" stroke="#2c393b"/>
<circle cx="852.61" cy="1335.2" r="3" fill="#dfeeef" stroke-width="0.8" stroke="#2c393b"/>
<circle cx="857.45" cy="1314.51" r="3" fill="#dfeeef" stroke-width="0.8" stroke="#2c393b"/>
<circle cx="859.71" cy="1291.06" r="3" fill="#dfeeef" stroke-width="0.8" stroke="#2c393b"/>
<circle cx="859.28" cy="1266.04" r="3" fill="#dfeeef" stroke-width="0.8" stroke="#2c393b"/>
<circle cx="856.18" cy="1240.71" r="3" fill="#dfeeef" stroke-width="0.8" stroke="#2c393b"/>
<circle cx="850.55" cy="1216.32" r="3" fill="#dfeeef" stroke-width="0.8" stroke="#2c393b"/>
<circle cx="842.7" cy="1194.1" r="3" fill="#dfeeef" stroke-width="0.8" stroke="#2c393b"/>
<circle cx="833" cy="1175.18" r="3" fill="#dfeeef" stroke-width="0.8" stroke="#2c393b"/>
<circle cx="821.95" cy="1160.49" r="3" fill="#dfeeef" stroke-width="0.8" stroke="#2c393b"/>
<circle cx="810.1" cy="1150.77" r="3" fill="#dfeeef" stroke-width="0.8" stroke="#2c393b"/>
<path d="M733.29,1237.73 L733.42,1230.14 L733.79,1222.69 L734.39,1215.41 L735.24,1208.33 L736.32,1201.48 L737.63,1194.88 L739.17,1188.58 L740.92,1182.59 L742.88,1176.94 L745.04,1171.66 L747.4,1166.76 L749.94,1162.27 L752.65,1158.21 L755.52,1154.59 L758.54,1151.43 L761.69,1148.75 L764.97,1146.55 L768.35,1144.85 L771.82,1143.64 L775.38,1142.95 L790.38,1140.56 L793.99,1140.38 L797.65,1140.7 L801.35,1141.54 L805.05,1142.88 L808.76,1144.72 L812.46,1147.06 L816.12,1149.87 L819.73,1153.16 L823.28,1156.9 L826.75,1161.08 L830.13,1165.69 L833.4,1170.69 L836.55,1176.08 L839.56,1181.83 L842.43,1187.9 L845.14,1194.29 L847.67,1200.96 L850.02,1207.87 L852.18,1215.01 L854.14,1222.34 L855.88,1229.83 L857.41,1237.45 L858.71,1245.17 L859.79,1252.94 L860.63,1260.75 L861.23,1268.55 L861.59,1276.31 L861.71,1284 L861.58,1291.58 L861.21,1299.03 L860.61,1306.31 L859.76,1313.4 L858.68,1320.25 L857.37,1326.84 L855.83,1333.14 L854.08,1339.13 L852.12,1344.78 L849.96,1350.07 L847.6,1354.96 L845.06,1359.45 L842.35,1363.52 L839.48,1367.13 L836.46,1370.29 L833.31,1372.97 L830.03,1375.17 L826.65,1376.88 L823.18,1378.08 L819.62,1378.77 L804.62,1381.16 L801.01,1381.34 L797.35,1381.02 L793.65,1380.18 L789.95,1378.84 L786.24,1377 L782.54,1374.67 L778.88,1371.85 L775.27,1368.57 L771.72,1364.82 L768.25,1360.64 L764.87,1356.04 L761.6,1351.03 L758.45,1345.64 L755.44,1339.9 L752.57,1333.82 L749.86,1327.43 L747.33,1320.77 L744.98,1313.85 L742.82,1306.71 L740.86,1299.38 L739.12,1291.89 L737.59,1284.27 L736.29,1276.56 L735.21,1268.78 L734.37,1260.98 L733.77,1253.18 L733.41,1245.42 Z" fill="#cfe2e4" stroke-width="1" stroke="#2c393b"/>
<path d="M804.62,1381.16 L808.18,1380.46 L811.65,1379.26 L815.03,1377.56 L818.31,1375.36 L821.46,1372.68 L824.48,1369.52 L827.35,1365.9 L830.06,1361.84 L832.6,1357.35 L834.96,1352.45 L837.12,1347.17 L839.08,1341.52 L840.83,1335.53 L842.37,1329.22 L843.68,1322.63 L844.76,1315.78 L845.61,1308.7 L846.21,1301.42 L846.58,1293.97 L846.71,1286.38 L846.59,1278.69 L846.23,1270.93 L845.63,1263.13 L844.79,1255.33 L843.71,1247.55 L842.41,1239.84 L840.88,1232.22 L839.14,1224.73 L837.18,1217.4 L835.02,1210.26 L832.67,1203.34 L830.14,1196.68 L827.43,1190.29 L824.56,1184.21 L821.55,1178.46 L818.4,1173.08 L815.13,1168.07 L811.75,1163.47 L808.28,1159.28 L804.73,1155.54 L801.12,1152.26 L797.46,1149.44 L793.76,1147.11 L790.05,1145.27 L786.35,1143.92 L782.65,1143.09 L778.99,1142.76 L775.38,1142.95" stroke-width="0.9" stroke="#2c393b"/>
<path d="M732.24,1238.45 L732.36,1230.99 L732.72,1223.66 L733.32,1216.5 L734.15,1209.54 L735.21,1202.8 L736.5,1196.32 L738.01,1190.12 L739.74,1184.23 L741.67,1178.68 L743.79,1173.48 L746.11,1168.67 L748.61,1164.25 L751.27,1160.26 L754.1,1156.7 L757.06,1153.59 L760.17,1150.95 L763.39,1148.79 L766.71,1147.12 L770.13,1145.93 L773.62,1145.25 L776.62,1144.77 L780.17,1144.59 L783.77,1144.91 L787.41,1145.73 L791.05,1147.05 L794.7,1148.86 L798.33,1151.16 L801.93,1153.93 L805.48,1157.16 L808.97,1160.84 L812.39,1164.95 L815.71,1169.48 L818.93,1174.4 L822.02,1179.7 L824.99,1185.35 L827.81,1191.33 L830.47,1197.61 L832.96,1204.16 L835.27,1210.96 L837.39,1217.98 L839.32,1225.19 L841.03,1232.56 L842.54,1240.05 L843.82,1247.63 L844.88,1255.28 L845.7,1262.95 L846.29,1270.62 L846.65,1278.26 L846.76,1285.82 L846.64,1293.28 L846.28,1300.6 L845.68,1307.76 L844.85,1314.73 L843.79,1321.46 L842.5,1327.95 L840.99,1334.14 L839.26,1340.03 L837.33,1345.59 L835.21,1350.79 L832.89,1355.6 L830.39,1360.02 L827.73,1364.01 L824.9,1367.57 L821.94,1370.67 L818.83,1373.31 L815.61,1375.47 L812.29,1377.15 L808.87,1378.33 L805.38,1379.02 L802.38,1379.49 L798.83,1379.67 L795.23,1379.35 L791.59,1378.53 L787.95,1377.21 L784.3,1375.4 L780.67,1373.11 L777.07,1370.34 L773.52,1367.11 L770.03,1363.43 L766.61,1359.32 L763.29,1354.79 L760.07,1349.87 L756.98,1344.57 L754.01,1338.92 L751.19,1332.94 L748.53,1326.66 L746.04,1320.11 L743.73,1313.3 L741.61,1306.28 L739.68,1299.07 L737.97,1291.71 L736.46,1284.22 L735.18,1276.63 L734.12,1268.99 L733.3,1261.31 L732.71,1253.64 L732.35,1246.01 Z" fill="#8ea4a7" stroke-width="1" stroke="#2c393b"/>
<path d="M802.38,1379.49 L805.87,1378.81 L809.29,1377.63 L812.61,1375.95 L815.83,1373.79 L818.94,1371.15 L821.9,1368.05 L824.73,1364.49 L827.39,1360.49 L829.89,1356.08 L832.21,1351.26 L834.33,1346.07 L836.26,1340.51 L837.99,1334.62 L839.5,1328.42 L840.79,1321.94 L841.85,1315.2 L842.68,1308.24 L843.28,1301.08 L843.64,1293.76 L843.76,1286.3 L843.65,1278.73 L843.29,1271.1 L842.7,1263.43 L841.88,1255.76 L840.82,1248.11 L839.54,1240.53 L838.03,1233.03 L836.32,1225.67 L834.39,1218.46 L832.27,1211.44 L829.96,1204.64 L827.47,1198.08 L824.81,1191.8 L821.99,1185.83 L819.02,1180.18 L815.93,1174.88 L812.71,1169.95 L809.39,1165.43 L805.97,1161.31 L802.48,1157.64 L798.93,1154.4 L795.33,1151.64 L791.7,1149.34 L788.05,1147.53 L784.41,1146.21 L780.77,1145.39 L777.17,1145.07 L773.62,1145.25" stroke-width="0.9" stroke="#2c393b"/>
<path d="M718.29,1240.11 L718.42,1232.52 L718.79,1225.07 L719.39,1217.79 L720.24,1210.71 L721.32,1203.86 L722.63,1197.27 L724.17,1190.97 L725.92,1184.98 L727.88,1179.33 L730.04,1174.04 L732.4,1169.14 L734.94,1164.65 L737.65,1160.59 L740.52,1156.97 L743.54,1153.82 L746.69,1151.13 L749.97,1148.93 L753.35,1147.23 L756.82,1146.03 L760.38,1145.33 L774.38,1143.11 L777.99,1142.92 L781.65,1143.25 L785.35,1144.08 L789.05,1145.42 L792.76,1147.27 L796.46,1149.6 L800.12,1152.42 L803.73,1155.7 L807.28,1159.44 L810.75,1163.62 L814.13,1168.23 L817.4,1173.24 L820.55,1178.62 L823.56,1184.37 L826.43,1190.45 L829.14,1196.83 L831.67,1203.5 L834.02,1210.42 L836.18,1217.56 L838.14,1224.89 L839.88,1232.38 L841.41,1240 L842.71,1247.71 L843.79,1255.49 L844.63,1263.29 L845.23,1271.09 L845.59,1278.85 L845.71,1286.54 L845.58,1294.13 L845.21,1301.58 L844.61,1308.86 L843.76,1315.94 L842.68,1322.79 L841.37,1329.38 L839.83,1335.69 L838.08,1341.68 L836.12,1347.33 L833.96,1352.61 L831.6,1357.51 L829.06,1362 L826.35,1366.06 L823.48,1369.68 L820.46,1372.84 L817.31,1375.52 L814.03,1377.72 L810.65,1379.42 L807.18,1380.62 L803.62,1381.32 L789.62,1383.54 L786.01,1383.73 L782.35,1383.4 L778.65,1382.57 L774.95,1381.23 L771.24,1379.39 L767.54,1377.05 L763.88,1374.24 L760.27,1370.95 L756.72,1367.21 L753.25,1363.03 L749.87,1358.42 L746.6,1353.42 L743.45,1348.03 L740.44,1342.28 L737.57,1336.2 L734.86,1329.82 L732.33,1323.15 L729.98,1316.23 L727.82,1309.09 L725.86,1301.76 L724.12,1294.27 L722.59,1286.66 L721.29,1278.94 L720.21,1271.17 L719.37,1263.36 L718.77,1255.56 L718.41,1247.8 Z" fill="#cfe2e4" stroke-width="1" stroke="#2c393b"/>
<path d="M789.62,1383.54 L793.18,1382.85 L796.65,1381.65 L800.03,1379.94 L803.31,1377.74 L806.46,1375.06 L809.48,1371.9 L812.35,1368.29 L815.06,1364.22 L817.6,1359.73 L819.96,1354.84 L822.12,1349.55 L824.08,1343.9 L825.83,1337.91 L827.37,1331.61 L828.68,1325.02 L829.76,1318.17 L830.61,1311.08 L831.21,1303.8 L831.58,1296.35 L831.71,1288.77 L831.59,1281.08 L831.23,1273.32 L830.63,1265.52 L829.79,1257.71 L828.71,1249.94 L827.41,1242.22 L825.88,1234.6 L824.14,1227.11 L822.18,1219.78 L820.02,1212.64 L817.67,1205.73 L815.14,1199.06 L812.43,1192.67 L809.56,1186.6 L806.55,1180.85 L803.4,1175.46 L800.13,1170.46 L796.75,1165.85 L793.28,1161.67 L789.73,1157.93 L786.12,1154.64 L782.46,1151.83 L778.76,1149.49 L775.05,1147.65 L771.35,1146.31 L767.65,1145.47 L763.99,1145.15 L760.38,1145.33" stroke-width="0.9" stroke="#2c393b"/>
<path d="M787.75,1384.86 L791.33,1384.15 L794.83,1382.94 L798.24,1381.22 L801.54,1379.01 L804.72,1376.3 L807.77,1373.12 L810.66,1369.47 L813.39,1365.37 L815.95,1360.85 L818.33,1355.91 L820.51,1350.58 L822.49,1344.88 L824.26,1338.84 L825.81,1332.49 L827.13,1325.84 L828.22,1318.93 L829.07,1311.79 L829.68,1304.45 L830.05,1296.94 L830.18,1289.29 L830.06,1281.53 L829.7,1273.71 L829.09,1265.84 L828.25,1257.97 L827.16,1250.13 L825.85,1242.36 L824.31,1234.67 L822.55,1227.12 L820.57,1219.73 L818.4,1212.53 L816.03,1205.56 L813.47,1198.83 L810.74,1192.39 L807.85,1186.26 L804.81,1180.47 L801.64,1175.04 L798.34,1169.99 L794.93,1165.35 L791.43,1161.13 L787.85,1157.36 L784.21,1154.04 L780.52,1151.21 L776.79,1148.85 L773.05,1147 L769.31,1145.64 L765.59,1144.8 L761.9,1144.47 L758.25,1144.66 L754.67,1145.36 L751.17,1146.57 L747.76,1148.29 L744.46,1150.51 L741.28,1153.21 L738.23,1156.4 L735.34,1160.04 L732.61,1164.14 L730.05,1168.67 L727.67,1173.61 L725.49,1178.93 L723.51,1184.63 L721.74,1190.67 L720.19,1197.03 L718.87,1203.67 L717.78,1210.58 L716.93,1217.72 L716.32,1225.06 L715.95,1232.58 L715.82,1240.23 L715.94,1247.98 L716.3,1255.81 L716.91,1263.67 L717.75,1271.54 L718.84,1279.38 L720.15,1287.16 L721.69,1294.84 L723.45,1302.39 L725.43,1309.78 L727.6,1316.98 L729.97,1323.96 L732.53,1330.68 L735.26,1337.12 L738.15,1343.25 L741.19,1349.04 L744.36,1354.48 L747.66,1359.52 L751.07,1364.17 L754.57,1368.38 L758.15,1372.16 L761.79,1375.47 L765.48,1378.31 L769.21,1380.66 L772.95,1382.52 L776.69,1383.87 L780.41,1384.71 L784.1,1385.04 L787.75,1384.86 Z M785.19,1364.01 L788.15,1363.43 L791.04,1362.43 L793.86,1361.01 L796.59,1359.18 L799.22,1356.94 L801.73,1354.31 L804.12,1351.3 L806.38,1347.91 L808.5,1344.17 L810.46,1340.09 L812.27,1335.68 L813.9,1330.98 L815.36,1325.99 L816.64,1320.73 L817.73,1315.24 L818.63,1309.53 L819.34,1303.63 L819.85,1297.56 L820.15,1291.35 L820.26,1285.03 L820.16,1278.62 L819.86,1272.15 L819.36,1265.65 L818.66,1259.15 L817.76,1252.67 L816.68,1246.24 L815.4,1239.9 L813.95,1233.65 L812.32,1227.54 L810.52,1221.59 L808.56,1215.83 L806.45,1210.27 L804.19,1204.95 L801.8,1199.89 L799.29,1195.1 L796.67,1190.61 L793.94,1186.44 L791.13,1182.6 L788.23,1179.12 L785.27,1176 L782.26,1173.26 L779.21,1170.91 L776.14,1168.97 L773.05,1167.43 L769.95,1166.32 L766.88,1165.62 L763.83,1165.35 L760.81,1165.5 L757.85,1166.08 L754.96,1167.08 L752.14,1168.5 L749.41,1170.34 L746.78,1172.57 L744.27,1175.2 L741.88,1178.22 L739.62,1181.6 L737.5,1185.34 L735.54,1189.43 L733.73,1193.83 L732.1,1198.54 L730.64,1203.53 L729.36,1208.78 L728.27,1214.28 L727.37,1219.98 L726.66,1225.89 L726.15,1231.95 L725.85,1238.16 L725.74,1244.48 L725.84,1250.89 L726.14,1257.36 L726.64,1263.86 L727.34,1270.36 L728.24,1276.84 L729.32,1283.27 L730.6,1289.62 L732.05,1295.86 L733.68,1301.97 L735.48,1307.92 L737.44,1313.68 L739.55,1319.24 L741.81,1324.56 L744.2,1329.63 L746.71,1334.41 L749.33,1338.9 L752.06,1343.08 L754.87,1346.91 L757.77,1350.4 L760.73,1353.52 L763.74,1356.26 L766.79,1358.6 L769.86,1360.55 L772.95,1362.08 L776.05,1363.2 L779.12,1363.89 L782.17,1364.17 L785.19,1364.01 Z" fill="#a8bec1" fill-rule="evenodd" stroke="#2c393b" stroke-width="1.0"/>
<path d="M798.22,1376.38 L795.42,1380.84 L789.82,1380.84 L787.02,1376.38 L789.82,1371.92 L795.42,1371.92 Z" fill="#b9cdd0" stroke-width="1.1" stroke="#1f2a2c"/><circle cx="793.12" cy="1376.18" r="2.8" fill="#f2f9fa" stroke-width="0.8" stroke="#2a3537"/>
<path d="M808.88,1369.36 L806.08,1373.82 L800.48,1373.82 L797.68,1369.36 L800.48,1364.89 L806.08,1364.89 Z" fill="#b9cdd0" stroke-width="1.1" stroke="#1f2a2c"/><circle cx="803.78" cy="1369.16" r="2.8" fill="#f2f9fa" stroke-width="0.8" stroke="#2a3537"/>
<path d="M818.02,1357.08 L815.22,1361.54 L809.62,1361.54 L806.82,1357.08 L809.62,1352.62 L815.22,1352.62 Z" fill="#b9cdd0" stroke-width="1.1" stroke="#1f2a2c"/><circle cx="812.92" cy="1356.88" r="2.8" fill="#f2f9fa" stroke-width="0.8" stroke="#2a3537"/>
<path d="M825.19,1340.18 L822.39,1344.64 L816.79,1344.64 L813.99,1340.18 L816.79,1335.72 L822.39,1335.72 Z" fill="#b9cdd0" stroke-width="1.1" stroke="#1f2a2c"/><circle cx="820.09" cy="1339.98" r="2.8" fill="#f2f9fa" stroke-width="0.8" stroke="#2a3537"/>
<path d="M830.02,1319.5 L827.22,1323.96 L821.62,1323.96 L818.82,1319.5 L821.62,1315.04 L827.22,1315.04 Z" fill="#b9cdd0" stroke-width="1.1" stroke="#1f2a2c"/><circle cx="824.92" cy="1319.3" r="2.8" fill="#f2f9fa" stroke-width="0.8" stroke="#2a3537"/>
<path d="M832.27,1296.07 L829.47,1300.53 L823.87,1300.53 L821.07,1296.07 L823.87,1291.61 L829.47,1291.61 Z" fill="#b9cdd0" stroke-width="1.1" stroke="#1f2a2c"/><circle cx="827.17" cy="1295.87" r="2.8" fill="#f2f9fa" stroke-width="0.8" stroke="#2a3537"/>
<path d="M831.83,1271.07 L829.03,1275.53 L823.43,1275.53 L820.63,1271.07 L823.43,1266.61 L829.03,1266.61 Z" fill="#b9cdd0" stroke-width="1.1" stroke="#1f2a2c"/><circle cx="826.73" cy="1270.87" r="2.8" fill="#f2f9fa" stroke-width="0.8" stroke="#2a3537"/>
<path d="M828.72,1245.75 L825.92,1250.22 L820.32,1250.22 L817.52,1245.75 L820.32,1241.29 L825.92,1241.29 Z" fill="#b9cdd0" stroke-width="1.1" stroke="#1f2a2c"/><circle cx="823.62" cy="1245.55" r="2.8" fill="#f2f9fa" stroke-width="0.8" stroke="#2a3537"/>
<path d="M823.1,1221.39 L820.3,1225.85 L814.7,1225.85 L811.9,1221.39 L814.7,1216.93 L820.3,1216.93 Z" fill="#b9cdd0" stroke-width="1.1" stroke="#1f2a2c"/><circle cx="818" cy="1221.19" r="2.8" fill="#f2f9fa" stroke-width="0.8" stroke="#2a3537"/>
<path d="M815.25,1199.2 L812.45,1203.67 L806.85,1203.67 L804.05,1199.2 L806.85,1194.74 L812.45,1194.74 Z" fill="#b9cdd0" stroke-width="1.1" stroke="#1f2a2c"/><circle cx="810.15" cy="1199" r="2.8" fill="#f2f9fa" stroke-width="0.8" stroke="#2a3537"/>
<path d="M805.56,1180.3 L802.76,1184.76 L797.16,1184.76 L794.36,1180.3 L797.16,1175.84 L802.76,1175.84 Z" fill="#b9cdd0" stroke-width="1.1" stroke="#1f2a2c"/><circle cx="800.46" cy="1180.1" r="2.8" fill="#f2f9fa" stroke-width="0.8" stroke="#2a3537"/>
<path d="M794.51,1165.64 L791.71,1170.1 L786.11,1170.1 L783.31,1165.64 L786.11,1161.18 L791.71,1161.18 Z" fill="#b9cdd0" stroke-width="1.1" stroke="#1f2a2c"/><circle cx="789.41" cy="1165.44" r="2.8" fill="#f2f9fa" stroke-width="0.8" stroke="#2a3537"/>
<path d="M782.67,1155.94 L779.87,1160.4 L774.27,1160.4 L771.47,1155.94 L774.27,1151.48 L779.87,1151.48 Z" fill="#b9cdd0" stroke-width="1.1" stroke="#1f2a2c"/><circle cx="777.57" cy="1155.74" r="2.8" fill="#f2f9fa" stroke-width="0.8" stroke="#2a3537"/>
<path d="M770.63,1151.7 L767.83,1156.16 L762.23,1156.16 L759.43,1151.7 L762.23,1147.24 L767.83,1147.24 Z" fill="#b9cdd0" stroke-width="1.1" stroke="#1f2a2c"/><circle cx="765.53" cy="1151.5" r="2.8" fill="#f2f9fa" stroke-width="0.8" stroke="#2a3537"/>
<path d="M758.98,1153.13 L756.18,1157.59 L750.58,1157.59 L747.78,1153.13 L750.58,1148.67 L756.18,1148.67 Z" fill="#b9cdd0" stroke-width="1.1" stroke="#1f2a2c"/><circle cx="753.88" cy="1152.93" r="2.8" fill="#f2f9fa" stroke-width="0.8" stroke="#2a3537"/>
<path d="M748.32,1160.16 L745.52,1164.62 L739.92,1164.62 L737.12,1160.16 L739.92,1155.7 L745.52,1155.7 Z" fill="#b9cdd0" stroke-width="1.1" stroke="#1f2a2c"/><circle cx="743.22" cy="1159.96" r="2.8" fill="#f2f9fa" stroke-width="0.8" stroke="#2a3537"/>
<path d="M739.18,1172.43 L736.38,1176.89 L730.78,1176.89 L727.98,1172.43 L730.78,1167.97 L736.38,1167.97 Z" fill="#b9cdd0" stroke-width="1.1" stroke="#1f2a2c"/><circle cx="734.08" cy="1172.23" r="2.8" fill="#f2f9fa" stroke-width="0.8" stroke="#2a3537"/>
<path d="M732.01,1189.33 L729.21,1193.79 L723.61,1193.79 L720.81,1189.33 L723.61,1184.87 L729.21,1184.87 Z" fill="#b9cdd0" stroke-width="1.1" stroke="#1f2a2c"/><circle cx="726.91" cy="1189.13" r="2.8" fill="#f2f9fa" stroke-width="0.8" stroke="#2a3537"/>
<path d="M727.18,1210.02 L724.38,1214.48 L718.78,1214.48 L715.98,1210.02 L718.78,1205.55 L724.38,1205.55 Z" fill="#b9cdd0" stroke-width="1.1" stroke="#1f2a2c"/><circle cx="722.08" cy="1209.82" r="2.8" fill="#f2f9fa" stroke-width="0.8" stroke="#2a3537"/>
<path d="M724.93,1233.45 L722.13,1237.91 L716.53,1237.91 L713.73,1233.45 L716.53,1228.98 L722.13,1228.98 Z" fill="#b9cdd0" stroke-width="1.1" stroke="#1f2a2c"/><circle cx="719.83" cy="1233.25" r="2.8" fill="#f2f9fa" stroke-width="0.8" stroke="#2a3537"/>
<path d="M725.37,1258.44 L722.57,1262.91 L716.97,1262.91 L714.17,1258.44 L716.97,1253.98 L722.57,1253.98 Z" fill="#b9cdd0" stroke-width="1.1" stroke="#1f2a2c"/><circle cx="720.27" cy="1258.24" r="2.8" fill="#f2f9fa" stroke-width="0.8" stroke="#2a3537"/>
<path d="M728.48,1283.76 L725.68,1288.22 L720.08,1288.22 L717.28,1283.76 L720.08,1279.3 L725.68,1279.3 Z" fill="#b9cdd0" stroke-width="1.1" stroke="#1f2a2c"/><circle cx="723.38" cy="1283.56" r="2.8" fill="#f2f9fa" stroke-width="0.8" stroke="#2a3537"/>
<path d="M734.1,1308.12 L731.3,1312.58 L725.7,1312.58 L722.9,1308.12 L725.7,1303.66 L731.3,1303.66 Z" fill="#b9cdd0" stroke-width="1.1" stroke="#1f2a2c"/><circle cx="729" cy="1307.92" r="2.8" fill="#f2f9fa" stroke-width="0.8" stroke="#2a3537"/>
<path d="M741.95,1330.31 L739.15,1334.77 L733.55,1334.77 L730.75,1330.31 L733.55,1325.85 L739.15,1325.85 Z" fill="#b9cdd0" stroke-width="1.1" stroke="#1f2a2c"/><circle cx="736.85" cy="1330.11" r="2.8" fill="#f2f9fa" stroke-width="0.8" stroke="#2a3537"/>
<path d="M751.64,1349.21 L748.84,1353.67 L743.24,1353.67 L740.44,1349.21 L743.24,1344.75 L748.84,1344.75 Z" fill="#b9cdd0" stroke-width="1.1" stroke="#1f2a2c"/><circle cx="746.54" cy="1349.01" r="2.8" fill="#f2f9fa" stroke-width="0.8" stroke="#2a3537"/>
<path d="M762.69,1363.88 L759.89,1368.34 L754.29,1368.34 L751.49,1363.88 L754.29,1359.42 L759.89,1359.42 Z" fill="#b9cdd0" stroke-width="1.1" stroke="#1f2a2c"/><circle cx="757.59" cy="1363.68" r="2.8" fill="#f2f9fa" stroke-width="0.8" stroke="#2a3537"/>
<path d="M774.53,1373.57 L771.73,1378.03 L766.13,1378.03 L763.33,1373.57 L766.13,1369.11 L771.73,1369.11 Z" fill="#b9cdd0" stroke-width="1.1" stroke="#1f2a2c"/><circle cx="769.43" cy="1373.37" r="2.8" fill="#f2f9fa" stroke-width="0.8" stroke="#2a3537"/>
<path d="M786.57,1377.81 L783.77,1382.27 L778.17,1382.27 L775.37,1377.81 L778.17,1373.35 L783.77,1373.35 Z" fill="#b9cdd0" stroke-width="1.1" stroke="#1f2a2c"/><circle cx="781.47" cy="1377.61" r="2.8" fill="#f2f9fa" stroke-width="0.8" stroke="#2a3537"/>
<path d="M694.35,1257.75 L694.37,1256.2 L694.51,1249.83 L694.92,1243.63 L695.6,1237.63 L696.54,1231.9 L697.21,1228.82 L698.49,1223.03 L700.03,1217.6 L701.82,1212.58 L703.21,1208.86 L705.35,1204.04 L707.26,1200.48 L709.75,1195.97 L712.46,1192.02 L714.94,1188.57 L717.96,1185.09 L720.86,1182.04 L724.17,1179.12 L727.41,1176.52 L730.97,1174.23 L734.5,1172.15 L738.26,1170.56 L742.01,1169.04 L745.88,1168.12 L749.81,1167.25 L753.84,1167.14 L757.93,1167.79 L762.05,1169.18 L766.16,1171.32 L770.25,1174.18 L774.27,1177.75 L778.2,1181.99 L782.01,1186.87 L785.67,1192.36 L789.14,1198.41 L792.41,1204.98 L795.45,1212.02 L798.23,1219.48 L800.74,1227.29 L802.95,1235.4 L804.85,1243.75 L806.42,1252.27 L807.66,1260.9 L808.55,1269.57 L809.08,1278.22 L809.26,1286.78 L809.07,1295.19 L808.53,1303.37 L807.63,1311.28 L806.39,1318.84 L804.81,1326.01 L802.9,1332.73 L800.68,1338.94 L798.17,1344.6 L795.38,1349.66 L792.34,1354.09 L789.07,1357.86 L785.59,1360.93 L781.93,1363.28 L778.12,1364.89 L774.19,1365.76 L770.23,1366.08 L766.21,1366.19 L762.25,1365.9 L758.21,1365.27 L754.32,1364.38 L750.31,1363.02 L746.57,1361.55 L742.65,1359.52 L739.13,1357.51 L735.36,1354.87 L732.15,1352.37 L728.56,1349.2 L725.73,1346.28 L722.37,1342.66 L719.13,1338.5 L716.91,1335.45 L713.95,1331.02 L711.14,1326.12 L709.61,1323.17 L707.13,1318.19 L704.83,1312.86 L702.72,1307.21 L700.82,1301.28 L700.33,1299.52 L698.78,1293.83 L697.44,1287.97 L696.34,1281.98 L695.47,1275.92 L694.84,1269.83 L694.47,1263.76 Z" fill="url(#gDome)" stroke-width="1.1" stroke="#2c393b"/>
<path d="M770.16,1365.87 L773.35,1365.85 L776.49,1365.35 L779.56,1364.38 L782.55,1362.94 L785.44,1361.04 L788.22,1358.69 L790.87,1355.9 L793.38,1352.69 L795.75,1349.06 L797.95,1345.04 L799.98,1340.65 L801.83,1335.9 L803.49,1330.82 L804.95,1325.43 L806.21,1319.76 L807.26,1313.84 L808.09,1307.69 L808.7,1301.35 L809.09,1294.84 L809.25,1288.19 L809.19,1281.44 L808.9,1274.62 L808.39,1267.77 L807.66,1260.9 L806.71,1254.06 L805.54,1247.28 L804.17,1240.6 L802.6,1234.03 L800.83,1227.62 L798.88,1221.4 L796.75,1215.39 L794.46,1209.63 L792.01,1204.14 L789.42,1198.94 L786.7,1194.07 L783.86,1189.54 L780.92,1185.38 L777.88,1181.61 L774.77,1178.24 L771.6,1175.29 L768.38,1172.78 L765.14,1170.72 L761.87,1169.11 L758.61,1167.97 L755.37,1167.29 L752.15,1167.09 L748.99,1167.37 L745.88,1168.12" stroke-width="1.2" stroke="#2c393b"/>
<path d="M779.31,1365.96 L782.3,1365.37 L785.22,1364.36 L788.07,1362.93 L790.82,1361.08 L793.48,1358.82 L796.02,1356.16 L798.43,1353.12 L800.72,1349.7 L802.85,1345.92 L804.84,1341.8 L806.66,1337.35 L808.31,1332.59 L809.79,1327.55 L811.08,1322.25 L812.18,1316.7 L813.09,1310.93 L813.8,1304.97 L814.31,1298.84 L814.62,1292.57 L814.73,1286.19 L814.63,1279.71 L814.33,1273.18 L813.82,1266.62 L813.11,1260.05 L812.21,1253.5 L811.11,1247.01 L809.83,1240.6 L808.36,1234.3 L806.71,1228.13 L804.89,1222.12 L802.91,1216.29 L800.78,1210.68 L798.5,1205.31 L796.09,1200.19 L793.55,1195.36 L790.9,1190.82 L788.15,1186.61 L785.31,1182.73 L782.38,1179.21 L779.4,1176.06 L776.36,1173.3 L773.28,1170.93 L770.17,1168.96 L767.05,1167.41 L763.92,1166.29 L760.82,1165.58 L757.73,1165.31 L754.69,1165.46" stroke-width="1" stroke="#2c393b"/>
<ellipse cx="760" cy="1228" rx="5" ry="16" transform="rotate(-10 760 1228)" fill="#eef8f9" stroke="none" opacity="0.8"/>
<ellipse cx="753" cy="1312" rx="4.5" ry="13" transform="rotate(-5 753 1312)" fill="#eef8f9" stroke="none" opacity="0.8"/>
<path d="M741,1249 L722,1249 Q718.8,1249 718.8,1253 L718.8,1309 Q718.8,1313.5 722,1313.5 L741,1313.8" stroke-width="5.2" stroke="#2c393b"/>
<path d="M741,1249 L722,1249 Q718.8,1249 718.8,1253 L718.8,1309 Q718.8,1313.5 722,1313.5 L741,1313.8" stroke-width="3.4" stroke="#e6f2f3"/>
<path d="M704,1233 L688,1233 Q683.7,1233 683.7,1237 L683.7,1293 Q683.7,1297 688,1297 L704,1297" stroke-width="5.2" stroke="#2c393b"/>
<path d="M704,1233 L688,1233 Q683.7,1233 683.7,1237 L683.7,1293 Q683.7,1297 688,1297 L704,1297" stroke-width="3.4" stroke="#e6f2f3"/>
<linearGradient id="gDav" x1="0" y1="0" x2="1" y2="0"><stop offset="0" stop-color="#b3c9cc"/><stop offset="0.35" stop-color="#d8ebec"/><stop offset="0.7" stop-color="#cfe3e5"/><stop offset="1" stop-color="#a9bfc2"/></linearGradient>
<path d="M784,1150 L784,1036 Q784,1023 796,1023 Q807.2,1023 807.2,1036 L807.2,1148 Z" fill="url(#gDav)" stroke-width="1.1" stroke="#2c393b"/>
<path d="M784,1036 Q790,1031 807,1033" stroke-width="0.9" stroke="#2c393b"/>
<path d="M784,1076 Q796,1079 807.2,1076" stroke-width="0.9" stroke="#2c393b"/>
<path d="M772.4,1055 L793.7,1057.5 L793.7,1062.7 L772.4,1060 Z" fill="#d8e9eb" stroke-width="1.1" stroke="#2c393b"/>
<path d="M775,1051 L791,1048 L793.7,1057.5 L772.4,1055 Z" fill="#a9bfc2" stroke-width="1" stroke="#2c393b"/>
<rect x="779" y="1037" width="9.5" height="17" rx="1.5" fill="#d3e5e7" stroke-width="1" stroke="#1f2a2c"/>
<line x1="779" y1="1045.5" x2="788.5" y2="1045.5" stroke-width="0.9" stroke="#1f2a2c"/>
<line x1="783.7" y1="1037" x2="783.7" y2="1054" stroke-width="0.9" stroke="#1f2a2c"/>
<path d="M788,1063 L791.5,1063 L799,1121 L796.5,1121.5 Z" fill="#7f9699" stroke-width="0.9" stroke="#2c393b"/>
<path d="M773.5,1117.6 L786,1113 L791.5,1121 L791.5,1150 L773.5,1150 Z" fill="#b5c9cb" stroke-width="1" stroke="#2c393b"/>
<path d="M786,1113 L791.5,1121 L791.5,1150 L788,1150 L788,1121 Z" fill="#d7e8ea" stroke-width="0.8" stroke="#2c393b"/>
<ellipse cx="780.3" cy="1131" rx="2.6" ry="5.5" fill="#ffffff" stroke="#2c393b" stroke-width="1"/>
</g>

</svg>
</body></html>
